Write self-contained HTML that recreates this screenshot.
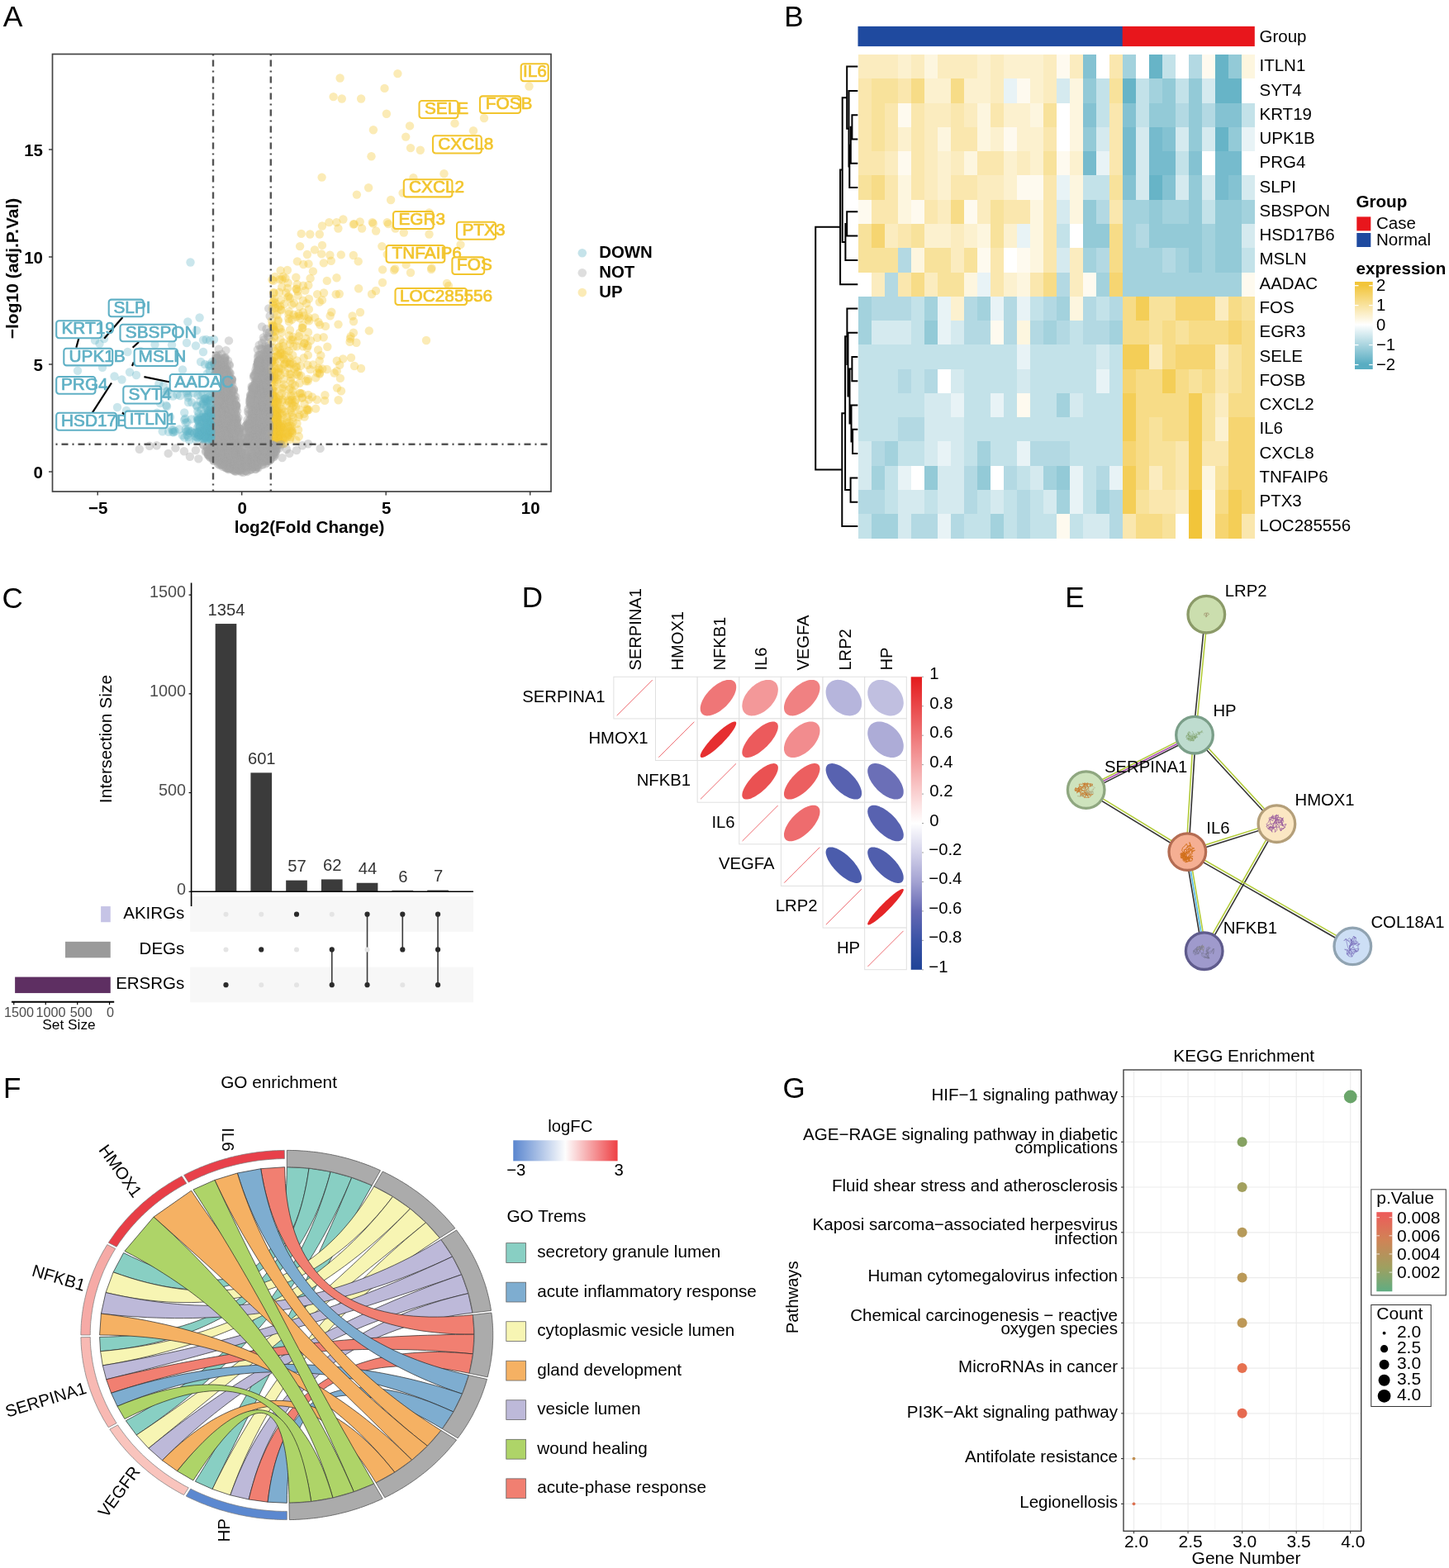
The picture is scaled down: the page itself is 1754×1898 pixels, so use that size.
<!DOCTYPE html>
<html lang="en">
<head>
<meta charset="utf-8">
<title>Figure</title>
<style>
html,body{margin:0;padding:0;background:#fff;}
body{width:1754px;height:1898px;overflow:hidden;}
svg{display:block;font-family:"Liberation Sans",sans-serif;}
</style>
</head>
<body>
<svg width="1754" height="1898" viewBox="0 0 1754 1898">
<rect width="1754" height="1898" fill="#fff"/>
<g id="panel_a">
<text x="3.7" y="31.7" font-size="35.5">A</text>
<g fill="#f3c736" fill-opacity="0.36"><circle cx="640.5" cy="104.5" r="5.2"/><circle cx="586.0" cy="143.0" r="5.2"/><circle cx="573.0" cy="158.2" r="5.2"/><circle cx="557.5" cy="296.1" r="5.2"/><circle cx="550.5" cy="149.4" r="5.2"/><circle cx="543.0" cy="346.0" r="5.2"/><circle cx="541.0" cy="343.0" r="5.2"/><circle cx="537.5" cy="210.3" r="5.2"/><circle cx="522.5" cy="324.4" r="5.2"/><circle cx="522.0" cy="326.0" r="5.2"/><circle cx="519.5" cy="257.5" r="5.2"/><circle cx="519.5" cy="283.5" r="5.2"/><circle cx="516.0" cy="412.0" r="5.2"/><circle cx="508.8" cy="181.7" r="5.2"/><circle cx="500.4" cy="215.2" r="5.2"/><circle cx="497.0" cy="330.0" r="5.2"/><circle cx="497.0" cy="179.1" r="5.2"/><circle cx="496.0" cy="152.4" r="5.2"/><circle cx="491.6" cy="320.4" r="5.2"/><circle cx="491.2" cy="165.6" r="5.2"/><circle cx="488.8" cy="281.5" r="5.2"/><circle cx="487.6" cy="233.6" r="5.2"/><circle cx="481.4" cy="89.1" r="5.2"/><circle cx="478.6" cy="276.5" r="5.2"/><circle cx="478.2" cy="325.4" r="5.2"/><circle cx="477.0" cy="327.0" r="5.2"/><circle cx="473.1" cy="242.0" r="5.2"/><circle cx="470.1" cy="271.1" r="5.2"/><circle cx="468.7" cy="269.1" r="5.2"/><circle cx="468.7" cy="308.0" r="5.2"/><circle cx="467.9" cy="137.8" r="5.2"/><circle cx="465.5" cy="106.9" r="5.2"/><circle cx="463.1" cy="326.4" r="5.2"/><circle cx="463.0" cy="342.0" r="5.2"/><circle cx="462.3" cy="298.1" r="5.2"/><circle cx="455.1" cy="279.5" r="5.2"/><circle cx="455.0" cy="352.0" r="5.2"/><circle cx="451.9" cy="157.2" r="5.2"/><circle cx="451.7" cy="270.5" r="5.2"/><circle cx="450.7" cy="269.1" r="5.2"/><circle cx="450.0" cy="356.0" r="5.2"/><circle cx="449.5" cy="189.3" r="5.2"/><circle cx="446.8" cy="400.4" r="5.2"/><circle cx="446.1" cy="227.2" r="5.2"/><circle cx="438.1" cy="276.5" r="5.2"/><circle cx="437.1" cy="119.5" r="5.2"/><circle cx="437.0" cy="446.0" r="5.2"/><circle cx="436.0" cy="378.0" r="5.2"/><circle cx="435.7" cy="268.5" r="5.2"/><circle cx="434.1" cy="349.2" r="5.2"/><circle cx="433.7" cy="316.4" r="5.2"/><circle cx="431.9" cy="235.6" r="5.2"/><circle cx="431.4" cy="414.7" r="5.2"/><circle cx="429.0" cy="443.0" r="5.2"/><circle cx="428.8" cy="271.1" r="5.2"/><circle cx="428.0" cy="389.0" r="5.2"/><circle cx="427.9" cy="402.8" r="5.2"/><circle cx="427.8" cy="271.5" r="5.2"/><circle cx="427.8" cy="309.0" r="5.2"/><circle cx="426.6" cy="382.5" r="5.2"/><circle cx="425.0" cy="433.0" r="5.2"/><circle cx="424.6" cy="407.2" r="5.2"/><circle cx="423.9" cy="409.9" r="5.2"/><circle cx="423.5" cy="413.9" r="5.2"/><circle cx="415.4" cy="265.5" r="5.2"/><circle cx="415.2" cy="434.4" r="5.2"/><circle cx="413.8" cy="119.5" r="5.2"/><circle cx="413.0" cy="473.2" r="5.2"/><circle cx="412.8" cy="308.4" r="5.2"/><circle cx="411.9" cy="457.9" r="5.2"/><circle cx="411.6" cy="94.5" r="5.2"/><circle cx="411.2" cy="441.7" r="5.2"/><circle cx="410.8" cy="355.8" r="5.2"/><circle cx="409.6" cy="484.3" r="5.2"/><circle cx="409.5" cy="392.6" r="5.2"/><circle cx="409.4" cy="276.5" r="5.2"/><circle cx="408.0" cy="469.6" r="5.2"/><circle cx="407.8" cy="436.7" r="5.2"/><circle cx="407.7" cy="449.2" r="5.2"/><circle cx="407.5" cy="336.3" r="5.2"/><circle cx="407.4" cy="269.1" r="5.2"/><circle cx="406.7" cy="356.2" r="5.2"/><circle cx="404.7" cy="451.5" r="5.2"/><circle cx="403.6" cy="117.1" r="5.2"/><circle cx="401.3" cy="377.7" r="5.2"/><circle cx="400.8" cy="315.8" r="5.2"/><circle cx="399.7" cy="382.2" r="5.2"/><circle cx="399.4" cy="308.8" r="5.2"/><circle cx="398.4" cy="269.1" r="5.2"/><circle cx="396.3" cy="419.7" r="5.2"/><circle cx="395.8" cy="339.9" r="5.2"/><circle cx="395.7" cy="447.0" r="5.2"/><circle cx="394.0" cy="394.9" r="5.2"/><circle cx="393.4" cy="478.2" r="5.2"/><circle cx="393.1" cy="484.9" r="5.2"/><circle cx="392.0" cy="354.5" r="5.2"/><circle cx="391.8" cy="318.4" r="5.2"/><circle cx="391.7" cy="408.3" r="5.2"/><circle cx="390.3" cy="446.5" r="5.2"/><circle cx="390.0" cy="273.5" r="5.2"/><circle cx="390.0" cy="296.9" r="5.2"/><circle cx="390.0" cy="363.2" r="5.2"/><circle cx="389.6" cy="214.6" r="5.2"/><circle cx="389.2" cy="307.4" r="5.2"/><circle cx="388.3" cy="430.2" r="5.2"/><circle cx="387.3" cy="393.1" r="5.2"/><circle cx="387.0" cy="452.6" r="5.2"/><circle cx="386.8" cy="283.5" r="5.2"/><circle cx="386.8" cy="451.6" r="5.2"/><circle cx="386.7" cy="365.6" r="5.2"/><circle cx="386.7" cy="436.6" r="5.2"/><circle cx="386.6" cy="447.4" r="5.2"/><circle cx="385.5" cy="445.6" r="5.2"/><circle cx="385.5" cy="390.0" r="5.2"/><circle cx="385.1" cy="423.5" r="5.2"/><circle cx="384.1" cy="356.1" r="5.2"/><circle cx="384.0" cy="408.7" r="5.2"/><circle cx="384.0" cy="451.3" r="5.2"/><circle cx="383.7" cy="483.7" r="5.2"/><circle cx="382.2" cy="494.6" r="5.2"/><circle cx="382.2" cy="457.4" r="5.2"/><circle cx="381.2" cy="384.4" r="5.2"/><circle cx="380.9" cy="302.4" r="5.2"/><circle cx="378.9" cy="441.4" r="5.2"/><circle cx="378.9" cy="328.4" r="5.2"/><circle cx="377.9" cy="480.5" r="5.2"/><circle cx="376.0" cy="412.3" r="5.2"/><circle cx="375.6" cy="336.9" r="5.2"/><circle cx="375.5" cy="447.1" r="5.2"/><circle cx="375.3" cy="283.5" r="5.2"/><circle cx="374.0" cy="388.4" r="5.2"/><circle cx="373.9" cy="361.7" r="5.2"/><circle cx="373.9" cy="483.6" r="5.2"/><circle cx="373.9" cy="374.4" r="5.2"/><circle cx="373.7" cy="496.0" r="5.2"/><circle cx="373.6" cy="384.3" r="5.2"/><circle cx="373.5" cy="319.4" r="5.2"/><circle cx="373.3" cy="345.2" r="5.2"/><circle cx="373.1" cy="477.9" r="5.2"/><circle cx="373.0" cy="402.2" r="5.2"/><circle cx="372.8" cy="429.9" r="5.2"/><circle cx="372.8" cy="461.3" r="5.2"/><circle cx="372.7" cy="459.0" r="5.2"/><circle cx="372.7" cy="418.5" r="5.2"/><circle cx="372.5" cy="386.5" r="5.2"/><circle cx="372.3" cy="441.7" r="5.2"/><circle cx="372.3" cy="496.5" r="5.2"/><circle cx="371.9" cy="420.9" r="5.2"/><circle cx="371.9" cy="308.0" r="5.2"/><circle cx="371.7" cy="494.6" r="5.2"/><circle cx="371.6" cy="496.3" r="5.2"/><circle cx="371.0" cy="367.3" r="5.2"/><circle cx="370.3" cy="461.3" r="5.2"/><circle cx="370.1" cy="409.6" r="5.2"/><circle cx="369.4" cy="351.6" r="5.2"/><circle cx="368.6" cy="504.6" r="5.2"/><circle cx="368.5" cy="488.7" r="5.2"/><circle cx="368.4" cy="415.3" r="5.2"/><circle cx="368.3" cy="382.3" r="5.2"/><circle cx="368.3" cy="415.8" r="5.2"/><circle cx="367.9" cy="500.9" r="5.2"/><circle cx="367.7" cy="433.3" r="5.2"/><circle cx="367.3" cy="320.0" r="5.2"/><circle cx="367.0" cy="345.7" r="5.2"/><circle cx="366.9" cy="363.8" r="5.2"/><circle cx="366.9" cy="378.0" r="5.2"/><circle cx="366.6" cy="419.4" r="5.2"/><circle cx="366.6" cy="393.5" r="5.2"/><circle cx="366.3" cy="397.0" r="5.2"/><circle cx="366.0" cy="481.1" r="5.2"/><circle cx="365.7" cy="396.8" r="5.2"/><circle cx="365.5" cy="476.4" r="5.2"/><circle cx="365.2" cy="481.8" r="5.2"/><circle cx="364.7" cy="282.9" r="5.2"/><circle cx="364.4" cy="454.8" r="5.2"/><circle cx="363.9" cy="442.8" r="5.2"/><circle cx="363.6" cy="476.2" r="5.2"/><circle cx="363.2" cy="385.2" r="5.2"/><circle cx="363.1" cy="298.1" r="5.2"/><circle cx="362.9" cy="475.7" r="5.2"/><circle cx="362.8" cy="402.6" r="5.2"/><circle cx="362.7" cy="502.0" r="5.2"/><circle cx="362.6" cy="370.8" r="5.2"/><circle cx="362.6" cy="463.8" r="5.2"/><circle cx="362.2" cy="495.7" r="5.2"/><circle cx="362.1" cy="382.1" r="5.2"/><circle cx="361.9" cy="454.6" r="5.2"/><circle cx="361.8" cy="528.2" r="5.2"/><circle cx="361.6" cy="407.0" r="5.2"/><circle cx="361.5" cy="379.7" r="5.2"/><circle cx="361.3" cy="504.7" r="5.2"/><circle cx="361.1" cy="520.2" r="5.2"/><circle cx="360.8" cy="412.3" r="5.2"/><circle cx="360.7" cy="357.6" r="5.2"/><circle cx="360.6" cy="450.3" r="5.2"/><circle cx="360.1" cy="352.6" r="5.2"/><circle cx="359.9" cy="316.4" r="5.2"/><circle cx="359.7" cy="344.2" r="5.2"/><circle cx="359.5" cy="436.5" r="5.2"/><circle cx="359.5" cy="512.7" r="5.2"/><circle cx="359.3" cy="419.3" r="5.2"/><circle cx="359.2" cy="453.3" r="5.2"/><circle cx="358.9" cy="349.4" r="5.2"/><circle cx="358.9" cy="443.9" r="5.2"/><circle cx="358.7" cy="383.5" r="5.2"/><circle cx="358.6" cy="350.1" r="5.2"/><circle cx="358.5" cy="444.7" r="5.2"/><circle cx="358.4" cy="532.9" r="5.2"/><circle cx="358.4" cy="483.7" r="5.2"/><circle cx="358.3" cy="335.8" r="5.2"/><circle cx="358.2" cy="492.5" r="5.2"/><circle cx="357.1" cy="466.5" r="5.2"/><circle cx="356.9" cy="487.1" r="5.2"/><circle cx="356.2" cy="446.7" r="5.2"/><circle cx="355.9" cy="366.8" r="5.2"/><circle cx="355.5" cy="491.1" r="5.2"/><circle cx="355.5" cy="478.5" r="5.2"/><circle cx="355.4" cy="380.9" r="5.2"/><circle cx="355.3" cy="419.5" r="5.2"/><circle cx="354.9" cy="505.2" r="5.2"/><circle cx="354.5" cy="407.7" r="5.2"/><circle cx="354.5" cy="511.3" r="5.2"/><circle cx="354.3" cy="473.4" r="5.2"/><circle cx="354.3" cy="440.1" r="5.2"/><circle cx="354.3" cy="430.0" r="5.2"/><circle cx="354.2" cy="411.4" r="5.2"/><circle cx="353.9" cy="483.6" r="5.2"/><circle cx="353.9" cy="521.6" r="5.2"/><circle cx="353.8" cy="493.4" r="5.2"/><circle cx="353.8" cy="501.9" r="5.2"/><circle cx="353.8" cy="464.5" r="5.2"/><circle cx="353.5" cy="524.2" r="5.2"/><circle cx="353.4" cy="386.7" r="5.2"/><circle cx="353.4" cy="523.5" r="5.2"/><circle cx="353.2" cy="368.6" r="5.2"/><circle cx="353.2" cy="488.2" r="5.2"/><circle cx="352.8" cy="520.7" r="5.2"/><circle cx="352.8" cy="515.7" r="5.2"/><circle cx="352.5" cy="479.5" r="5.2"/><circle cx="352.4" cy="457.1" r="5.2"/><circle cx="352.4" cy="499.4" r="5.2"/><circle cx="352.0" cy="411.5" r="5.2"/><circle cx="352.0" cy="453.0" r="5.2"/><circle cx="351.8" cy="484.1" r="5.2"/><circle cx="351.7" cy="461.3" r="5.2"/><circle cx="351.7" cy="529.0" r="5.2"/><circle cx="351.6" cy="470.2" r="5.2"/><circle cx="351.5" cy="496.1" r="5.2"/><circle cx="351.4" cy="518.4" r="5.2"/><circle cx="351.2" cy="522.3" r="5.2"/><circle cx="351.2" cy="416.0" r="5.2"/><circle cx="351.2" cy="361.2" r="5.2"/><circle cx="351.0" cy="440.6" r="5.2"/><circle cx="351.0" cy="399.4" r="5.2"/><circle cx="351.0" cy="531.7" r="5.2"/><circle cx="350.9" cy="438.0" r="5.2"/><circle cx="350.8" cy="515.3" r="5.2"/><circle cx="350.4" cy="452.7" r="5.2"/><circle cx="350.2" cy="433.1" r="5.2"/><circle cx="350.1" cy="406.3" r="5.2"/><circle cx="350.1" cy="510.5" r="5.2"/><circle cx="350.0" cy="486.6" r="5.2"/><circle cx="349.9" cy="389.4" r="5.2"/><circle cx="349.9" cy="439.9" r="5.2"/><circle cx="349.9" cy="471.4" r="5.2"/><circle cx="349.8" cy="377.3" r="5.2"/><circle cx="349.7" cy="358.6" r="5.2"/><circle cx="349.5" cy="425.0" r="5.2"/><circle cx="349.4" cy="380.2" r="5.2"/><circle cx="349.3" cy="445.6" r="5.2"/><circle cx="349.3" cy="385.8" r="5.2"/><circle cx="348.9" cy="484.8" r="5.2"/><circle cx="348.9" cy="526.2" r="5.2"/><circle cx="348.7" cy="342.4" r="5.2"/><circle cx="348.7" cy="359.4" r="5.2"/><circle cx="348.6" cy="516.2" r="5.2"/><circle cx="348.4" cy="529.1" r="5.2"/><circle cx="348.3" cy="527.4" r="5.2"/><circle cx="348.2" cy="349.0" r="5.2"/><circle cx="347.9" cy="327.0" r="5.2"/><circle cx="347.7" cy="524.8" r="5.2"/><circle cx="347.6" cy="504.9" r="5.2"/><circle cx="347.3" cy="508.1" r="5.2"/><circle cx="347.2" cy="511.6" r="5.2"/><circle cx="346.8" cy="424.1" r="5.2"/><circle cx="346.7" cy="490.7" r="5.2"/><circle cx="346.7" cy="438.4" r="5.2"/><circle cx="346.2" cy="354.4" r="5.2"/><circle cx="346.0" cy="523.8" r="5.2"/><circle cx="345.8" cy="479.2" r="5.2"/><circle cx="345.5" cy="336.7" r="5.2"/><circle cx="345.2" cy="529.8" r="5.2"/><circle cx="345.2" cy="450.8" r="5.2"/><circle cx="345.1" cy="498.4" r="5.2"/><circle cx="344.8" cy="440.5" r="5.2"/><circle cx="344.3" cy="429.5" r="5.2"/><circle cx="344.1" cy="434.8" r="5.2"/><circle cx="344.1" cy="440.9" r="5.2"/><circle cx="344.1" cy="520.8" r="5.2"/><circle cx="344.0" cy="536.7" r="5.2"/><circle cx="343.9" cy="368.0" r="5.2"/><circle cx="343.9" cy="517.0" r="5.2"/><circle cx="343.7" cy="465.4" r="5.2"/><circle cx="343.3" cy="459.2" r="5.2"/><circle cx="343.0" cy="414.7" r="5.2"/><circle cx="343.0" cy="520.9" r="5.2"/><circle cx="343.0" cy="537.1" r="5.2"/><circle cx="342.8" cy="418.9" r="5.2"/><circle cx="342.6" cy="334.7" r="5.2"/><circle cx="342.5" cy="532.3" r="5.2"/><circle cx="342.4" cy="469.3" r="5.2"/><circle cx="342.3" cy="513.9" r="5.2"/><circle cx="342.3" cy="502.3" r="5.2"/><circle cx="342.3" cy="524.1" r="5.2"/><circle cx="342.2" cy="530.6" r="5.2"/><circle cx="342.0" cy="432.5" r="5.2"/><circle cx="342.0" cy="483.7" r="5.2"/><circle cx="341.9" cy="518.3" r="5.2"/><circle cx="341.9" cy="529.9" r="5.2"/><circle cx="341.8" cy="499.8" r="5.2"/><circle cx="341.5" cy="486.1" r="5.2"/><circle cx="341.5" cy="428.2" r="5.2"/><circle cx="341.4" cy="517.1" r="5.2"/><circle cx="341.4" cy="338.3" r="5.2"/><circle cx="341.3" cy="513.0" r="5.2"/><circle cx="341.2" cy="495.1" r="5.2"/><circle cx="341.1" cy="347.6" r="5.2"/><circle cx="341.1" cy="525.9" r="5.2"/><circle cx="341.0" cy="402.3" r="5.2"/><circle cx="340.9" cy="470.3" r="5.2"/><circle cx="340.9" cy="476.1" r="5.2"/><circle cx="340.6" cy="375.4" r="5.2"/><circle cx="340.3" cy="446.2" r="5.2"/><circle cx="340.3" cy="530.1" r="5.2"/><circle cx="340.3" cy="363.1" r="5.2"/><circle cx="340.2" cy="516.0" r="5.2"/><circle cx="340.2" cy="435.5" r="5.2"/><circle cx="340.1" cy="515.6" r="5.2"/><circle cx="339.8" cy="536.3" r="5.2"/><circle cx="339.8" cy="374.6" r="5.2"/><circle cx="339.8" cy="427.1" r="5.2"/><circle cx="339.7" cy="453.8" r="5.2"/><circle cx="339.6" cy="398.2" r="5.2"/><circle cx="339.6" cy="327.4" r="5.2"/><circle cx="339.4" cy="424.0" r="5.2"/><circle cx="339.4" cy="411.4" r="5.2"/><circle cx="339.4" cy="509.3" r="5.2"/><circle cx="339.3" cy="535.9" r="5.2"/><circle cx="339.2" cy="500.6" r="5.2"/><circle cx="339.2" cy="519.8" r="5.2"/><circle cx="339.2" cy="370.5" r="5.2"/><circle cx="339.2" cy="428.5" r="5.2"/><circle cx="338.6" cy="338.2" r="5.2"/><circle cx="338.4" cy="445.1" r="5.2"/><circle cx="338.3" cy="526.6" r="5.2"/><circle cx="338.3" cy="531.9" r="5.2"/><circle cx="338.3" cy="522.7" r="5.2"/><circle cx="338.2" cy="493.1" r="5.2"/><circle cx="338.2" cy="396.9" r="5.2"/><circle cx="338.2" cy="532.5" r="5.2"/><circle cx="338.1" cy="353.8" r="5.2"/><circle cx="337.9" cy="419.6" r="5.2"/><circle cx="337.9" cy="479.2" r="5.2"/><circle cx="337.7" cy="536.7" r="5.2"/><circle cx="337.6" cy="450.4" r="5.2"/><circle cx="337.5" cy="526.4" r="5.2"/><circle cx="337.5" cy="522.8" r="5.2"/><circle cx="337.3" cy="527.8" r="5.2"/><circle cx="337.1" cy="483.7" r="5.2"/><circle cx="337.1" cy="506.1" r="5.2"/><circle cx="337.0" cy="446.0" r="5.2"/><circle cx="337.0" cy="518.9" r="5.2"/><circle cx="337.0" cy="515.5" r="5.2"/><circle cx="336.9" cy="371.7" r="5.2"/><circle cx="336.9" cy="524.6" r="5.2"/><circle cx="336.9" cy="430.3" r="5.2"/><circle cx="336.8" cy="529.4" r="5.2"/><circle cx="336.8" cy="387.4" r="5.2"/><circle cx="336.8" cy="523.2" r="5.2"/><circle cx="336.7" cy="494.5" r="5.2"/><circle cx="336.6" cy="388.5" r="5.2"/><circle cx="336.6" cy="512.3" r="5.2"/><circle cx="336.5" cy="486.0" r="5.2"/><circle cx="336.5" cy="459.5" r="5.2"/><circle cx="336.4" cy="512.5" r="5.2"/><circle cx="336.3" cy="421.0" r="5.2"/><circle cx="336.1" cy="429.5" r="5.2"/><circle cx="336.1" cy="506.0" r="5.2"/><circle cx="336.1" cy="487.7" r="5.2"/><circle cx="336.1" cy="451.4" r="5.2"/><circle cx="336.1" cy="530.6" r="5.2"/><circle cx="336.0" cy="508.9" r="5.2"/><circle cx="335.9" cy="530.0" r="5.2"/><circle cx="335.8" cy="530.6" r="5.2"/><circle cx="335.6" cy="504.0" r="5.2"/><circle cx="335.6" cy="531.9" r="5.2"/><circle cx="335.6" cy="523.2" r="5.2"/><circle cx="335.6" cy="504.1" r="5.2"/><circle cx="335.5" cy="511.0" r="5.2"/><circle cx="335.5" cy="512.6" r="5.2"/><circle cx="335.4" cy="531.0" r="5.2"/><circle cx="335.4" cy="535.5" r="5.2"/><circle cx="335.4" cy="501.4" r="5.2"/><circle cx="335.4" cy="381.2" r="5.2"/><circle cx="335.3" cy="496.5" r="5.2"/><circle cx="335.2" cy="528.0" r="5.2"/><circle cx="335.2" cy="498.9" r="5.2"/><circle cx="335.1" cy="494.1" r="5.2"/><circle cx="335.1" cy="534.4" r="5.2"/><circle cx="335.1" cy="535.5" r="5.2"/><circle cx="335.1" cy="532.4" r="5.2"/><circle cx="335.0" cy="528.2" r="5.2"/><circle cx="335.0" cy="500.9" r="5.2"/><circle cx="334.9" cy="520.8" r="5.2"/><circle cx="334.9" cy="522.3" r="5.2"/><circle cx="334.9" cy="520.4" r="5.2"/><circle cx="334.9" cy="462.0" r="5.2"/><circle cx="334.9" cy="517.6" r="5.2"/><circle cx="334.9" cy="521.5" r="5.2"/><circle cx="334.8" cy="513.2" r="5.2"/><circle cx="334.7" cy="535.6" r="5.2"/><circle cx="334.6" cy="523.4" r="5.2"/><circle cx="334.5" cy="526.6" r="5.2"/><circle cx="334.5" cy="513.1" r="5.2"/><circle cx="334.5" cy="486.2" r="5.2"/><circle cx="334.5" cy="505.1" r="5.2"/><circle cx="334.5" cy="510.7" r="5.2"/><circle cx="334.4" cy="518.5" r="5.2"/><circle cx="334.3" cy="516.6" r="5.2"/><circle cx="334.2" cy="518.5" r="5.2"/><circle cx="334.2" cy="506.6" r="5.2"/><circle cx="334.1" cy="507.5" r="5.2"/><circle cx="334.0" cy="480.9" r="5.2"/><circle cx="334.0" cy="528.9" r="5.2"/><circle cx="334.0" cy="503.1" r="5.2"/><circle cx="333.8" cy="495.6" r="5.2"/><circle cx="333.7" cy="504.3" r="5.2"/><circle cx="333.6" cy="456.9" r="5.2"/><circle cx="333.6" cy="533.1" r="5.2"/><circle cx="333.6" cy="511.6" r="5.2"/><circle cx="333.6" cy="484.6" r="5.2"/><circle cx="333.6" cy="514.4" r="5.2"/><circle cx="333.5" cy="519.5" r="5.2"/><circle cx="333.5" cy="367.2" r="5.2"/><circle cx="333.5" cy="524.0" r="5.2"/><circle cx="333.5" cy="515.6" r="5.2"/><circle cx="333.4" cy="497.6" r="5.2"/><circle cx="333.4" cy="523.9" r="5.2"/><circle cx="333.4" cy="447.1" r="5.2"/><circle cx="333.3" cy="401.4" r="5.2"/><circle cx="333.1" cy="486.3" r="5.2"/><circle cx="333.1" cy="495.8" r="5.2"/><circle cx="333.0" cy="372.9" r="5.2"/><circle cx="333.0" cy="510.6" r="5.2"/><circle cx="333.0" cy="524.6" r="5.2"/><circle cx="332.9" cy="530.5" r="5.2"/><circle cx="332.9" cy="529.8" r="5.2"/><circle cx="332.8" cy="425.1" r="5.2"/><circle cx="332.8" cy="335.0" r="5.2"/><circle cx="332.7" cy="459.8" r="5.2"/><circle cx="332.7" cy="438.2" r="5.2"/><circle cx="332.7" cy="512.0" r="5.2"/><circle cx="332.7" cy="519.7" r="5.2"/><circle cx="332.6" cy="501.9" r="5.2"/><circle cx="332.6" cy="495.8" r="5.2"/><circle cx="332.6" cy="520.0" r="5.2"/><circle cx="332.5" cy="536.2" r="5.2"/><circle cx="332.5" cy="515.6" r="5.2"/><circle cx="332.4" cy="467.1" r="5.2"/><circle cx="332.4" cy="535.5" r="5.2"/><circle cx="332.3" cy="528.2" r="5.2"/><circle cx="332.3" cy="479.2" r="5.2"/><circle cx="332.3" cy="501.8" r="5.2"/><circle cx="332.3" cy="399.6" r="5.2"/><circle cx="332.2" cy="503.1" r="5.2"/><circle cx="332.2" cy="525.7" r="5.2"/><circle cx="332.2" cy="524.9" r="5.2"/><circle cx="332.2" cy="408.5" r="5.2"/><circle cx="332.2" cy="361.6" r="5.2"/><circle cx="332.2" cy="474.0" r="5.2"/><circle cx="332.1" cy="494.7" r="5.2"/><circle cx="332.1" cy="501.7" r="5.2"/><circle cx="332.0" cy="514.1" r="5.2"/><circle cx="331.9" cy="531.1" r="5.2"/><circle cx="331.9" cy="534.0" r="5.2"/><circle cx="331.9" cy="535.8" r="5.2"/><circle cx="331.9" cy="454.9" r="5.2"/><circle cx="331.9" cy="518.4" r="5.2"/><circle cx="331.8" cy="432.0" r="5.2"/><circle cx="331.8" cy="407.1" r="5.2"/><circle cx="331.8" cy="364.7" r="5.2"/><circle cx="331.8" cy="486.0" r="5.2"/><circle cx="331.8" cy="450.6" r="5.2"/><circle cx="331.8" cy="432.3" r="5.2"/><circle cx="331.7" cy="442.3" r="5.2"/><circle cx="331.7" cy="521.9" r="5.2"/><circle cx="331.6" cy="488.2" r="5.2"/><circle cx="331.6" cy="502.3" r="5.2"/><circle cx="331.5" cy="379.5" r="5.2"/><circle cx="331.5" cy="523.0" r="5.2"/><circle cx="331.5" cy="458.1" r="5.2"/><circle cx="331.5" cy="507.1" r="5.2"/><circle cx="331.5" cy="501.9" r="5.2"/><circle cx="331.5" cy="524.1" r="5.2"/><circle cx="331.4" cy="534.4" r="5.2"/><circle cx="331.4" cy="506.4" r="5.2"/><circle cx="331.4" cy="355.0" r="5.2"/><circle cx="331.4" cy="394.4" r="5.2"/><circle cx="331.3" cy="515.1" r="5.2"/><circle cx="331.3" cy="526.0" r="5.2"/><circle cx="331.3" cy="525.1" r="5.2"/><circle cx="331.3" cy="534.9" r="5.2"/><circle cx="331.3" cy="529.9" r="5.2"/><circle cx="331.3" cy="503.7" r="5.2"/><circle cx="331.3" cy="520.3" r="5.2"/><circle cx="331.3" cy="354.0" r="5.2"/><circle cx="331.2" cy="528.7" r="5.2"/><circle cx="331.2" cy="512.1" r="5.2"/><circle cx="331.1" cy="479.2" r="5.2"/><circle cx="331.1" cy="481.6" r="5.2"/><circle cx="331.1" cy="505.0" r="5.2"/><circle cx="331.1" cy="515.5" r="5.2"/><circle cx="331.0" cy="479.9" r="5.2"/><circle cx="331.0" cy="526.8" r="5.2"/><circle cx="331.0" cy="437.9" r="5.2"/><circle cx="331.0" cy="369.2" r="5.2"/><circle cx="331.0" cy="532.1" r="5.2"/><circle cx="330.9" cy="397.9" r="5.2"/><circle cx="330.9" cy="339.8" r="5.2"/><circle cx="330.9" cy="395.2" r="5.2"/><circle cx="330.9" cy="526.5" r="5.2"/><circle cx="330.8" cy="510.3" r="5.2"/><circle cx="330.7" cy="486.2" r="5.2"/><circle cx="330.7" cy="473.1" r="5.2"/><circle cx="330.7" cy="469.4" r="5.2"/><circle cx="330.7" cy="533.3" r="5.2"/><circle cx="330.7" cy="504.0" r="5.2"/><circle cx="330.7" cy="535.9" r="5.2"/><circle cx="330.7" cy="517.4" r="5.2"/><circle cx="330.6" cy="527.0" r="5.2"/><circle cx="330.6" cy="522.1" r="5.2"/><circle cx="330.6" cy="531.6" r="5.2"/><circle cx="330.6" cy="522.5" r="5.2"/><circle cx="330.6" cy="500.9" r="5.2"/><circle cx="330.6" cy="526.1" r="5.2"/><circle cx="330.6" cy="514.6" r="5.2"/><circle cx="330.5" cy="528.1" r="5.2"/><circle cx="330.4" cy="509.0" r="5.2"/><circle cx="330.4" cy="365.5" r="5.2"/><circle cx="330.4" cy="534.5" r="5.2"/><circle cx="330.4" cy="526.9" r="5.2"/><circle cx="330.4" cy="401.7" r="5.2"/><circle cx="330.3" cy="524.4" r="5.2"/><circle cx="330.3" cy="514.2" r="5.2"/><circle cx="330.3" cy="517.6" r="5.2"/><circle cx="330.3" cy="483.2" r="5.2"/><circle cx="330.3" cy="511.3" r="5.2"/><circle cx="330.3" cy="459.4" r="5.2"/><circle cx="330.2" cy="514.2" r="5.2"/><circle cx="330.2" cy="532.3" r="5.2"/><circle cx="330.2" cy="527.9" r="5.2"/><circle cx="330.2" cy="531.5" r="5.2"/><circle cx="330.2" cy="535.6" r="5.2"/><circle cx="330.1" cy="514.7" r="5.2"/><circle cx="330.1" cy="527.9" r="5.2"/><circle cx="330.1" cy="525.5" r="5.2"/><circle cx="330.1" cy="420.7" r="5.2"/><circle cx="330.1" cy="490.5" r="5.2"/><circle cx="330.1" cy="488.3" r="5.2"/><circle cx="330.1" cy="503.5" r="5.2"/><circle cx="330.1" cy="522.4" r="5.2"/><circle cx="330.0" cy="513.2" r="5.2"/><circle cx="330.0" cy="478.1" r="5.2"/><circle cx="329.9" cy="529.2" r="5.2"/><circle cx="329.9" cy="535.5" r="5.2"/><circle cx="329.9" cy="518.9" r="5.2"/><circle cx="329.8" cy="512.3" r="5.2"/><circle cx="329.8" cy="480.7" r="5.2"/><circle cx="329.8" cy="521.7" r="5.2"/><circle cx="329.8" cy="536.5" r="5.2"/><circle cx="329.8" cy="521.9" r="5.2"/><circle cx="329.8" cy="521.5" r="5.2"/><circle cx="329.8" cy="535.0" r="5.2"/><circle cx="329.8" cy="507.3" r="5.2"/><circle cx="329.7" cy="506.4" r="5.2"/><circle cx="329.7" cy="515.3" r="5.2"/><circle cx="329.7" cy="522.7" r="5.2"/><circle cx="329.7" cy="531.7" r="5.2"/><circle cx="329.7" cy="480.6" r="5.2"/><circle cx="329.7" cy="395.2" r="5.2"/><circle cx="329.7" cy="436.4" r="5.2"/><circle cx="329.6" cy="471.3" r="5.2"/><circle cx="329.6" cy="373.7" r="5.2"/><circle cx="329.6" cy="521.2" r="5.2"/><circle cx="329.6" cy="475.4" r="5.2"/><circle cx="329.6" cy="522.9" r="5.2"/><circle cx="329.6" cy="521.9" r="5.2"/><circle cx="329.5" cy="520.6" r="5.2"/><circle cx="329.4" cy="507.9" r="5.2"/><circle cx="329.4" cy="495.5" r="5.2"/><circle cx="329.4" cy="448.3" r="5.2"/><circle cx="329.4" cy="534.8" r="5.2"/><circle cx="329.4" cy="393.1" r="5.2"/><circle cx="329.4" cy="438.2" r="5.2"/><circle cx="329.4" cy="521.9" r="5.2"/><circle cx="329.4" cy="500.0" r="5.2"/><circle cx="329.4" cy="338.6" r="5.2"/><circle cx="329.4" cy="524.7" r="5.2"/><circle cx="329.3" cy="455.8" r="5.2"/><circle cx="329.3" cy="516.4" r="5.2"/><circle cx="329.3" cy="515.6" r="5.2"/><circle cx="329.3" cy="505.1" r="5.2"/><circle cx="329.3" cy="516.1" r="5.2"/><circle cx="329.3" cy="527.1" r="5.2"/><circle cx="329.3" cy="529.5" r="5.2"/><circle cx="329.3" cy="528.0" r="5.2"/><circle cx="329.3" cy="519.4" r="5.2"/><circle cx="329.2" cy="516.6" r="5.2"/><circle cx="329.2" cy="534.4" r="5.2"/><circle cx="329.2" cy="487.0" r="5.2"/><circle cx="329.2" cy="510.0" r="5.2"/><circle cx="329.2" cy="477.5" r="5.2"/><circle cx="329.2" cy="413.2" r="5.2"/><circle cx="329.2" cy="502.6" r="5.2"/><circle cx="329.2" cy="435.9" r="5.2"/><circle cx="329.1" cy="525.9" r="5.2"/><circle cx="329.1" cy="499.2" r="5.2"/><circle cx="329.1" cy="536.5" r="5.2"/><circle cx="329.1" cy="388.3" r="5.2"/><circle cx="329.1" cy="489.7" r="5.2"/><circle cx="329.0" cy="494.3" r="5.2"/><circle cx="328.9" cy="450.2" r="5.2"/><circle cx="328.8" cy="479.7" r="5.2"/><circle cx="328.8" cy="438.3" r="5.2"/><circle cx="328.8" cy="506.5" r="5.2"/><circle cx="328.8" cy="437.0" r="5.2"/><circle cx="328.8" cy="463.8" r="5.2"/><circle cx="328.7" cy="436.8" r="5.2"/><circle cx="328.7" cy="456.5" r="5.2"/><circle cx="328.7" cy="447.5" r="5.2"/><circle cx="328.7" cy="455.4" r="5.2"/><circle cx="328.7" cy="488.8" r="5.2"/><circle cx="328.6" cy="525.5" r="5.2"/></g>
<g fill="#a4a4a4" fill-opacity="0.4"><circle cx="387.6" cy="542.9" r="5.2"/><circle cx="373.0" cy="537.2" r="5.2"/><circle cx="366.0" cy="539.3" r="5.2"/><circle cx="359.0" cy="545.0" r="5.2"/><circle cx="350.3" cy="548.9" r="5.2"/><circle cx="346.8" cy="543.7" r="5.2"/><circle cx="341.6" cy="554.1" r="5.2"/><circle cx="340.4" cy="538.3" r="5.2"/><circle cx="337.9" cy="542.6" r="5.2"/><circle cx="336.7" cy="539.1" r="5.2"/><circle cx="335.7" cy="542.6" r="5.2"/><circle cx="334.1" cy="546.6" r="5.2"/><circle cx="334.1" cy="545.1" r="5.2"/><circle cx="333.9" cy="541.2" r="5.2"/><circle cx="333.6" cy="547.3" r="5.2"/><circle cx="333.1" cy="543.8" r="5.2"/><circle cx="333.1" cy="550.2" r="5.2"/><circle cx="333.0" cy="540.0" r="5.2"/><circle cx="332.7" cy="540.5" r="5.2"/><circle cx="332.0" cy="552.9" r="5.2"/><circle cx="331.6" cy="547.4" r="5.2"/><circle cx="331.5" cy="548.3" r="5.2"/><circle cx="331.4" cy="552.6" r="5.2"/><circle cx="331.4" cy="541.5" r="5.2"/><circle cx="331.1" cy="546.7" r="5.2"/><circle cx="331.0" cy="550.4" r="5.2"/><circle cx="330.6" cy="538.3" r="5.2"/><circle cx="330.4" cy="550.2" r="5.2"/><circle cx="330.4" cy="539.7" r="5.2"/><circle cx="330.3" cy="539.7" r="5.2"/><circle cx="330.3" cy="548.6" r="5.2"/><circle cx="330.0" cy="539.0" r="5.2"/><circle cx="329.8" cy="542.9" r="5.2"/><circle cx="329.2" cy="552.4" r="5.2"/><circle cx="329.2" cy="538.8" r="5.2"/><circle cx="328.9" cy="538.1" r="5.2"/><circle cx="328.3" cy="546.0" r="5.2"/><circle cx="328.1" cy="549.5" r="5.2"/><circle cx="328.1" cy="555.9" r="5.2"/><circle cx="327.9" cy="550.7" r="5.2"/><circle cx="327.6" cy="543.5" r="5.2"/><circle cx="327.3" cy="556.4" r="5.2"/><circle cx="327.1" cy="540.0" r="5.2"/><circle cx="327.1" cy="546.5" r="5.2"/><circle cx="326.9" cy="553.7" r="5.2"/><circle cx="326.6" cy="382.5" r="5.2"/><circle cx="326.4" cy="557.3" r="5.2"/><circle cx="326.4" cy="546.3" r="5.2"/><circle cx="326.1" cy="544.0" r="5.2"/><circle cx="326.1" cy="557.5" r="5.2"/><circle cx="326.1" cy="402.2" r="5.2"/><circle cx="326.1" cy="548.3" r="5.2"/><circle cx="326.0" cy="551.2" r="5.2"/><circle cx="326.0" cy="555.5" r="5.2"/><circle cx="326.0" cy="554.9" r="5.2"/><circle cx="326.0" cy="538.6" r="5.2"/><circle cx="326.0" cy="538.0" r="5.2"/><circle cx="326.0" cy="550.3" r="5.2"/><circle cx="325.8" cy="479.4" r="5.2"/><circle cx="325.7" cy="418.5" r="5.2"/><circle cx="325.7" cy="519.1" r="5.2"/><circle cx="325.7" cy="425.7" r="5.2"/><circle cx="325.7" cy="513.1" r="5.2"/><circle cx="325.7" cy="481.7" r="5.2"/><circle cx="325.6" cy="514.7" r="5.2"/><circle cx="325.6" cy="501.2" r="5.2"/><circle cx="325.6" cy="518.0" r="5.2"/><circle cx="325.6" cy="457.0" r="5.2"/><circle cx="325.5" cy="525.1" r="5.2"/><circle cx="325.5" cy="408.3" r="5.2"/><circle cx="325.5" cy="537.8" r="5.2"/><circle cx="325.5" cy="453.8" r="5.2"/><circle cx="325.4" cy="472.0" r="5.2"/><circle cx="325.4" cy="498.7" r="5.2"/><circle cx="325.4" cy="442.9" r="5.2"/><circle cx="325.4" cy="473.0" r="5.2"/><circle cx="325.4" cy="492.2" r="5.2"/><circle cx="325.4" cy="503.8" r="5.2"/><circle cx="325.3" cy="474.4" r="5.2"/><circle cx="325.3" cy="537.0" r="5.2"/><circle cx="325.2" cy="522.2" r="5.2"/><circle cx="325.2" cy="458.6" r="5.2"/><circle cx="325.2" cy="457.6" r="5.2"/><circle cx="325.2" cy="428.8" r="5.2"/><circle cx="325.2" cy="436.0" r="5.2"/><circle cx="325.2" cy="432.5" r="5.2"/><circle cx="325.2" cy="544.1" r="5.2"/><circle cx="325.2" cy="373.4" r="5.2"/><circle cx="325.1" cy="542.1" r="5.2"/><circle cx="325.0" cy="530.3" r="5.2"/><circle cx="324.9" cy="422.2" r="5.2"/><circle cx="324.9" cy="438.1" r="5.2"/><circle cx="324.8" cy="548.3" r="5.2"/><circle cx="324.8" cy="496.3" r="5.2"/><circle cx="324.8" cy="479.9" r="5.2"/><circle cx="324.7" cy="421.9" r="5.2"/><circle cx="324.6" cy="494.7" r="5.2"/><circle cx="324.6" cy="503.3" r="5.2"/><circle cx="324.5" cy="468.7" r="5.2"/><circle cx="324.5" cy="433.3" r="5.2"/><circle cx="324.5" cy="510.4" r="5.2"/><circle cx="324.4" cy="436.4" r="5.2"/><circle cx="324.4" cy="442.3" r="5.2"/><circle cx="324.3" cy="486.2" r="5.2"/><circle cx="324.3" cy="445.9" r="5.2"/><circle cx="324.2" cy="496.1" r="5.2"/><circle cx="324.2" cy="469.2" r="5.2"/><circle cx="324.1" cy="549.5" r="5.2"/><circle cx="324.1" cy="461.5" r="5.2"/><circle cx="324.1" cy="407.2" r="5.2"/><circle cx="324.1" cy="460.5" r="5.2"/><circle cx="324.1" cy="495.5" r="5.2"/><circle cx="324.0" cy="486.0" r="5.2"/><circle cx="324.0" cy="532.8" r="5.2"/><circle cx="324.0" cy="509.7" r="5.2"/><circle cx="323.9" cy="469.9" r="5.2"/><circle cx="323.9" cy="557.7" r="5.2"/><circle cx="323.8" cy="421.4" r="5.2"/><circle cx="323.8" cy="450.0" r="5.2"/><circle cx="323.8" cy="471.8" r="5.2"/><circle cx="323.7" cy="501.3" r="5.2"/><circle cx="323.7" cy="552.0" r="5.2"/><circle cx="323.7" cy="537.4" r="5.2"/><circle cx="323.7" cy="433.3" r="5.2"/><circle cx="323.7" cy="557.7" r="5.2"/><circle cx="323.7" cy="517.8" r="5.2"/><circle cx="323.7" cy="508.5" r="5.2"/><circle cx="323.7" cy="540.8" r="5.2"/><circle cx="323.6" cy="558.0" r="5.2"/><circle cx="323.6" cy="541.0" r="5.2"/><circle cx="323.5" cy="537.8" r="5.2"/><circle cx="323.5" cy="495.5" r="5.2"/><circle cx="323.5" cy="459.3" r="5.2"/><circle cx="323.5" cy="492.8" r="5.2"/><circle cx="323.4" cy="529.9" r="5.2"/><circle cx="323.4" cy="532.0" r="5.2"/><circle cx="323.4" cy="514.8" r="5.2"/><circle cx="323.4" cy="460.5" r="5.2"/><circle cx="323.4" cy="451.6" r="5.2"/><circle cx="323.4" cy="437.3" r="5.2"/><circle cx="323.4" cy="555.8" r="5.2"/><circle cx="323.4" cy="541.6" r="5.2"/><circle cx="323.3" cy="430.7" r="5.2"/><circle cx="323.3" cy="521.3" r="5.2"/><circle cx="323.2" cy="560.0" r="5.2"/><circle cx="323.2" cy="548.4" r="5.2"/><circle cx="323.2" cy="483.5" r="5.2"/><circle cx="323.2" cy="494.1" r="5.2"/><circle cx="323.2" cy="502.9" r="5.2"/><circle cx="323.2" cy="456.0" r="5.2"/><circle cx="323.2" cy="531.5" r="5.2"/><circle cx="323.1" cy="539.7" r="5.2"/><circle cx="323.1" cy="539.2" r="5.2"/><circle cx="323.1" cy="555.0" r="5.2"/><circle cx="323.0" cy="403.1" r="5.2"/><circle cx="323.0" cy="428.2" r="5.2"/><circle cx="323.0" cy="501.7" r="5.2"/><circle cx="323.0" cy="466.8" r="5.2"/><circle cx="323.0" cy="477.1" r="5.2"/><circle cx="322.9" cy="433.1" r="5.2"/><circle cx="322.9" cy="423.8" r="5.2"/><circle cx="322.9" cy="514.6" r="5.2"/><circle cx="322.9" cy="491.7" r="5.2"/><circle cx="322.8" cy="523.2" r="5.2"/><circle cx="322.8" cy="494.2" r="5.2"/><circle cx="322.8" cy="438.7" r="5.2"/><circle cx="322.8" cy="511.2" r="5.2"/><circle cx="322.8" cy="522.8" r="5.2"/><circle cx="322.7" cy="551.0" r="5.2"/><circle cx="322.7" cy="509.3" r="5.2"/><circle cx="322.7" cy="494.1" r="5.2"/><circle cx="322.6" cy="489.0" r="5.2"/><circle cx="322.6" cy="492.6" r="5.2"/><circle cx="322.6" cy="506.8" r="5.2"/><circle cx="322.5" cy="533.7" r="5.2"/><circle cx="322.5" cy="548.8" r="5.2"/><circle cx="322.4" cy="494.6" r="5.2"/><circle cx="322.4" cy="398.1" r="5.2"/><circle cx="322.4" cy="429.1" r="5.2"/><circle cx="322.3" cy="425.4" r="5.2"/><circle cx="322.2" cy="538.7" r="5.2"/><circle cx="322.2" cy="455.7" r="5.2"/><circle cx="322.2" cy="494.3" r="5.2"/><circle cx="322.2" cy="497.9" r="5.2"/><circle cx="322.2" cy="497.5" r="5.2"/><circle cx="322.2" cy="468.8" r="5.2"/><circle cx="322.1" cy="540.8" r="5.2"/><circle cx="322.1" cy="495.2" r="5.2"/><circle cx="322.1" cy="440.1" r="5.2"/><circle cx="322.1" cy="502.5" r="5.2"/><circle cx="322.0" cy="420.4" r="5.2"/><circle cx="322.0" cy="462.2" r="5.2"/><circle cx="321.9" cy="551.1" r="5.2"/><circle cx="321.9" cy="455.4" r="5.2"/><circle cx="321.9" cy="489.1" r="5.2"/><circle cx="321.8" cy="465.7" r="5.2"/><circle cx="321.8" cy="465.0" r="5.2"/><circle cx="321.7" cy="507.9" r="5.2"/><circle cx="321.7" cy="518.4" r="5.2"/><circle cx="321.7" cy="429.9" r="5.2"/><circle cx="321.7" cy="472.5" r="5.2"/><circle cx="321.7" cy="533.6" r="5.2"/><circle cx="321.6" cy="465.2" r="5.2"/><circle cx="321.6" cy="454.8" r="5.2"/><circle cx="321.6" cy="469.5" r="5.2"/><circle cx="321.5" cy="502.0" r="5.2"/><circle cx="321.5" cy="555.1" r="5.2"/><circle cx="321.5" cy="435.9" r="5.2"/><circle cx="321.5" cy="474.8" r="5.2"/><circle cx="321.4" cy="484.0" r="5.2"/><circle cx="321.4" cy="531.9" r="5.2"/><circle cx="321.3" cy="561.5" r="5.2"/><circle cx="321.2" cy="471.7" r="5.2"/><circle cx="321.2" cy="418.4" r="5.2"/><circle cx="321.2" cy="543.1" r="5.2"/><circle cx="321.2" cy="540.2" r="5.2"/><circle cx="321.1" cy="483.9" r="5.2"/><circle cx="321.1" cy="439.7" r="5.2"/><circle cx="321.1" cy="437.8" r="5.2"/><circle cx="321.1" cy="423.0" r="5.2"/><circle cx="321.1" cy="551.8" r="5.2"/><circle cx="321.1" cy="537.2" r="5.2"/><circle cx="321.0" cy="545.4" r="5.2"/><circle cx="321.0" cy="460.0" r="5.2"/><circle cx="320.9" cy="554.7" r="5.2"/><circle cx="320.9" cy="483.3" r="5.2"/><circle cx="320.9" cy="536.2" r="5.2"/><circle cx="320.9" cy="556.5" r="5.2"/><circle cx="320.8" cy="499.5" r="5.2"/><circle cx="320.8" cy="539.3" r="5.2"/><circle cx="320.8" cy="426.1" r="5.2"/><circle cx="320.7" cy="538.5" r="5.2"/><circle cx="320.6" cy="546.4" r="5.2"/><circle cx="320.6" cy="480.3" r="5.2"/><circle cx="320.6" cy="520.2" r="5.2"/><circle cx="320.6" cy="450.5" r="5.2"/><circle cx="320.6" cy="521.0" r="5.2"/><circle cx="320.5" cy="458.5" r="5.2"/><circle cx="320.5" cy="470.6" r="5.2"/><circle cx="320.5" cy="539.1" r="5.2"/><circle cx="320.5" cy="445.7" r="5.2"/><circle cx="320.5" cy="541.5" r="5.2"/><circle cx="320.5" cy="530.6" r="5.2"/><circle cx="320.5" cy="459.5" r="5.2"/><circle cx="320.4" cy="435.3" r="5.2"/><circle cx="320.3" cy="456.9" r="5.2"/><circle cx="320.2" cy="555.5" r="5.2"/><circle cx="320.2" cy="551.8" r="5.2"/><circle cx="320.2" cy="454.3" r="5.2"/><circle cx="320.2" cy="469.0" r="5.2"/><circle cx="320.1" cy="463.6" r="5.2"/><circle cx="320.1" cy="517.4" r="5.2"/><circle cx="320.1" cy="456.7" r="5.2"/><circle cx="320.1" cy="502.3" r="5.2"/><circle cx="320.0" cy="548.1" r="5.2"/><circle cx="319.9" cy="557.8" r="5.2"/><circle cx="319.9" cy="449.1" r="5.2"/><circle cx="319.9" cy="551.6" r="5.2"/><circle cx="319.9" cy="507.4" r="5.2"/><circle cx="319.8" cy="497.6" r="5.2"/><circle cx="319.8" cy="436.1" r="5.2"/><circle cx="319.8" cy="464.3" r="5.2"/><circle cx="319.8" cy="454.0" r="5.2"/><circle cx="319.7" cy="411.2" r="5.2"/><circle cx="319.6" cy="493.8" r="5.2"/><circle cx="319.6" cy="464.2" r="5.2"/><circle cx="319.6" cy="448.9" r="5.2"/><circle cx="319.6" cy="511.8" r="5.2"/><circle cx="319.5" cy="445.3" r="5.2"/><circle cx="319.5" cy="440.5" r="5.2"/><circle cx="319.5" cy="497.7" r="5.2"/><circle cx="319.5" cy="540.1" r="5.2"/><circle cx="319.5" cy="447.7" r="5.2"/><circle cx="319.5" cy="480.5" r="5.2"/><circle cx="319.5" cy="554.9" r="5.2"/><circle cx="319.4" cy="553.9" r="5.2"/><circle cx="319.4" cy="543.3" r="5.2"/><circle cx="319.3" cy="505.3" r="5.2"/><circle cx="319.3" cy="558.9" r="5.2"/><circle cx="319.3" cy="526.3" r="5.2"/><circle cx="319.3" cy="493.2" r="5.2"/><circle cx="319.2" cy="528.5" r="5.2"/><circle cx="319.2" cy="445.7" r="5.2"/><circle cx="319.1" cy="443.9" r="5.2"/><circle cx="319.1" cy="430.6" r="5.2"/><circle cx="319.1" cy="518.6" r="5.2"/><circle cx="319.1" cy="430.9" r="5.2"/><circle cx="319.0" cy="547.6" r="5.2"/><circle cx="319.0" cy="433.0" r="5.2"/><circle cx="319.0" cy="445.2" r="5.2"/><circle cx="318.9" cy="497.6" r="5.2"/><circle cx="318.9" cy="551.1" r="5.2"/><circle cx="318.9" cy="545.3" r="5.2"/><circle cx="318.9" cy="467.0" r="5.2"/><circle cx="318.9" cy="408.5" r="5.2"/><circle cx="318.8" cy="435.7" r="5.2"/><circle cx="318.8" cy="510.0" r="5.2"/><circle cx="318.8" cy="467.3" r="5.2"/><circle cx="318.8" cy="439.2" r="5.2"/><circle cx="318.7" cy="473.4" r="5.2"/><circle cx="318.7" cy="549.1" r="5.2"/><circle cx="318.6" cy="546.4" r="5.2"/><circle cx="318.6" cy="480.4" r="5.2"/><circle cx="318.6" cy="558.3" r="5.2"/><circle cx="318.6" cy="502.8" r="5.2"/><circle cx="318.6" cy="476.1" r="5.2"/><circle cx="318.5" cy="447.2" r="5.2"/><circle cx="318.5" cy="449.0" r="5.2"/><circle cx="318.5" cy="488.0" r="5.2"/><circle cx="318.5" cy="549.9" r="5.2"/><circle cx="318.5" cy="474.4" r="5.2"/><circle cx="318.5" cy="468.0" r="5.2"/><circle cx="318.4" cy="512.7" r="5.2"/><circle cx="318.4" cy="454.2" r="5.2"/><circle cx="318.4" cy="461.5" r="5.2"/><circle cx="318.2" cy="534.5" r="5.2"/><circle cx="318.2" cy="549.5" r="5.2"/><circle cx="318.2" cy="481.1" r="5.2"/><circle cx="318.1" cy="456.9" r="5.2"/><circle cx="318.1" cy="515.3" r="5.2"/><circle cx="318.1" cy="443.3" r="5.2"/><circle cx="318.1" cy="538.9" r="5.2"/><circle cx="318.1" cy="499.5" r="5.2"/><circle cx="318.1" cy="555.4" r="5.2"/><circle cx="317.9" cy="467.4" r="5.2"/><circle cx="317.9" cy="520.3" r="5.2"/><circle cx="317.9" cy="450.4" r="5.2"/><circle cx="317.8" cy="553.4" r="5.2"/><circle cx="317.8" cy="552.9" r="5.2"/><circle cx="317.8" cy="543.6" r="5.2"/><circle cx="317.8" cy="562.7" r="5.2"/><circle cx="317.7" cy="546.4" r="5.2"/><circle cx="317.7" cy="499.4" r="5.2"/><circle cx="317.6" cy="471.5" r="5.2"/><circle cx="317.6" cy="487.4" r="5.2"/><circle cx="317.6" cy="495.8" r="5.2"/><circle cx="317.6" cy="457.4" r="5.2"/><circle cx="317.6" cy="479.5" r="5.2"/><circle cx="317.5" cy="475.5" r="5.2"/><circle cx="317.5" cy="459.2" r="5.2"/><circle cx="317.5" cy="481.9" r="5.2"/><circle cx="317.5" cy="496.5" r="5.2"/><circle cx="317.4" cy="476.0" r="5.2"/><circle cx="317.4" cy="450.4" r="5.2"/><circle cx="317.4" cy="483.5" r="5.2"/><circle cx="317.3" cy="493.1" r="5.2"/><circle cx="317.3" cy="559.1" r="5.2"/><circle cx="317.3" cy="502.8" r="5.2"/><circle cx="317.3" cy="415.2" r="5.2"/><circle cx="317.3" cy="530.0" r="5.2"/><circle cx="317.3" cy="499.9" r="5.2"/><circle cx="317.3" cy="428.9" r="5.2"/><circle cx="317.3" cy="466.7" r="5.2"/><circle cx="317.3" cy="505.9" r="5.2"/><circle cx="317.2" cy="485.9" r="5.2"/><circle cx="317.2" cy="538.2" r="5.2"/><circle cx="317.2" cy="551.6" r="5.2"/><circle cx="317.2" cy="459.4" r="5.2"/><circle cx="317.1" cy="515.1" r="5.2"/><circle cx="317.1" cy="395.5" r="5.2"/><circle cx="317.0" cy="482.1" r="5.2"/><circle cx="317.0" cy="422.5" r="5.2"/><circle cx="316.9" cy="538.5" r="5.2"/><circle cx="316.9" cy="494.5" r="5.2"/><circle cx="316.8" cy="562.4" r="5.2"/><circle cx="316.8" cy="478.1" r="5.2"/><circle cx="316.8" cy="528.1" r="5.2"/><circle cx="316.8" cy="458.6" r="5.2"/><circle cx="316.8" cy="435.5" r="5.2"/><circle cx="316.8" cy="537.9" r="5.2"/><circle cx="316.7" cy="491.2" r="5.2"/><circle cx="316.7" cy="557.5" r="5.2"/><circle cx="316.7" cy="532.0" r="5.2"/><circle cx="316.7" cy="534.4" r="5.2"/><circle cx="316.7" cy="514.4" r="5.2"/><circle cx="316.7" cy="551.1" r="5.2"/><circle cx="316.6" cy="495.5" r="5.2"/><circle cx="316.5" cy="540.2" r="5.2"/><circle cx="316.5" cy="484.7" r="5.2"/><circle cx="316.5" cy="526.4" r="5.2"/><circle cx="316.4" cy="514.1" r="5.2"/><circle cx="316.3" cy="457.4" r="5.2"/><circle cx="316.3" cy="448.4" r="5.2"/><circle cx="316.2" cy="522.4" r="5.2"/><circle cx="316.1" cy="491.8" r="5.2"/><circle cx="316.1" cy="551.4" r="5.2"/><circle cx="316.0" cy="474.8" r="5.2"/><circle cx="316.0" cy="521.4" r="5.2"/><circle cx="316.0" cy="529.9" r="5.2"/><circle cx="315.9" cy="504.2" r="5.2"/><circle cx="315.8" cy="555.9" r="5.2"/><circle cx="315.8" cy="434.0" r="5.2"/><circle cx="315.8" cy="444.5" r="5.2"/><circle cx="315.7" cy="467.6" r="5.2"/><circle cx="315.7" cy="441.8" r="5.2"/><circle cx="315.6" cy="460.2" r="5.2"/><circle cx="315.6" cy="510.1" r="5.2"/><circle cx="315.5" cy="474.7" r="5.2"/><circle cx="315.5" cy="454.9" r="5.2"/><circle cx="315.5" cy="421.8" r="5.2"/><circle cx="315.5" cy="440.4" r="5.2"/><circle cx="315.4" cy="448.9" r="5.2"/><circle cx="315.3" cy="429.7" r="5.2"/><circle cx="315.3" cy="496.6" r="5.2"/><circle cx="315.2" cy="476.2" r="5.2"/><circle cx="315.2" cy="489.4" r="5.2"/><circle cx="315.2" cy="553.0" r="5.2"/><circle cx="315.2" cy="520.8" r="5.2"/><circle cx="315.1" cy="535.4" r="5.2"/><circle cx="315.1" cy="480.6" r="5.2"/><circle cx="315.1" cy="459.4" r="5.2"/><circle cx="315.0" cy="535.0" r="5.2"/><circle cx="315.0" cy="445.6" r="5.2"/><circle cx="315.0" cy="518.5" r="5.2"/><circle cx="315.0" cy="525.7" r="5.2"/><circle cx="314.9" cy="471.1" r="5.2"/><circle cx="314.9" cy="464.6" r="5.2"/><circle cx="314.8" cy="516.2" r="5.2"/><circle cx="314.8" cy="444.5" r="5.2"/><circle cx="314.7" cy="546.5" r="5.2"/><circle cx="314.7" cy="443.6" r="5.2"/><circle cx="314.7" cy="514.2" r="5.2"/><circle cx="314.7" cy="534.3" r="5.2"/><circle cx="314.7" cy="477.5" r="5.2"/><circle cx="314.7" cy="553.8" r="5.2"/><circle cx="314.6" cy="546.3" r="5.2"/><circle cx="314.6" cy="448.5" r="5.2"/><circle cx="314.6" cy="473.3" r="5.2"/><circle cx="314.6" cy="444.5" r="5.2"/><circle cx="314.5" cy="490.5" r="5.2"/><circle cx="314.5" cy="527.7" r="5.2"/><circle cx="314.4" cy="519.7" r="5.2"/><circle cx="314.4" cy="483.0" r="5.2"/><circle cx="314.3" cy="538.7" r="5.2"/><circle cx="314.3" cy="447.3" r="5.2"/><circle cx="314.3" cy="516.7" r="5.2"/><circle cx="314.3" cy="508.1" r="5.2"/><circle cx="314.3" cy="437.7" r="5.2"/><circle cx="314.3" cy="522.6" r="5.2"/><circle cx="314.2" cy="466.7" r="5.2"/><circle cx="314.1" cy="475.7" r="5.2"/><circle cx="314.1" cy="542.9" r="5.2"/><circle cx="314.1" cy="527.5" r="5.2"/><circle cx="314.0" cy="551.7" r="5.2"/><circle cx="314.0" cy="499.6" r="5.2"/><circle cx="314.0" cy="429.6" r="5.2"/><circle cx="314.0" cy="436.5" r="5.2"/><circle cx="314.0" cy="442.9" r="5.2"/><circle cx="314.0" cy="490.6" r="5.2"/><circle cx="313.9" cy="448.1" r="5.2"/><circle cx="313.9" cy="508.1" r="5.2"/><circle cx="313.9" cy="492.0" r="5.2"/><circle cx="313.9" cy="545.1" r="5.2"/><circle cx="313.9" cy="440.0" r="5.2"/><circle cx="313.9" cy="531.2" r="5.2"/><circle cx="313.8" cy="504.0" r="5.2"/><circle cx="313.8" cy="530.1" r="5.2"/><circle cx="313.8" cy="443.8" r="5.2"/><circle cx="313.8" cy="555.8" r="5.2"/><circle cx="313.7" cy="417.7" r="5.2"/><circle cx="313.7" cy="435.1" r="5.2"/><circle cx="313.7" cy="436.1" r="5.2"/><circle cx="313.6" cy="485.8" r="5.2"/><circle cx="313.6" cy="438.9" r="5.2"/><circle cx="313.6" cy="541.4" r="5.2"/><circle cx="313.5" cy="505.4" r="5.2"/><circle cx="313.5" cy="518.7" r="5.2"/><circle cx="313.4" cy="472.9" r="5.2"/><circle cx="313.4" cy="439.9" r="5.2"/><circle cx="313.4" cy="451.6" r="5.2"/><circle cx="313.2" cy="472.3" r="5.2"/><circle cx="313.2" cy="487.6" r="5.2"/><circle cx="313.1" cy="552.9" r="5.2"/><circle cx="313.1" cy="469.3" r="5.2"/><circle cx="313.1" cy="464.4" r="5.2"/><circle cx="313.0" cy="562.0" r="5.2"/><circle cx="313.0" cy="450.7" r="5.2"/><circle cx="313.0" cy="443.5" r="5.2"/><circle cx="313.0" cy="517.0" r="5.2"/><circle cx="312.9" cy="442.2" r="5.2"/><circle cx="312.9" cy="447.7" r="5.2"/><circle cx="312.8" cy="505.3" r="5.2"/><circle cx="312.8" cy="466.6" r="5.2"/><circle cx="312.7" cy="479.2" r="5.2"/><circle cx="312.7" cy="515.4" r="5.2"/><circle cx="312.7" cy="437.5" r="5.2"/><circle cx="312.6" cy="566.2" r="5.2"/><circle cx="312.6" cy="429.9" r="5.2"/><circle cx="312.5" cy="544.8" r="5.2"/><circle cx="312.5" cy="510.3" r="5.2"/><circle cx="312.4" cy="454.5" r="5.2"/><circle cx="312.4" cy="540.4" r="5.2"/><circle cx="312.4" cy="514.8" r="5.2"/><circle cx="312.4" cy="446.0" r="5.2"/><circle cx="312.3" cy="526.1" r="5.2"/><circle cx="312.3" cy="527.1" r="5.2"/><circle cx="312.3" cy="456.8" r="5.2"/><circle cx="312.2" cy="497.1" r="5.2"/><circle cx="312.2" cy="462.2" r="5.2"/><circle cx="312.2" cy="523.2" r="5.2"/><circle cx="312.1" cy="437.6" r="5.2"/><circle cx="312.1" cy="533.6" r="5.2"/><circle cx="312.1" cy="432.7" r="5.2"/><circle cx="312.1" cy="437.2" r="5.2"/><circle cx="312.1" cy="463.7" r="5.2"/><circle cx="312.1" cy="519.9" r="5.2"/><circle cx="312.0" cy="496.6" r="5.2"/><circle cx="312.0" cy="538.8" r="5.2"/><circle cx="312.0" cy="482.4" r="5.2"/><circle cx="312.0" cy="463.1" r="5.2"/><circle cx="311.8" cy="440.3" r="5.2"/><circle cx="311.8" cy="440.3" r="5.2"/><circle cx="311.8" cy="442.6" r="5.2"/><circle cx="311.8" cy="478.4" r="5.2"/><circle cx="311.8" cy="532.3" r="5.2"/><circle cx="311.8" cy="423.1" r="5.2"/><circle cx="311.8" cy="525.0" r="5.2"/><circle cx="311.8" cy="523.7" r="5.2"/><circle cx="311.8" cy="532.3" r="5.2"/><circle cx="311.8" cy="547.3" r="5.2"/><circle cx="311.7" cy="557.3" r="5.2"/><circle cx="311.7" cy="483.7" r="5.2"/><circle cx="311.6" cy="535.3" r="5.2"/><circle cx="311.6" cy="460.7" r="5.2"/><circle cx="311.6" cy="553.7" r="5.2"/><circle cx="311.6" cy="482.9" r="5.2"/><circle cx="311.6" cy="441.6" r="5.2"/><circle cx="311.5" cy="565.5" r="5.2"/><circle cx="311.5" cy="460.3" r="5.2"/><circle cx="311.5" cy="447.4" r="5.2"/><circle cx="311.5" cy="449.1" r="5.2"/><circle cx="311.4" cy="535.3" r="5.2"/><circle cx="311.4" cy="508.8" r="5.2"/><circle cx="311.3" cy="499.9" r="5.2"/><circle cx="311.2" cy="520.1" r="5.2"/><circle cx="311.1" cy="491.6" r="5.2"/><circle cx="311.1" cy="497.9" r="5.2"/><circle cx="311.1" cy="518.7" r="5.2"/><circle cx="311.0" cy="526.9" r="5.2"/><circle cx="311.0" cy="562.8" r="5.2"/><circle cx="311.0" cy="523.3" r="5.2"/><circle cx="310.9" cy="550.3" r="5.2"/><circle cx="310.9" cy="509.9" r="5.2"/><circle cx="310.9" cy="459.9" r="5.2"/><circle cx="310.8" cy="481.0" r="5.2"/><circle cx="310.8" cy="476.6" r="5.2"/><circle cx="310.8" cy="492.2" r="5.2"/><circle cx="310.7" cy="488.3" r="5.2"/><circle cx="310.7" cy="511.4" r="5.2"/><circle cx="310.7" cy="565.3" r="5.2"/><circle cx="310.6" cy="538.7" r="5.2"/><circle cx="310.6" cy="460.2" r="5.2"/><circle cx="310.6" cy="450.3" r="5.2"/><circle cx="310.6" cy="513.5" r="5.2"/><circle cx="310.6" cy="553.3" r="5.2"/><circle cx="310.6" cy="543.9" r="5.2"/><circle cx="310.5" cy="551.5" r="5.2"/><circle cx="310.4" cy="443.4" r="5.2"/><circle cx="310.4" cy="557.7" r="5.2"/><circle cx="310.4" cy="475.1" r="5.2"/><circle cx="310.4" cy="551.8" r="5.2"/><circle cx="310.4" cy="533.4" r="5.2"/><circle cx="310.4" cy="524.6" r="5.2"/><circle cx="310.3" cy="479.9" r="5.2"/><circle cx="310.3" cy="505.0" r="5.2"/><circle cx="310.3" cy="500.1" r="5.2"/><circle cx="310.2" cy="502.4" r="5.2"/><circle cx="310.2" cy="476.7" r="5.2"/><circle cx="310.1" cy="548.6" r="5.2"/><circle cx="310.1" cy="564.9" r="5.2"/><circle cx="310.0" cy="545.3" r="5.2"/><circle cx="310.0" cy="525.5" r="5.2"/><circle cx="309.9" cy="497.3" r="5.2"/><circle cx="309.9" cy="526.3" r="5.2"/><circle cx="309.9" cy="548.3" r="5.2"/><circle cx="309.8" cy="555.3" r="5.2"/><circle cx="309.8" cy="539.6" r="5.2"/><circle cx="309.8" cy="548.0" r="5.2"/><circle cx="309.7" cy="555.5" r="5.2"/><circle cx="309.7" cy="498.1" r="5.2"/><circle cx="309.7" cy="567.8" r="5.2"/><circle cx="309.7" cy="553.8" r="5.2"/><circle cx="309.6" cy="533.5" r="5.2"/><circle cx="309.6" cy="493.3" r="5.2"/><circle cx="309.5" cy="465.5" r="5.2"/><circle cx="309.5" cy="532.8" r="5.2"/><circle cx="309.5" cy="470.5" r="5.2"/><circle cx="309.5" cy="533.0" r="5.2"/><circle cx="309.5" cy="528.6" r="5.2"/><circle cx="309.4" cy="447.7" r="5.2"/><circle cx="309.3" cy="450.9" r="5.2"/><circle cx="309.3" cy="468.7" r="5.2"/><circle cx="309.3" cy="558.6" r="5.2"/><circle cx="309.3" cy="496.8" r="5.2"/><circle cx="309.3" cy="547.7" r="5.2"/><circle cx="309.3" cy="462.8" r="5.2"/><circle cx="309.2" cy="460.1" r="5.2"/><circle cx="309.2" cy="505.8" r="5.2"/><circle cx="309.1" cy="471.2" r="5.2"/><circle cx="309.1" cy="546.0" r="5.2"/><circle cx="309.0" cy="520.5" r="5.2"/><circle cx="308.9" cy="568.0" r="5.2"/><circle cx="308.9" cy="518.2" r="5.2"/><circle cx="308.9" cy="465.7" r="5.2"/><circle cx="308.8" cy="512.4" r="5.2"/><circle cx="308.8" cy="524.1" r="5.2"/><circle cx="308.8" cy="543.7" r="5.2"/><circle cx="308.8" cy="520.6" r="5.2"/><circle cx="308.7" cy="473.9" r="5.2"/><circle cx="308.7" cy="531.4" r="5.2"/><circle cx="308.6" cy="487.6" r="5.2"/><circle cx="308.6" cy="508.8" r="5.2"/><circle cx="308.6" cy="536.2" r="5.2"/><circle cx="308.6" cy="492.0" r="5.2"/><circle cx="308.6" cy="492.6" r="5.2"/><circle cx="308.5" cy="455.2" r="5.2"/><circle cx="308.5" cy="545.0" r="5.2"/><circle cx="308.5" cy="493.3" r="5.2"/><circle cx="308.4" cy="532.2" r="5.2"/><circle cx="308.4" cy="556.5" r="5.2"/><circle cx="308.3" cy="490.8" r="5.2"/><circle cx="308.2" cy="465.4" r="5.2"/><circle cx="308.2" cy="522.9" r="5.2"/><circle cx="308.2" cy="532.8" r="5.2"/><circle cx="308.2" cy="561.5" r="5.2"/><circle cx="308.2" cy="485.4" r="5.2"/><circle cx="308.1" cy="511.6" r="5.2"/><circle cx="308.1" cy="542.5" r="5.2"/><circle cx="308.0" cy="529.0" r="5.2"/><circle cx="308.0" cy="560.1" r="5.2"/><circle cx="307.9" cy="545.8" r="5.2"/><circle cx="307.9" cy="539.6" r="5.2"/><circle cx="307.9" cy="454.2" r="5.2"/><circle cx="307.9" cy="518.2" r="5.2"/><circle cx="307.9" cy="555.8" r="5.2"/><circle cx="307.7" cy="485.4" r="5.2"/><circle cx="307.6" cy="545.1" r="5.2"/><circle cx="307.6" cy="563.4" r="5.2"/><circle cx="307.6" cy="470.9" r="5.2"/><circle cx="307.5" cy="525.9" r="5.2"/><circle cx="307.5" cy="550.1" r="5.2"/><circle cx="307.5" cy="512.7" r="5.2"/><circle cx="307.4" cy="565.0" r="5.2"/><circle cx="307.4" cy="470.3" r="5.2"/><circle cx="307.4" cy="489.9" r="5.2"/><circle cx="307.3" cy="561.9" r="5.2"/><circle cx="307.1" cy="504.5" r="5.2"/><circle cx="307.1" cy="517.0" r="5.2"/><circle cx="307.1" cy="535.8" r="5.2"/><circle cx="307.1" cy="454.5" r="5.2"/><circle cx="307.1" cy="527.5" r="5.2"/><circle cx="307.1" cy="522.2" r="5.2"/><circle cx="307.0" cy="468.3" r="5.2"/><circle cx="307.0" cy="456.7" r="5.2"/><circle cx="306.8" cy="473.1" r="5.2"/><circle cx="306.8" cy="565.4" r="5.2"/><circle cx="306.8" cy="510.1" r="5.2"/><circle cx="306.8" cy="513.4" r="5.2"/><circle cx="306.7" cy="550.2" r="5.2"/><circle cx="306.7" cy="557.1" r="5.2"/><circle cx="306.7" cy="529.1" r="5.2"/><circle cx="306.7" cy="510.3" r="5.2"/><circle cx="306.6" cy="470.4" r="5.2"/><circle cx="306.6" cy="499.6" r="5.2"/><circle cx="306.6" cy="470.3" r="5.2"/><circle cx="306.5" cy="505.0" r="5.2"/><circle cx="306.4" cy="466.7" r="5.2"/><circle cx="306.4" cy="472.1" r="5.2"/><circle cx="306.4" cy="532.2" r="5.2"/><circle cx="306.4" cy="557.3" r="5.2"/><circle cx="306.3" cy="523.6" r="5.2"/><circle cx="306.3" cy="503.2" r="5.2"/><circle cx="306.3" cy="537.6" r="5.2"/><circle cx="306.2" cy="475.8" r="5.2"/><circle cx="306.2" cy="540.9" r="5.2"/><circle cx="306.1" cy="555.7" r="5.2"/><circle cx="306.1" cy="501.5" r="5.2"/><circle cx="306.1" cy="470.3" r="5.2"/><circle cx="305.9" cy="493.7" r="5.2"/><circle cx="305.9" cy="560.5" r="5.2"/><circle cx="305.9" cy="554.2" r="5.2"/><circle cx="305.8" cy="504.6" r="5.2"/><circle cx="305.7" cy="530.8" r="5.2"/><circle cx="305.7" cy="552.2" r="5.2"/><circle cx="305.7" cy="565.2" r="5.2"/><circle cx="305.7" cy="507.5" r="5.2"/><circle cx="305.6" cy="501.3" r="5.2"/><circle cx="305.6" cy="524.1" r="5.2"/><circle cx="305.6" cy="520.9" r="5.2"/><circle cx="305.5" cy="500.9" r="5.2"/><circle cx="305.5" cy="511.4" r="5.2"/><circle cx="305.5" cy="472.4" r="5.2"/><circle cx="305.5" cy="477.9" r="5.2"/><circle cx="305.4" cy="531.7" r="5.2"/><circle cx="305.4" cy="497.8" r="5.2"/><circle cx="305.4" cy="539.0" r="5.2"/><circle cx="305.4" cy="506.3" r="5.2"/><circle cx="305.4" cy="528.3" r="5.2"/><circle cx="305.3" cy="491.0" r="5.2"/><circle cx="305.2" cy="535.8" r="5.2"/><circle cx="305.2" cy="505.1" r="5.2"/><circle cx="305.2" cy="469.4" r="5.2"/><circle cx="305.1" cy="528.9" r="5.2"/><circle cx="305.0" cy="548.6" r="5.2"/><circle cx="305.0" cy="510.7" r="5.2"/><circle cx="305.0" cy="477.4" r="5.2"/><circle cx="304.9" cy="517.1" r="5.2"/><circle cx="304.9" cy="552.7" r="5.2"/><circle cx="304.8" cy="565.3" r="5.2"/><circle cx="304.8" cy="478.1" r="5.2"/><circle cx="304.7" cy="504.7" r="5.2"/><circle cx="304.6" cy="514.3" r="5.2"/><circle cx="304.6" cy="467.7" r="5.2"/><circle cx="304.6" cy="471.2" r="5.2"/><circle cx="304.6" cy="510.2" r="5.2"/><circle cx="304.6" cy="518.8" r="5.2"/><circle cx="304.5" cy="528.9" r="5.2"/><circle cx="304.5" cy="498.8" r="5.2"/><circle cx="304.5" cy="549.5" r="5.2"/><circle cx="304.5" cy="560.3" r="5.2"/><circle cx="304.4" cy="549.1" r="5.2"/><circle cx="304.4" cy="512.1" r="5.2"/><circle cx="304.4" cy="489.4" r="5.2"/><circle cx="304.4" cy="526.2" r="5.2"/><circle cx="304.3" cy="531.9" r="5.2"/><circle cx="304.3" cy="525.5" r="5.2"/><circle cx="304.3" cy="505.9" r="5.2"/><circle cx="304.0" cy="529.0" r="5.2"/><circle cx="303.9" cy="568.2" r="5.2"/><circle cx="303.9" cy="568.2" r="5.2"/><circle cx="303.9" cy="549.3" r="5.2"/><circle cx="303.8" cy="481.2" r="5.2"/><circle cx="303.7" cy="477.9" r="5.2"/><circle cx="303.7" cy="520.1" r="5.2"/><circle cx="303.6" cy="562.3" r="5.2"/><circle cx="303.6" cy="522.8" r="5.2"/><circle cx="303.5" cy="483.2" r="5.2"/><circle cx="303.5" cy="546.1" r="5.2"/><circle cx="303.5" cy="554.7" r="5.2"/><circle cx="303.5" cy="530.9" r="5.2"/><circle cx="303.4" cy="491.1" r="5.2"/><circle cx="303.3" cy="513.5" r="5.2"/><circle cx="303.3" cy="561.4" r="5.2"/><circle cx="303.3" cy="515.0" r="5.2"/><circle cx="303.2" cy="531.4" r="5.2"/><circle cx="303.2" cy="501.7" r="5.2"/><circle cx="303.2" cy="479.9" r="5.2"/><circle cx="303.1" cy="482.8" r="5.2"/><circle cx="303.1" cy="478.0" r="5.2"/><circle cx="303.0" cy="532.6" r="5.2"/><circle cx="302.8" cy="491.1" r="5.2"/><circle cx="302.8" cy="564.3" r="5.2"/><circle cx="302.7" cy="560.4" r="5.2"/><circle cx="302.7" cy="539.3" r="5.2"/><circle cx="302.6" cy="487.4" r="5.2"/><circle cx="302.6" cy="508.2" r="5.2"/><circle cx="302.5" cy="540.9" r="5.2"/><circle cx="302.5" cy="552.9" r="5.2"/><circle cx="302.4" cy="488.5" r="5.2"/><circle cx="302.4" cy="485.7" r="5.2"/><circle cx="302.3" cy="508.8" r="5.2"/><circle cx="302.3" cy="483.6" r="5.2"/><circle cx="302.3" cy="526.9" r="5.2"/><circle cx="302.2" cy="559.6" r="5.2"/><circle cx="302.2" cy="525.0" r="5.2"/><circle cx="302.1" cy="530.1" r="5.2"/><circle cx="302.0" cy="536.8" r="5.2"/><circle cx="301.9" cy="513.4" r="5.2"/><circle cx="301.8" cy="555.0" r="5.2"/><circle cx="301.8" cy="528.1" r="5.2"/><circle cx="301.7" cy="540.6" r="5.2"/><circle cx="301.7" cy="516.8" r="5.2"/><circle cx="301.6" cy="562.0" r="5.2"/><circle cx="301.6" cy="534.0" r="5.2"/><circle cx="301.5" cy="569.4" r="5.2"/><circle cx="301.5" cy="514.6" r="5.2"/><circle cx="301.4" cy="512.9" r="5.2"/><circle cx="301.4" cy="526.7" r="5.2"/><circle cx="301.3" cy="531.1" r="5.2"/><circle cx="301.3" cy="530.4" r="5.2"/><circle cx="301.3" cy="518.5" r="5.2"/><circle cx="301.2" cy="500.9" r="5.2"/><circle cx="301.2" cy="556.4" r="5.2"/><circle cx="301.2" cy="516.0" r="5.2"/><circle cx="301.1" cy="536.6" r="5.2"/><circle cx="301.1" cy="514.2" r="5.2"/><circle cx="301.0" cy="518.7" r="5.2"/><circle cx="300.8" cy="513.6" r="5.2"/><circle cx="300.7" cy="532.5" r="5.2"/><circle cx="300.7" cy="532.7" r="5.2"/><circle cx="300.7" cy="537.7" r="5.2"/><circle cx="300.6" cy="495.0" r="5.2"/><circle cx="300.5" cy="513.5" r="5.2"/><circle cx="300.5" cy="530.7" r="5.2"/><circle cx="300.2" cy="498.3" r="5.2"/><circle cx="300.2" cy="530.2" r="5.2"/><circle cx="299.9" cy="525.2" r="5.2"/><circle cx="299.8" cy="531.4" r="5.2"/><circle cx="299.8" cy="564.4" r="5.2"/><circle cx="299.8" cy="512.3" r="5.2"/><circle cx="299.6" cy="556.2" r="5.2"/><circle cx="299.6" cy="508.3" r="5.2"/><circle cx="299.5" cy="516.4" r="5.2"/><circle cx="299.5" cy="531.2" r="5.2"/><circle cx="299.4" cy="519.9" r="5.2"/><circle cx="299.4" cy="559.3" r="5.2"/><circle cx="299.3" cy="561.9" r="5.2"/><circle cx="299.2" cy="531.5" r="5.2"/><circle cx="299.1" cy="517.7" r="5.2"/><circle cx="299.0" cy="571.1" r="5.2"/><circle cx="298.6" cy="564.9" r="5.2"/><circle cx="298.6" cy="536.3" r="5.2"/><circle cx="298.6" cy="559.2" r="5.2"/><circle cx="298.5" cy="514.1" r="5.2"/><circle cx="298.2" cy="540.1" r="5.2"/><circle cx="298.2" cy="554.9" r="5.2"/><circle cx="298.1" cy="558.0" r="5.2"/><circle cx="298.1" cy="549.6" r="5.2"/><circle cx="297.8" cy="515.3" r="5.2"/><circle cx="297.8" cy="516.0" r="5.2"/><circle cx="297.7" cy="570.1" r="5.2"/><circle cx="297.5" cy="554.1" r="5.2"/><circle cx="297.4" cy="562.7" r="5.2"/><circle cx="297.4" cy="523.5" r="5.2"/><circle cx="297.4" cy="543.3" r="5.2"/><circle cx="297.3" cy="536.8" r="5.2"/><circle cx="297.3" cy="547.2" r="5.2"/><circle cx="297.3" cy="524.4" r="5.2"/><circle cx="297.2" cy="569.8" r="5.2"/><circle cx="297.2" cy="565.6" r="5.2"/><circle cx="297.0" cy="563.2" r="5.2"/><circle cx="296.9" cy="554.7" r="5.2"/><circle cx="296.4" cy="563.8" r="5.2"/><circle cx="296.4" cy="530.3" r="5.2"/><circle cx="296.3" cy="560.6" r="5.2"/><circle cx="296.3" cy="536.3" r="5.2"/><circle cx="296.2" cy="549.1" r="5.2"/><circle cx="296.2" cy="530.1" r="5.2"/><circle cx="296.1" cy="565.6" r="5.2"/><circle cx="295.9" cy="552.2" r="5.2"/><circle cx="295.9" cy="554.2" r="5.2"/><circle cx="295.9" cy="561.9" r="5.2"/><circle cx="295.9" cy="561.9" r="5.2"/><circle cx="295.7" cy="557.1" r="5.2"/><circle cx="295.7" cy="564.0" r="5.2"/><circle cx="295.6" cy="546.6" r="5.2"/><circle cx="295.6" cy="536.8" r="5.2"/><circle cx="295.4" cy="557.9" r="5.2"/><circle cx="294.9" cy="548.5" r="5.2"/><circle cx="294.8" cy="555.3" r="5.2"/><circle cx="294.7" cy="560.9" r="5.2"/><circle cx="294.5" cy="571.7" r="5.2"/><circle cx="293.0" cy="548.9" r="5.2"/><circle cx="292.7" cy="547.1" r="5.2"/><circle cx="292.2" cy="562.6" r="5.2"/><circle cx="292.2" cy="542.2" r="5.2"/><circle cx="292.0" cy="571.3" r="5.2"/><circle cx="292.0" cy="569.2" r="5.2"/><circle cx="292.0" cy="565.6" r="5.2"/><circle cx="291.9" cy="550.5" r="5.2"/><circle cx="291.8" cy="567.9" r="5.2"/><circle cx="291.6" cy="558.3" r="5.2"/><circle cx="291.6" cy="563.2" r="5.2"/><circle cx="291.3" cy="531.2" r="5.2"/><circle cx="291.1" cy="537.1" r="5.2"/><circle cx="291.1" cy="547.0" r="5.2"/><circle cx="291.1" cy="535.0" r="5.2"/><circle cx="291.0" cy="550.7" r="5.2"/><circle cx="290.6" cy="557.3" r="5.2"/><circle cx="290.6" cy="525.6" r="5.2"/><circle cx="290.5" cy="549.1" r="5.2"/><circle cx="290.3" cy="565.0" r="5.2"/><circle cx="290.3" cy="569.6" r="5.2"/><circle cx="290.3" cy="549.5" r="5.2"/><circle cx="290.2" cy="545.4" r="5.2"/><circle cx="290.1" cy="566.5" r="5.2"/><circle cx="290.1" cy="521.0" r="5.2"/><circle cx="290.0" cy="558.0" r="5.2"/><circle cx="289.9" cy="552.6" r="5.2"/><circle cx="289.9" cy="519.2" r="5.2"/><circle cx="289.8" cy="536.3" r="5.2"/><circle cx="289.8" cy="518.6" r="5.2"/><circle cx="289.7" cy="555.8" r="5.2"/><circle cx="289.7" cy="518.2" r="5.2"/><circle cx="289.6" cy="522.7" r="5.2"/><circle cx="289.6" cy="518.6" r="5.2"/><circle cx="289.6" cy="524.8" r="5.2"/><circle cx="289.6" cy="528.2" r="5.2"/><circle cx="289.6" cy="522.0" r="5.2"/><circle cx="289.6" cy="558.0" r="5.2"/><circle cx="289.6" cy="563.3" r="5.2"/><circle cx="289.5" cy="536.4" r="5.2"/><circle cx="289.4" cy="524.4" r="5.2"/><circle cx="289.4" cy="533.0" r="5.2"/><circle cx="289.3" cy="531.0" r="5.2"/><circle cx="289.2" cy="558.4" r="5.2"/><circle cx="289.2" cy="556.6" r="5.2"/><circle cx="289.2" cy="535.1" r="5.2"/><circle cx="289.2" cy="569.6" r="5.2"/><circle cx="288.9" cy="558.2" r="5.2"/><circle cx="288.9" cy="560.4" r="5.2"/><circle cx="288.8" cy="568.9" r="5.2"/><circle cx="288.7" cy="553.2" r="5.2"/><circle cx="288.7" cy="561.2" r="5.2"/><circle cx="288.7" cy="549.8" r="5.2"/><circle cx="288.6" cy="540.8" r="5.2"/><circle cx="288.6" cy="568.1" r="5.2"/><circle cx="288.5" cy="558.3" r="5.2"/><circle cx="288.4" cy="505.6" r="5.2"/><circle cx="288.4" cy="541.0" r="5.2"/><circle cx="288.3" cy="535.5" r="5.2"/><circle cx="288.2" cy="564.1" r="5.2"/><circle cx="288.1" cy="557.4" r="5.2"/><circle cx="288.0" cy="554.5" r="5.2"/><circle cx="288.0" cy="543.7" r="5.2"/><circle cx="287.8" cy="542.6" r="5.2"/><circle cx="287.8" cy="527.4" r="5.2"/><circle cx="287.7" cy="561.9" r="5.2"/><circle cx="287.5" cy="521.8" r="5.2"/><circle cx="287.5" cy="518.7" r="5.2"/><circle cx="287.5" cy="547.3" r="5.2"/><circle cx="287.4" cy="559.6" r="5.2"/><circle cx="287.4" cy="563.8" r="5.2"/><circle cx="287.3" cy="513.9" r="5.2"/><circle cx="287.3" cy="511.3" r="5.2"/><circle cx="287.1" cy="515.5" r="5.2"/><circle cx="287.1" cy="497.5" r="5.2"/><circle cx="286.9" cy="506.9" r="5.2"/><circle cx="286.9" cy="568.5" r="5.2"/><circle cx="286.9" cy="508.0" r="5.2"/><circle cx="286.9" cy="547.4" r="5.2"/><circle cx="286.8" cy="540.2" r="5.2"/><circle cx="286.8" cy="552.7" r="5.2"/><circle cx="286.7" cy="549.4" r="5.2"/><circle cx="286.6" cy="560.3" r="5.2"/><circle cx="286.6" cy="563.7" r="5.2"/><circle cx="286.5" cy="518.0" r="5.2"/><circle cx="286.4" cy="550.3" r="5.2"/><circle cx="286.4" cy="517.3" r="5.2"/><circle cx="286.3" cy="492.8" r="5.2"/><circle cx="286.3" cy="539.9" r="5.2"/><circle cx="286.2" cy="490.7" r="5.2"/><circle cx="286.2" cy="509.9" r="5.2"/><circle cx="286.1" cy="501.9" r="5.2"/><circle cx="286.1" cy="490.6" r="5.2"/><circle cx="286.0" cy="540.4" r="5.2"/><circle cx="286.0" cy="521.9" r="5.2"/><circle cx="286.0" cy="555.5" r="5.2"/><circle cx="285.9" cy="553.0" r="5.2"/><circle cx="285.9" cy="570.6" r="5.2"/><circle cx="285.8" cy="553.9" r="5.2"/><circle cx="285.7" cy="545.5" r="5.2"/><circle cx="285.7" cy="511.3" r="5.2"/><circle cx="285.7" cy="557.0" r="5.2"/><circle cx="285.6" cy="538.4" r="5.2"/><circle cx="285.6" cy="490.5" r="5.2"/><circle cx="285.6" cy="501.5" r="5.2"/><circle cx="285.6" cy="492.3" r="5.2"/><circle cx="285.5" cy="538.5" r="5.2"/><circle cx="285.5" cy="544.9" r="5.2"/><circle cx="285.5" cy="484.7" r="5.2"/><circle cx="285.4" cy="520.6" r="5.2"/><circle cx="285.3" cy="505.9" r="5.2"/><circle cx="285.3" cy="495.0" r="5.2"/><circle cx="285.3" cy="516.3" r="5.2"/><circle cx="285.2" cy="511.4" r="5.2"/><circle cx="285.2" cy="496.0" r="5.2"/><circle cx="285.1" cy="563.2" r="5.2"/><circle cx="285.1" cy="508.6" r="5.2"/><circle cx="285.0" cy="521.3" r="5.2"/><circle cx="285.0" cy="552.5" r="5.2"/><circle cx="285.0" cy="480.0" r="5.2"/><circle cx="284.8" cy="549.2" r="5.2"/><circle cx="284.8" cy="565.6" r="5.2"/><circle cx="284.7" cy="489.3" r="5.2"/><circle cx="284.7" cy="570.3" r="5.2"/><circle cx="284.7" cy="513.2" r="5.2"/><circle cx="284.5" cy="534.0" r="5.2"/><circle cx="284.5" cy="518.8" r="5.2"/><circle cx="284.5" cy="532.0" r="5.2"/><circle cx="284.4" cy="506.1" r="5.2"/><circle cx="284.3" cy="546.4" r="5.2"/><circle cx="284.3" cy="499.0" r="5.2"/><circle cx="284.2" cy="510.2" r="5.2"/><circle cx="284.0" cy="549.6" r="5.2"/><circle cx="283.9" cy="521.5" r="5.2"/><circle cx="283.9" cy="524.3" r="5.2"/><circle cx="283.9" cy="540.8" r="5.2"/><circle cx="283.9" cy="545.6" r="5.2"/><circle cx="283.8" cy="489.8" r="5.2"/><circle cx="283.8" cy="513.0" r="5.2"/><circle cx="283.8" cy="548.4" r="5.2"/><circle cx="283.7" cy="567.8" r="5.2"/><circle cx="283.6" cy="527.6" r="5.2"/><circle cx="283.6" cy="483.3" r="5.2"/><circle cx="283.6" cy="570.1" r="5.2"/><circle cx="283.6" cy="536.6" r="5.2"/><circle cx="283.5" cy="553.0" r="5.2"/><circle cx="283.5" cy="504.7" r="5.2"/><circle cx="283.3" cy="478.5" r="5.2"/><circle cx="283.2" cy="536.6" r="5.2"/><circle cx="283.2" cy="536.9" r="5.2"/><circle cx="283.1" cy="567.2" r="5.2"/><circle cx="283.1" cy="562.9" r="5.2"/><circle cx="283.1" cy="546.1" r="5.2"/><circle cx="283.1" cy="555.1" r="5.2"/><circle cx="283.0" cy="545.2" r="5.2"/><circle cx="283.0" cy="499.9" r="5.2"/><circle cx="283.0" cy="471.6" r="5.2"/><circle cx="282.9" cy="512.5" r="5.2"/><circle cx="282.9" cy="513.0" r="5.2"/><circle cx="282.9" cy="557.0" r="5.2"/><circle cx="282.9" cy="511.4" r="5.2"/><circle cx="282.9" cy="530.2" r="5.2"/><circle cx="282.9" cy="473.2" r="5.2"/><circle cx="282.9" cy="524.8" r="5.2"/><circle cx="282.8" cy="507.1" r="5.2"/><circle cx="282.8" cy="485.8" r="5.2"/><circle cx="282.8" cy="470.6" r="5.2"/><circle cx="282.7" cy="538.1" r="5.2"/><circle cx="282.7" cy="550.5" r="5.2"/><circle cx="282.7" cy="501.3" r="5.2"/><circle cx="282.7" cy="520.6" r="5.2"/><circle cx="282.6" cy="541.1" r="5.2"/><circle cx="282.6" cy="514.7" r="5.2"/><circle cx="282.6" cy="549.8" r="5.2"/><circle cx="282.6" cy="568.9" r="5.2"/><circle cx="282.5" cy="547.8" r="5.2"/><circle cx="282.4" cy="549.5" r="5.2"/><circle cx="282.3" cy="525.1" r="5.2"/><circle cx="282.2" cy="548.1" r="5.2"/><circle cx="282.2" cy="510.2" r="5.2"/><circle cx="282.2" cy="547.3" r="5.2"/><circle cx="282.2" cy="550.4" r="5.2"/><circle cx="282.2" cy="549.8" r="5.2"/><circle cx="282.1" cy="532.7" r="5.2"/><circle cx="282.1" cy="512.0" r="5.2"/><circle cx="282.0" cy="541.1" r="5.2"/><circle cx="282.0" cy="552.5" r="5.2"/><circle cx="281.7" cy="494.3" r="5.2"/><circle cx="281.7" cy="545.5" r="5.2"/><circle cx="281.7" cy="568.6" r="5.2"/><circle cx="281.5" cy="545.2" r="5.2"/><circle cx="281.5" cy="495.7" r="5.2"/><circle cx="281.5" cy="474.0" r="5.2"/><circle cx="281.5" cy="482.7" r="5.2"/><circle cx="281.4" cy="542.7" r="5.2"/><circle cx="281.4" cy="557.1" r="5.2"/><circle cx="281.3" cy="521.7" r="5.2"/><circle cx="281.2" cy="465.4" r="5.2"/><circle cx="281.2" cy="509.7" r="5.2"/><circle cx="281.1" cy="556.9" r="5.2"/><circle cx="281.0" cy="531.5" r="5.2"/><circle cx="281.0" cy="548.1" r="5.2"/><circle cx="281.0" cy="528.9" r="5.2"/><circle cx="281.0" cy="459.6" r="5.2"/><circle cx="280.9" cy="473.2" r="5.2"/><circle cx="280.8" cy="544.7" r="5.2"/><circle cx="280.8" cy="460.3" r="5.2"/><circle cx="280.8" cy="503.1" r="5.2"/><circle cx="280.8" cy="506.3" r="5.2"/><circle cx="280.8" cy="514.0" r="5.2"/><circle cx="280.7" cy="505.3" r="5.2"/><circle cx="280.7" cy="566.0" r="5.2"/><circle cx="280.7" cy="483.9" r="5.2"/><circle cx="280.7" cy="458.6" r="5.2"/><circle cx="280.6" cy="524.9" r="5.2"/><circle cx="280.5" cy="458.7" r="5.2"/><circle cx="280.4" cy="547.9" r="5.2"/><circle cx="280.4" cy="488.2" r="5.2"/><circle cx="280.4" cy="480.0" r="5.2"/><circle cx="280.3" cy="462.8" r="5.2"/><circle cx="280.3" cy="531.8" r="5.2"/><circle cx="280.2" cy="524.0" r="5.2"/><circle cx="280.2" cy="563.4" r="5.2"/><circle cx="280.2" cy="471.7" r="5.2"/><circle cx="280.2" cy="510.6" r="5.2"/><circle cx="280.1" cy="550.4" r="5.2"/><circle cx="280.1" cy="533.8" r="5.2"/><circle cx="280.1" cy="515.9" r="5.2"/><circle cx="280.0" cy="504.6" r="5.2"/><circle cx="279.9" cy="505.9" r="5.2"/><circle cx="279.8" cy="564.8" r="5.2"/><circle cx="279.7" cy="535.3" r="5.2"/><circle cx="279.7" cy="551.7" r="5.2"/><circle cx="279.7" cy="477.3" r="5.2"/><circle cx="279.6" cy="546.4" r="5.2"/><circle cx="279.6" cy="496.6" r="5.2"/><circle cx="279.6" cy="520.2" r="5.2"/><circle cx="279.5" cy="523.4" r="5.2"/><circle cx="279.5" cy="484.4" r="5.2"/><circle cx="279.5" cy="517.1" r="5.2"/><circle cx="279.5" cy="564.2" r="5.2"/><circle cx="279.4" cy="561.0" r="5.2"/><circle cx="279.4" cy="480.7" r="5.2"/><circle cx="279.4" cy="517.9" r="5.2"/><circle cx="279.4" cy="479.1" r="5.2"/><circle cx="279.3" cy="511.7" r="5.2"/><circle cx="279.2" cy="542.7" r="5.2"/><circle cx="279.1" cy="507.8" r="5.2"/><circle cx="279.0" cy="482.9" r="5.2"/><circle cx="279.0" cy="553.1" r="5.2"/><circle cx="279.0" cy="508.0" r="5.2"/><circle cx="279.0" cy="499.7" r="5.2"/><circle cx="278.9" cy="562.3" r="5.2"/><circle cx="278.9" cy="558.0" r="5.2"/><circle cx="278.9" cy="486.4" r="5.2"/><circle cx="278.8" cy="483.7" r="5.2"/><circle cx="278.8" cy="464.0" r="5.2"/><circle cx="278.8" cy="491.6" r="5.2"/><circle cx="278.7" cy="515.3" r="5.2"/><circle cx="278.7" cy="498.8" r="5.2"/><circle cx="278.7" cy="533.6" r="5.2"/><circle cx="278.6" cy="451.4" r="5.2"/><circle cx="278.6" cy="523.9" r="5.2"/><circle cx="278.5" cy="531.4" r="5.2"/><circle cx="278.4" cy="511.3" r="5.2"/><circle cx="278.4" cy="538.1" r="5.2"/><circle cx="278.3" cy="534.6" r="5.2"/><circle cx="278.3" cy="523.6" r="5.2"/><circle cx="278.3" cy="490.1" r="5.2"/><circle cx="278.3" cy="459.6" r="5.2"/><circle cx="278.3" cy="541.3" r="5.2"/><circle cx="278.2" cy="533.8" r="5.2"/><circle cx="278.2" cy="533.4" r="5.2"/><circle cx="278.2" cy="540.9" r="5.2"/><circle cx="278.2" cy="452.2" r="5.2"/><circle cx="278.1" cy="552.6" r="5.2"/><circle cx="277.9" cy="442.6" r="5.2"/><circle cx="277.9" cy="567.1" r="5.2"/><circle cx="277.8" cy="505.9" r="5.2"/><circle cx="277.8" cy="564.2" r="5.2"/><circle cx="277.8" cy="561.2" r="5.2"/><circle cx="277.8" cy="530.6" r="5.2"/><circle cx="277.8" cy="521.0" r="5.2"/><circle cx="277.7" cy="509.1" r="5.2"/><circle cx="277.7" cy="532.6" r="5.2"/><circle cx="277.7" cy="493.4" r="5.2"/><circle cx="277.6" cy="538.4" r="5.2"/><circle cx="277.6" cy="560.8" r="5.2"/><circle cx="277.6" cy="441.1" r="5.2"/><circle cx="277.6" cy="492.4" r="5.2"/><circle cx="277.5" cy="532.8" r="5.2"/><circle cx="277.5" cy="461.8" r="5.2"/><circle cx="277.5" cy="551.5" r="5.2"/><circle cx="277.4" cy="538.9" r="5.2"/><circle cx="277.3" cy="498.7" r="5.2"/><circle cx="277.3" cy="551.5" r="5.2"/><circle cx="277.3" cy="454.0" r="5.2"/><circle cx="277.2" cy="556.2" r="5.2"/><circle cx="277.2" cy="542.6" r="5.2"/><circle cx="277.2" cy="566.2" r="5.2"/><circle cx="277.2" cy="485.0" r="5.2"/><circle cx="277.2" cy="483.9" r="5.2"/><circle cx="277.2" cy="533.6" r="5.2"/><circle cx="277.1" cy="471.1" r="5.2"/><circle cx="277.1" cy="566.9" r="5.2"/><circle cx="277.0" cy="412.4" r="5.2"/><circle cx="277.0" cy="505.5" r="5.2"/><circle cx="277.0" cy="492.4" r="5.2"/><circle cx="276.9" cy="482.6" r="5.2"/><circle cx="276.9" cy="449.6" r="5.2"/><circle cx="276.9" cy="486.1" r="5.2"/><circle cx="276.8" cy="534.8" r="5.2"/><circle cx="276.8" cy="459.6" r="5.2"/><circle cx="276.8" cy="468.9" r="5.2"/><circle cx="276.8" cy="484.1" r="5.2"/><circle cx="276.7" cy="506.1" r="5.2"/><circle cx="276.7" cy="463.2" r="5.2"/><circle cx="276.7" cy="505.4" r="5.2"/><circle cx="276.7" cy="482.5" r="5.2"/><circle cx="276.7" cy="524.4" r="5.2"/><circle cx="276.6" cy="568.2" r="5.2"/><circle cx="276.6" cy="467.2" r="5.2"/><circle cx="276.6" cy="567.4" r="5.2"/><circle cx="276.6" cy="540.1" r="5.2"/><circle cx="276.6" cy="454.6" r="5.2"/><circle cx="276.5" cy="546.2" r="5.2"/><circle cx="276.4" cy="503.6" r="5.2"/><circle cx="276.4" cy="476.0" r="5.2"/><circle cx="276.4" cy="471.6" r="5.2"/><circle cx="276.3" cy="468.9" r="5.2"/><circle cx="276.3" cy="467.0" r="5.2"/><circle cx="276.3" cy="530.7" r="5.2"/><circle cx="276.2" cy="525.8" r="5.2"/><circle cx="276.2" cy="472.0" r="5.2"/><circle cx="276.2" cy="495.1" r="5.2"/><circle cx="276.2" cy="555.7" r="5.2"/><circle cx="276.2" cy="533.2" r="5.2"/><circle cx="276.2" cy="504.4" r="5.2"/><circle cx="276.2" cy="516.5" r="5.2"/><circle cx="276.1" cy="505.4" r="5.2"/><circle cx="276.1" cy="530.1" r="5.2"/><circle cx="276.1" cy="505.6" r="5.2"/><circle cx="276.0" cy="436.4" r="5.2"/><circle cx="276.0" cy="528.4" r="5.2"/><circle cx="276.0" cy="531.8" r="5.2"/><circle cx="276.0" cy="510.5" r="5.2"/><circle cx="276.0" cy="520.6" r="5.2"/><circle cx="275.9" cy="458.1" r="5.2"/><circle cx="275.9" cy="476.4" r="5.2"/><circle cx="275.8" cy="547.7" r="5.2"/><circle cx="275.8" cy="541.8" r="5.2"/><circle cx="275.8" cy="554.3" r="5.2"/><circle cx="275.7" cy="481.7" r="5.2"/><circle cx="275.7" cy="535.0" r="5.2"/><circle cx="275.6" cy="456.8" r="5.2"/><circle cx="275.5" cy="560.3" r="5.2"/><circle cx="275.5" cy="479.8" r="5.2"/><circle cx="275.5" cy="552.9" r="5.2"/><circle cx="275.5" cy="519.2" r="5.2"/><circle cx="275.4" cy="469.9" r="5.2"/><circle cx="275.4" cy="545.0" r="5.2"/><circle cx="275.4" cy="544.8" r="5.2"/><circle cx="275.3" cy="533.9" r="5.2"/><circle cx="275.3" cy="562.6" r="5.2"/><circle cx="275.3" cy="513.7" r="5.2"/><circle cx="275.3" cy="531.7" r="5.2"/><circle cx="275.3" cy="513.4" r="5.2"/><circle cx="275.2" cy="494.5" r="5.2"/><circle cx="275.2" cy="514.4" r="5.2"/><circle cx="275.1" cy="452.1" r="5.2"/><circle cx="275.1" cy="473.1" r="5.2"/><circle cx="275.1" cy="549.9" r="5.2"/><circle cx="275.1" cy="493.5" r="5.2"/><circle cx="275.1" cy="476.6" r="5.2"/><circle cx="275.1" cy="478.4" r="5.2"/><circle cx="275.0" cy="450.1" r="5.2"/><circle cx="275.0" cy="499.5" r="5.2"/><circle cx="275.0" cy="497.0" r="5.2"/><circle cx="275.0" cy="480.9" r="5.2"/><circle cx="275.0" cy="480.5" r="5.2"/><circle cx="275.0" cy="456.5" r="5.2"/><circle cx="274.9" cy="535.2" r="5.2"/><circle cx="274.9" cy="504.3" r="5.2"/><circle cx="274.9" cy="557.1" r="5.2"/><circle cx="274.9" cy="443.7" r="5.2"/><circle cx="274.8" cy="537.1" r="5.2"/><circle cx="274.8" cy="530.2" r="5.2"/><circle cx="274.8" cy="566.9" r="5.2"/><circle cx="274.7" cy="510.3" r="5.2"/><circle cx="274.7" cy="458.6" r="5.2"/><circle cx="274.7" cy="453.2" r="5.2"/><circle cx="274.6" cy="500.8" r="5.2"/><circle cx="274.6" cy="469.4" r="5.2"/><circle cx="274.6" cy="560.7" r="5.2"/><circle cx="274.6" cy="478.0" r="5.2"/><circle cx="274.6" cy="552.0" r="5.2"/><circle cx="274.4" cy="455.5" r="5.2"/><circle cx="274.4" cy="541.4" r="5.2"/><circle cx="274.4" cy="557.1" r="5.2"/><circle cx="274.4" cy="543.2" r="5.2"/><circle cx="274.4" cy="477.5" r="5.2"/><circle cx="274.3" cy="538.1" r="5.2"/><circle cx="274.3" cy="455.1" r="5.2"/><circle cx="274.3" cy="508.4" r="5.2"/><circle cx="274.3" cy="521.9" r="5.2"/><circle cx="274.2" cy="491.4" r="5.2"/><circle cx="274.2" cy="523.3" r="5.2"/><circle cx="274.2" cy="526.2" r="5.2"/><circle cx="274.2" cy="559.7" r="5.2"/><circle cx="274.2" cy="536.2" r="5.2"/><circle cx="274.1" cy="519.9" r="5.2"/><circle cx="274.1" cy="466.4" r="5.2"/><circle cx="274.1" cy="511.5" r="5.2"/><circle cx="274.1" cy="446.1" r="5.2"/><circle cx="274.0" cy="558.5" r="5.2"/><circle cx="274.0" cy="482.2" r="5.2"/><circle cx="274.0" cy="447.4" r="5.2"/><circle cx="273.9" cy="566.2" r="5.2"/><circle cx="273.7" cy="480.0" r="5.2"/><circle cx="273.7" cy="516.3" r="5.2"/><circle cx="273.7" cy="524.8" r="5.2"/><circle cx="273.6" cy="467.2" r="5.2"/><circle cx="273.6" cy="526.7" r="5.2"/><circle cx="273.6" cy="548.0" r="5.2"/><circle cx="273.6" cy="474.2" r="5.2"/><circle cx="273.5" cy="496.9" r="5.2"/><circle cx="273.5" cy="424.1" r="5.2"/><circle cx="273.5" cy="464.5" r="5.2"/><circle cx="273.4" cy="532.3" r="5.2"/><circle cx="273.3" cy="515.0" r="5.2"/><circle cx="273.3" cy="515.9" r="5.2"/><circle cx="273.3" cy="507.6" r="5.2"/><circle cx="273.3" cy="556.0" r="5.2"/><circle cx="273.2" cy="531.8" r="5.2"/><circle cx="273.2" cy="510.9" r="5.2"/><circle cx="273.2" cy="562.3" r="5.2"/><circle cx="273.2" cy="530.5" r="5.2"/><circle cx="273.2" cy="475.8" r="5.2"/><circle cx="273.2" cy="533.6" r="5.2"/><circle cx="273.2" cy="467.8" r="5.2"/><circle cx="273.1" cy="523.0" r="5.2"/><circle cx="273.1" cy="474.0" r="5.2"/><circle cx="273.1" cy="531.8" r="5.2"/><circle cx="273.0" cy="447.1" r="5.2"/><circle cx="273.0" cy="452.8" r="5.2"/><circle cx="272.9" cy="514.7" r="5.2"/><circle cx="272.9" cy="460.4" r="5.2"/><circle cx="272.9" cy="492.6" r="5.2"/><circle cx="272.8" cy="432.8" r="5.2"/><circle cx="272.8" cy="533.0" r="5.2"/><circle cx="272.7" cy="546.5" r="5.2"/><circle cx="272.7" cy="499.3" r="5.2"/><circle cx="272.7" cy="553.6" r="5.2"/><circle cx="272.7" cy="524.3" r="5.2"/><circle cx="272.7" cy="446.8" r="5.2"/><circle cx="272.7" cy="500.0" r="5.2"/><circle cx="272.7" cy="479.0" r="5.2"/><circle cx="272.7" cy="553.0" r="5.2"/><circle cx="272.6" cy="463.2" r="5.2"/><circle cx="272.6" cy="457.6" r="5.2"/><circle cx="272.6" cy="559.4" r="5.2"/><circle cx="272.6" cy="539.7" r="5.2"/><circle cx="272.6" cy="493.7" r="5.2"/><circle cx="272.5" cy="566.1" r="5.2"/><circle cx="272.4" cy="434.4" r="5.2"/><circle cx="272.4" cy="501.7" r="5.2"/><circle cx="272.4" cy="522.3" r="5.2"/><circle cx="272.2" cy="524.5" r="5.2"/><circle cx="272.2" cy="454.4" r="5.2"/><circle cx="272.2" cy="460.8" r="5.2"/><circle cx="272.2" cy="458.4" r="5.2"/><circle cx="272.1" cy="508.6" r="5.2"/><circle cx="272.1" cy="513.2" r="5.2"/><circle cx="272.1" cy="486.6" r="5.2"/><circle cx="272.1" cy="437.0" r="5.2"/><circle cx="272.1" cy="497.3" r="5.2"/><circle cx="272.1" cy="541.6" r="5.2"/><circle cx="272.1" cy="465.4" r="5.2"/><circle cx="272.0" cy="487.6" r="5.2"/><circle cx="272.0" cy="506.2" r="5.2"/><circle cx="272.0" cy="563.9" r="5.2"/><circle cx="272.0" cy="536.8" r="5.2"/><circle cx="272.0" cy="523.3" r="5.2"/><circle cx="271.9" cy="445.2" r="5.2"/><circle cx="271.9" cy="436.7" r="5.2"/><circle cx="271.9" cy="432.9" r="5.2"/><circle cx="271.8" cy="484.9" r="5.2"/><circle cx="271.8" cy="522.8" r="5.2"/><circle cx="271.8" cy="494.2" r="5.2"/><circle cx="271.8" cy="524.1" r="5.2"/><circle cx="271.7" cy="441.9" r="5.2"/><circle cx="271.7" cy="537.6" r="5.2"/><circle cx="271.7" cy="446.0" r="5.2"/><circle cx="271.6" cy="473.0" r="5.2"/><circle cx="271.6" cy="443.5" r="5.2"/><circle cx="271.6" cy="546.5" r="5.2"/><circle cx="271.6" cy="553.7" r="5.2"/><circle cx="271.5" cy="558.7" r="5.2"/><circle cx="271.5" cy="480.6" r="5.2"/><circle cx="271.5" cy="461.9" r="5.2"/><circle cx="271.5" cy="549.3" r="5.2"/><circle cx="271.5" cy="497.6" r="5.2"/><circle cx="271.4" cy="448.1" r="5.2"/><circle cx="271.4" cy="459.2" r="5.2"/><circle cx="271.3" cy="456.1" r="5.2"/><circle cx="271.3" cy="530.3" r="5.2"/><circle cx="271.3" cy="455.2" r="5.2"/><circle cx="271.2" cy="433.9" r="5.2"/><circle cx="271.2" cy="477.3" r="5.2"/><circle cx="271.2" cy="496.3" r="5.2"/><circle cx="271.2" cy="516.1" r="5.2"/><circle cx="271.1" cy="523.3" r="5.2"/><circle cx="271.1" cy="535.6" r="5.2"/><circle cx="271.0" cy="515.6" r="5.2"/><circle cx="270.9" cy="521.9" r="5.2"/><circle cx="270.9" cy="489.9" r="5.2"/><circle cx="270.8" cy="515.2" r="5.2"/><circle cx="270.8" cy="503.0" r="5.2"/><circle cx="270.8" cy="544.5" r="5.2"/><circle cx="270.7" cy="561.4" r="5.2"/><circle cx="270.7" cy="464.7" r="5.2"/><circle cx="270.7" cy="534.4" r="5.2"/><circle cx="270.7" cy="560.5" r="5.2"/><circle cx="270.7" cy="454.9" r="5.2"/><circle cx="270.7" cy="480.0" r="5.2"/><circle cx="270.5" cy="438.7" r="5.2"/><circle cx="270.5" cy="448.2" r="5.2"/><circle cx="270.5" cy="529.8" r="5.2"/><circle cx="270.5" cy="525.4" r="5.2"/><circle cx="270.4" cy="487.8" r="5.2"/><circle cx="270.4" cy="502.3" r="5.2"/><circle cx="270.4" cy="513.6" r="5.2"/><circle cx="270.3" cy="491.5" r="5.2"/><circle cx="270.3" cy="557.5" r="5.2"/><circle cx="270.3" cy="518.5" r="5.2"/><circle cx="270.3" cy="481.6" r="5.2"/><circle cx="270.3" cy="539.2" r="5.2"/><circle cx="270.2" cy="488.5" r="5.2"/><circle cx="270.2" cy="513.8" r="5.2"/><circle cx="270.2" cy="520.3" r="5.2"/><circle cx="270.2" cy="448.6" r="5.2"/><circle cx="270.1" cy="516.4" r="5.2"/><circle cx="270.1" cy="561.3" r="5.2"/><circle cx="270.0" cy="468.4" r="5.2"/><circle cx="270.0" cy="501.9" r="5.2"/><circle cx="270.0" cy="536.3" r="5.2"/><circle cx="269.9" cy="452.7" r="5.2"/><circle cx="269.9" cy="549.4" r="5.2"/><circle cx="269.8" cy="562.9" r="5.2"/><circle cx="269.8" cy="547.3" r="5.2"/><circle cx="269.8" cy="518.9" r="5.2"/><circle cx="269.6" cy="446.5" r="5.2"/><circle cx="269.6" cy="555.9" r="5.2"/><circle cx="269.6" cy="517.8" r="5.2"/><circle cx="269.6" cy="466.5" r="5.2"/><circle cx="269.6" cy="544.2" r="5.2"/><circle cx="269.4" cy="475.2" r="5.2"/><circle cx="269.4" cy="556.8" r="5.2"/><circle cx="269.4" cy="557.0" r="5.2"/><circle cx="269.4" cy="564.8" r="5.2"/><circle cx="269.4" cy="519.2" r="5.2"/><circle cx="269.4" cy="532.2" r="5.2"/><circle cx="269.3" cy="532.0" r="5.2"/><circle cx="269.3" cy="482.0" r="5.2"/><circle cx="269.3" cy="486.6" r="5.2"/><circle cx="269.2" cy="442.2" r="5.2"/><circle cx="269.2" cy="519.4" r="5.2"/><circle cx="269.2" cy="445.8" r="5.2"/><circle cx="269.2" cy="481.6" r="5.2"/><circle cx="269.1" cy="453.4" r="5.2"/><circle cx="269.1" cy="545.3" r="5.2"/><circle cx="269.1" cy="553.3" r="5.2"/><circle cx="269.1" cy="472.8" r="5.2"/><circle cx="269.1" cy="493.0" r="5.2"/><circle cx="269.0" cy="465.5" r="5.2"/><circle cx="269.0" cy="537.0" r="5.2"/><circle cx="269.0" cy="540.5" r="5.2"/><circle cx="269.0" cy="554.1" r="5.2"/><circle cx="268.9" cy="517.9" r="5.2"/><circle cx="268.9" cy="540.7" r="5.2"/><circle cx="268.8" cy="529.3" r="5.2"/><circle cx="268.8" cy="541.6" r="5.2"/><circle cx="268.8" cy="489.7" r="5.2"/><circle cx="268.7" cy="528.7" r="5.2"/><circle cx="268.7" cy="541.6" r="5.2"/><circle cx="268.7" cy="543.5" r="5.2"/><circle cx="268.6" cy="552.7" r="5.2"/><circle cx="268.6" cy="489.9" r="5.2"/><circle cx="268.6" cy="508.1" r="5.2"/><circle cx="268.5" cy="555.1" r="5.2"/><circle cx="268.5" cy="441.9" r="5.2"/><circle cx="268.4" cy="562.3" r="5.2"/><circle cx="268.4" cy="500.6" r="5.2"/><circle cx="268.4" cy="487.3" r="5.2"/><circle cx="268.4" cy="518.7" r="5.2"/><circle cx="268.4" cy="515.2" r="5.2"/><circle cx="268.3" cy="481.2" r="5.2"/><circle cx="268.3" cy="461.4" r="5.2"/><circle cx="268.2" cy="461.0" r="5.2"/><circle cx="268.1" cy="541.4" r="5.2"/><circle cx="268.1" cy="450.0" r="5.2"/><circle cx="268.1" cy="428.6" r="5.2"/><circle cx="268.0" cy="502.3" r="5.2"/><circle cx="268.0" cy="497.8" r="5.2"/><circle cx="268.0" cy="534.2" r="5.2"/><circle cx="268.0" cy="548.1" r="5.2"/><circle cx="267.9" cy="540.4" r="5.2"/><circle cx="267.9" cy="499.3" r="5.2"/><circle cx="267.8" cy="496.3" r="5.2"/><circle cx="267.8" cy="551.2" r="5.2"/><circle cx="267.8" cy="536.8" r="5.2"/><circle cx="267.7" cy="547.7" r="5.2"/><circle cx="267.7" cy="491.3" r="5.2"/><circle cx="267.7" cy="513.3" r="5.2"/><circle cx="267.6" cy="459.7" r="5.2"/><circle cx="267.4" cy="444.7" r="5.2"/><circle cx="267.4" cy="506.2" r="5.2"/><circle cx="267.4" cy="496.6" r="5.2"/><circle cx="267.4" cy="477.8" r="5.2"/><circle cx="267.3" cy="498.4" r="5.2"/><circle cx="267.3" cy="562.5" r="5.2"/><circle cx="267.3" cy="531.1" r="5.2"/><circle cx="267.3" cy="533.6" r="5.2"/><circle cx="267.2" cy="499.7" r="5.2"/><circle cx="267.2" cy="488.1" r="5.2"/><circle cx="267.1" cy="441.9" r="5.2"/><circle cx="267.0" cy="434.0" r="5.2"/><circle cx="267.0" cy="520.9" r="5.2"/><circle cx="267.0" cy="516.3" r="5.2"/><circle cx="266.9" cy="532.9" r="5.2"/><circle cx="266.9" cy="523.7" r="5.2"/><circle cx="266.9" cy="444.4" r="5.2"/><circle cx="266.9" cy="536.6" r="5.2"/><circle cx="266.9" cy="446.2" r="5.2"/><circle cx="266.9" cy="536.2" r="5.2"/><circle cx="266.8" cy="472.0" r="5.2"/><circle cx="266.8" cy="546.5" r="5.2"/><circle cx="266.8" cy="536.5" r="5.2"/><circle cx="266.8" cy="547.6" r="5.2"/><circle cx="266.8" cy="483.4" r="5.2"/><circle cx="266.7" cy="531.0" r="5.2"/><circle cx="266.6" cy="539.5" r="5.2"/><circle cx="266.6" cy="551.6" r="5.2"/><circle cx="266.6" cy="547.7" r="5.2"/><circle cx="266.6" cy="556.1" r="5.2"/><circle cx="266.6" cy="560.8" r="5.2"/><circle cx="266.6" cy="472.6" r="5.2"/><circle cx="266.6" cy="483.9" r="5.2"/><circle cx="266.6" cy="479.7" r="5.2"/><circle cx="266.6" cy="448.4" r="5.2"/><circle cx="266.6" cy="478.3" r="5.2"/><circle cx="266.5" cy="535.4" r="5.2"/><circle cx="266.5" cy="500.3" r="5.2"/><circle cx="266.5" cy="440.7" r="5.2"/><circle cx="266.5" cy="530.1" r="5.2"/><circle cx="266.4" cy="479.1" r="5.2"/><circle cx="266.4" cy="532.5" r="5.2"/><circle cx="266.3" cy="497.3" r="5.2"/><circle cx="266.3" cy="518.1" r="5.2"/><circle cx="266.3" cy="441.6" r="5.2"/><circle cx="266.3" cy="470.7" r="5.2"/><circle cx="266.3" cy="440.9" r="5.2"/><circle cx="266.3" cy="549.4" r="5.2"/><circle cx="266.3" cy="509.8" r="5.2"/><circle cx="266.3" cy="543.4" r="5.2"/><circle cx="266.2" cy="481.7" r="5.2"/><circle cx="266.2" cy="485.1" r="5.2"/><circle cx="266.2" cy="520.5" r="5.2"/><circle cx="266.2" cy="524.2" r="5.2"/><circle cx="266.2" cy="556.4" r="5.2"/><circle cx="266.1" cy="513.1" r="5.2"/><circle cx="266.0" cy="470.4" r="5.2"/><circle cx="266.0" cy="437.1" r="5.2"/><circle cx="265.9" cy="462.2" r="5.2"/><circle cx="265.9" cy="485.3" r="5.2"/><circle cx="265.9" cy="448.8" r="5.2"/><circle cx="265.8" cy="488.6" r="5.2"/><circle cx="265.8" cy="479.9" r="5.2"/><circle cx="265.7" cy="495.8" r="5.2"/><circle cx="265.7" cy="489.7" r="5.2"/><circle cx="265.6" cy="472.0" r="5.2"/><circle cx="265.6" cy="546.1" r="5.2"/><circle cx="265.6" cy="534.3" r="5.2"/><circle cx="265.6" cy="518.2" r="5.2"/><circle cx="265.5" cy="518.5" r="5.2"/><circle cx="265.5" cy="509.1" r="5.2"/><circle cx="265.5" cy="562.8" r="5.2"/><circle cx="265.4" cy="453.7" r="5.2"/><circle cx="265.4" cy="533.4" r="5.2"/><circle cx="265.4" cy="486.1" r="5.2"/><circle cx="265.3" cy="476.4" r="5.2"/><circle cx="265.3" cy="469.5" r="5.2"/><circle cx="265.3" cy="462.9" r="5.2"/><circle cx="265.3" cy="544.0" r="5.2"/><circle cx="265.2" cy="436.2" r="5.2"/><circle cx="265.2" cy="485.0" r="5.2"/><circle cx="265.2" cy="521.0" r="5.2"/><circle cx="265.2" cy="468.2" r="5.2"/><circle cx="265.1" cy="481.1" r="5.2"/><circle cx="265.1" cy="473.2" r="5.2"/><circle cx="265.1" cy="556.7" r="5.2"/><circle cx="265.1" cy="530.2" r="5.2"/><circle cx="265.0" cy="456.8" r="5.2"/><circle cx="264.9" cy="448.3" r="5.2"/><circle cx="264.9" cy="463.9" r="5.2"/><circle cx="264.9" cy="543.8" r="5.2"/><circle cx="264.8" cy="523.0" r="5.2"/><circle cx="264.8" cy="540.8" r="5.2"/><circle cx="264.8" cy="422.8" r="5.2"/><circle cx="264.6" cy="473.9" r="5.2"/><circle cx="264.6" cy="520.2" r="5.2"/><circle cx="264.5" cy="554.0" r="5.2"/><circle cx="264.5" cy="530.1" r="5.2"/><circle cx="264.4" cy="461.8" r="5.2"/><circle cx="264.3" cy="478.3" r="5.2"/><circle cx="264.3" cy="496.9" r="5.2"/><circle cx="264.3" cy="521.1" r="5.2"/><circle cx="264.2" cy="429.7" r="5.2"/><circle cx="264.2" cy="453.2" r="5.2"/><circle cx="264.2" cy="455.6" r="5.2"/><circle cx="264.2" cy="546.1" r="5.2"/><circle cx="264.2" cy="489.6" r="5.2"/><circle cx="264.2" cy="485.8" r="5.2"/><circle cx="264.2" cy="557.6" r="5.2"/><circle cx="264.2" cy="446.8" r="5.2"/><circle cx="264.1" cy="484.1" r="5.2"/><circle cx="264.0" cy="515.2" r="5.2"/><circle cx="264.0" cy="495.8" r="5.2"/><circle cx="264.0" cy="455.6" r="5.2"/><circle cx="264.0" cy="539.1" r="5.2"/><circle cx="263.9" cy="507.0" r="5.2"/><circle cx="263.9" cy="523.0" r="5.2"/><circle cx="263.9" cy="479.2" r="5.2"/><circle cx="263.9" cy="456.9" r="5.2"/><circle cx="263.9" cy="552.5" r="5.2"/><circle cx="263.8" cy="478.0" r="5.2"/><circle cx="263.8" cy="561.3" r="5.2"/><circle cx="263.7" cy="533.3" r="5.2"/><circle cx="263.7" cy="528.3" r="5.2"/><circle cx="263.7" cy="511.0" r="5.2"/><circle cx="263.6" cy="529.6" r="5.2"/><circle cx="263.6" cy="518.9" r="5.2"/><circle cx="263.5" cy="465.7" r="5.2"/><circle cx="263.5" cy="514.2" r="5.2"/><circle cx="263.5" cy="539.5" r="5.2"/><circle cx="263.5" cy="515.7" r="5.2"/><circle cx="263.5" cy="501.9" r="5.2"/><circle cx="263.4" cy="492.2" r="5.2"/><circle cx="263.4" cy="457.9" r="5.2"/><circle cx="263.4" cy="506.8" r="5.2"/><circle cx="263.3" cy="442.0" r="5.2"/><circle cx="263.3" cy="535.0" r="5.2"/><circle cx="263.3" cy="459.9" r="5.2"/><circle cx="263.2" cy="476.3" r="5.2"/><circle cx="263.2" cy="444.7" r="5.2"/><circle cx="263.2" cy="558.6" r="5.2"/><circle cx="263.2" cy="433.2" r="5.2"/><circle cx="263.2" cy="551.4" r="5.2"/><circle cx="263.1" cy="492.8" r="5.2"/><circle cx="263.1" cy="490.7" r="5.2"/><circle cx="263.0" cy="487.6" r="5.2"/><circle cx="262.9" cy="547.6" r="5.2"/><circle cx="262.9" cy="484.4" r="5.2"/><circle cx="262.9" cy="467.7" r="5.2"/><circle cx="262.9" cy="540.1" r="5.2"/><circle cx="262.9" cy="519.6" r="5.2"/><circle cx="262.8" cy="457.0" r="5.2"/><circle cx="262.7" cy="443.2" r="5.2"/><circle cx="262.7" cy="448.5" r="5.2"/><circle cx="262.6" cy="510.3" r="5.2"/><circle cx="262.6" cy="473.6" r="5.2"/><circle cx="262.6" cy="548.9" r="5.2"/><circle cx="262.5" cy="552.5" r="5.2"/><circle cx="262.5" cy="502.4" r="5.2"/><circle cx="262.4" cy="440.8" r="5.2"/><circle cx="262.4" cy="433.1" r="5.2"/><circle cx="262.4" cy="512.0" r="5.2"/><circle cx="262.4" cy="507.3" r="5.2"/><circle cx="262.3" cy="482.9" r="5.2"/><circle cx="262.3" cy="474.9" r="5.2"/><circle cx="262.2" cy="472.0" r="5.2"/><circle cx="262.2" cy="465.2" r="5.2"/><circle cx="262.2" cy="546.4" r="5.2"/><circle cx="262.2" cy="502.9" r="5.2"/><circle cx="262.2" cy="442.1" r="5.2"/><circle cx="262.2" cy="449.6" r="5.2"/><circle cx="262.1" cy="519.2" r="5.2"/><circle cx="262.1" cy="531.7" r="5.2"/><circle cx="262.1" cy="557.1" r="5.2"/><circle cx="262.1" cy="440.4" r="5.2"/><circle cx="262.1" cy="492.6" r="5.2"/><circle cx="262.1" cy="540.3" r="5.2"/><circle cx="262.0" cy="503.8" r="5.2"/><circle cx="262.0" cy="450.3" r="5.2"/><circle cx="261.9" cy="520.8" r="5.2"/><circle cx="261.9" cy="467.6" r="5.2"/><circle cx="261.8" cy="430.7" r="5.2"/><circle cx="261.8" cy="518.8" r="5.2"/><circle cx="261.8" cy="509.2" r="5.2"/><circle cx="261.8" cy="459.2" r="5.2"/><circle cx="261.7" cy="512.2" r="5.2"/><circle cx="261.7" cy="535.0" r="5.2"/><circle cx="261.7" cy="477.9" r="5.2"/><circle cx="261.7" cy="460.5" r="5.2"/><circle cx="261.7" cy="467.6" r="5.2"/><circle cx="261.6" cy="507.0" r="5.2"/><circle cx="261.6" cy="458.2" r="5.2"/><circle cx="261.6" cy="441.8" r="5.2"/><circle cx="261.6" cy="465.0" r="5.2"/><circle cx="261.6" cy="449.8" r="5.2"/><circle cx="261.6" cy="430.8" r="5.2"/><circle cx="261.6" cy="507.4" r="5.2"/><circle cx="261.5" cy="503.1" r="5.2"/><circle cx="261.5" cy="433.8" r="5.2"/><circle cx="261.5" cy="449.8" r="5.2"/><circle cx="261.4" cy="476.2" r="5.2"/><circle cx="261.4" cy="492.7" r="5.2"/><circle cx="261.4" cy="528.0" r="5.2"/><circle cx="261.3" cy="489.0" r="5.2"/><circle cx="261.3" cy="446.9" r="5.2"/><circle cx="261.2" cy="498.0" r="5.2"/><circle cx="261.2" cy="554.3" r="5.2"/><circle cx="261.2" cy="535.1" r="5.2"/><circle cx="261.1" cy="493.0" r="5.2"/><circle cx="261.0" cy="493.7" r="5.2"/><circle cx="260.9" cy="531.5" r="5.2"/><circle cx="260.9" cy="549.9" r="5.2"/><circle cx="260.8" cy="484.9" r="5.2"/><circle cx="260.8" cy="553.9" r="5.2"/><circle cx="260.8" cy="502.8" r="5.2"/><circle cx="260.7" cy="459.0" r="5.2"/><circle cx="260.7" cy="540.3" r="5.2"/><circle cx="260.7" cy="465.8" r="5.2"/><circle cx="260.7" cy="526.4" r="5.2"/><circle cx="260.6" cy="445.3" r="5.2"/><circle cx="260.6" cy="478.6" r="5.2"/><circle cx="260.5" cy="515.1" r="5.2"/><circle cx="260.4" cy="506.2" r="5.2"/><circle cx="260.4" cy="459.3" r="5.2"/><circle cx="260.4" cy="451.0" r="5.2"/><circle cx="260.3" cy="516.5" r="5.2"/><circle cx="260.2" cy="524.5" r="5.2"/><circle cx="260.1" cy="497.2" r="5.2"/><circle cx="260.0" cy="440.0" r="5.2"/><circle cx="259.9" cy="481.0" r="5.2"/><circle cx="259.9" cy="518.4" r="5.2"/><circle cx="259.9" cy="530.4" r="5.2"/><circle cx="259.9" cy="544.6" r="5.2"/><circle cx="259.8" cy="494.8" r="5.2"/><circle cx="259.8" cy="494.7" r="5.2"/><circle cx="259.8" cy="473.1" r="5.2"/><circle cx="259.7" cy="527.9" r="5.2"/><circle cx="259.7" cy="440.0" r="5.2"/><circle cx="259.7" cy="458.6" r="5.2"/><circle cx="259.7" cy="438.3" r="5.2"/><circle cx="259.7" cy="441.3" r="5.2"/><circle cx="259.7" cy="454.1" r="5.2"/><circle cx="259.6" cy="540.1" r="5.2"/><circle cx="259.6" cy="511.9" r="5.2"/><circle cx="259.6" cy="441.0" r="5.2"/><circle cx="259.6" cy="454.8" r="5.2"/><circle cx="259.5" cy="546.1" r="5.2"/><circle cx="259.5" cy="555.3" r="5.2"/><circle cx="259.3" cy="550.6" r="5.2"/><circle cx="259.1" cy="548.6" r="5.2"/><circle cx="259.1" cy="553.8" r="5.2"/><circle cx="259.0" cy="557.8" r="5.2"/><circle cx="258.9" cy="546.4" r="5.2"/><circle cx="258.9" cy="538.2" r="5.2"/><circle cx="258.8" cy="539.2" r="5.2"/><circle cx="258.5" cy="540.4" r="5.2"/><circle cx="258.3" cy="557.6" r="5.2"/><circle cx="258.3" cy="539.7" r="5.2"/><circle cx="258.2" cy="538.2" r="5.2"/><circle cx="258.2" cy="541.6" r="5.2"/><circle cx="258.1" cy="541.8" r="5.2"/><circle cx="258.0" cy="543.1" r="5.2"/><circle cx="257.8" cy="544.2" r="5.2"/><circle cx="257.8" cy="555.4" r="5.2"/><circle cx="257.7" cy="552.9" r="5.2"/><circle cx="257.6" cy="544.9" r="5.2"/><circle cx="257.6" cy="545.3" r="5.2"/><circle cx="257.5" cy="540.9" r="5.2"/><circle cx="257.5" cy="546.9" r="5.2"/><circle cx="257.4" cy="554.1" r="5.2"/><circle cx="257.3" cy="539.1" r="5.2"/><circle cx="257.2" cy="548.4" r="5.2"/><circle cx="257.0" cy="549.4" r="5.2"/><circle cx="256.9" cy="540.5" r="5.2"/><circle cx="256.9" cy="540.6" r="5.2"/><circle cx="256.9" cy="553.9" r="5.2"/><circle cx="256.6" cy="546.7" r="5.2"/><circle cx="256.6" cy="544.9" r="5.2"/><circle cx="256.0" cy="539.1" r="5.2"/><circle cx="255.6" cy="545.9" r="5.2"/><circle cx="255.5" cy="545.4" r="5.2"/><circle cx="255.4" cy="541.5" r="5.2"/><circle cx="255.2" cy="548.0" r="5.2"/><circle cx="255.2" cy="546.1" r="5.2"/><circle cx="254.9" cy="545.1" r="5.2"/><circle cx="254.7" cy="553.8" r="5.2"/><circle cx="254.6" cy="550.4" r="5.2"/><circle cx="254.6" cy="544.1" r="5.2"/><circle cx="254.1" cy="551.8" r="5.2"/><circle cx="254.0" cy="545.5" r="5.2"/><circle cx="253.9" cy="553.2" r="5.2"/><circle cx="253.9" cy="539.8" r="5.2"/><circle cx="253.6" cy="542.3" r="5.2"/><circle cx="253.5" cy="548.8" r="5.2"/><circle cx="252.6" cy="550.3" r="5.2"/><circle cx="252.5" cy="545.3" r="5.2"/><circle cx="252.2" cy="550.9" r="5.2"/><circle cx="252.2" cy="549.5" r="5.2"/><circle cx="251.8" cy="548.7" r="5.2"/><circle cx="251.7" cy="546.3" r="5.2"/><circle cx="251.7" cy="550.6" r="5.2"/><circle cx="250.6" cy="541.6" r="5.2"/><circle cx="250.6" cy="541.9" r="5.2"/><circle cx="249.4" cy="546.1" r="5.2"/><circle cx="248.8" cy="546.7" r="5.2"/><circle cx="246.4" cy="538.5" r="5.2"/><circle cx="245.9" cy="538.4" r="5.2"/><circle cx="240.3" cy="555.4" r="5.2"/><circle cx="236.9" cy="545.0" r="5.2"/><circle cx="229.9" cy="552.8" r="5.2"/><circle cx="222.9" cy="546.3" r="5.2"/><circle cx="212.4" cy="542.4" r="5.2"/><circle cx="203.7" cy="548.9" r="5.2"/><circle cx="189.7" cy="539.3" r="5.2"/><circle cx="181.0" cy="539.8" r="5.2"/><circle cx="168.8" cy="543.7" r="5.2"/></g>
<g fill="#5fb2c6" fill-opacity="0.33"><circle cx="259.0" cy="411.0" r="5.2"/><circle cx="257.0" cy="438.0" r="5.2"/><circle cx="255.6" cy="524.0" r="5.2"/><circle cx="255.6" cy="520.8" r="5.2"/><circle cx="255.6" cy="505.4" r="5.2"/><circle cx="255.6" cy="529.4" r="5.2"/><circle cx="255.6" cy="464.7" r="5.2"/><circle cx="255.5" cy="527.8" r="5.2"/><circle cx="255.4" cy="502.8" r="5.2"/><circle cx="255.4" cy="513.9" r="5.2"/><circle cx="255.4" cy="493.5" r="5.2"/><circle cx="255.3" cy="513.9" r="5.2"/><circle cx="255.3" cy="476.0" r="5.2"/><circle cx="255.1" cy="467.4" r="5.2"/><circle cx="255.1" cy="500.5" r="5.2"/><circle cx="255.1" cy="463.4" r="5.2"/><circle cx="255.0" cy="443.0" r="5.2"/><circle cx="255.0" cy="482.2" r="5.2"/><circle cx="254.9" cy="531.4" r="5.2"/><circle cx="254.9" cy="527.0" r="5.2"/><circle cx="254.8" cy="530.9" r="5.2"/><circle cx="254.8" cy="522.6" r="5.2"/><circle cx="254.8" cy="457.3" r="5.2"/><circle cx="254.7" cy="495.7" r="5.2"/><circle cx="254.5" cy="489.8" r="5.2"/><circle cx="254.5" cy="513.9" r="5.2"/><circle cx="254.5" cy="494.2" r="5.2"/><circle cx="254.5" cy="504.4" r="5.2"/><circle cx="254.4" cy="515.3" r="5.2"/><circle cx="254.3" cy="485.1" r="5.2"/><circle cx="254.3" cy="500.9" r="5.2"/><circle cx="254.2" cy="526.1" r="5.2"/><circle cx="254.2" cy="466.9" r="5.2"/><circle cx="254.2" cy="511.9" r="5.2"/><circle cx="254.1" cy="484.8" r="5.2"/><circle cx="254.0" cy="412.0" r="5.2"/><circle cx="253.9" cy="515.8" r="5.2"/><circle cx="253.8" cy="518.3" r="5.2"/><circle cx="253.8" cy="514.9" r="5.2"/><circle cx="253.8" cy="448.8" r="5.2"/><circle cx="253.7" cy="524.4" r="5.2"/><circle cx="253.6" cy="515.1" r="5.2"/><circle cx="253.6" cy="504.1" r="5.2"/><circle cx="253.6" cy="529.2" r="5.2"/><circle cx="253.6" cy="519.3" r="5.2"/><circle cx="253.5" cy="456.9" r="5.2"/><circle cx="253.5" cy="520.2" r="5.2"/><circle cx="253.4" cy="480.2" r="5.2"/><circle cx="253.4" cy="526.6" r="5.2"/><circle cx="253.4" cy="442.9" r="5.2"/><circle cx="253.3" cy="529.5" r="5.2"/><circle cx="253.2" cy="522.5" r="5.2"/><circle cx="253.2" cy="511.0" r="5.2"/><circle cx="253.2" cy="521.2" r="5.2"/><circle cx="253.0" cy="509.0" r="5.2"/><circle cx="252.9" cy="520.6" r="5.2"/><circle cx="252.9" cy="522.0" r="5.2"/><circle cx="252.8" cy="511.4" r="5.2"/><circle cx="252.8" cy="527.4" r="5.2"/><circle cx="252.8" cy="464.1" r="5.2"/><circle cx="252.6" cy="441.5" r="5.2"/><circle cx="252.6" cy="520.6" r="5.2"/><circle cx="252.5" cy="498.0" r="5.2"/><circle cx="252.4" cy="502.3" r="5.2"/><circle cx="252.4" cy="507.6" r="5.2"/><circle cx="252.4" cy="500.0" r="5.2"/><circle cx="252.4" cy="499.9" r="5.2"/><circle cx="252.3" cy="527.0" r="5.2"/><circle cx="252.2" cy="504.4" r="5.2"/><circle cx="252.1" cy="509.3" r="5.2"/><circle cx="252.1" cy="505.9" r="5.2"/><circle cx="252.1" cy="484.0" r="5.2"/><circle cx="252.1" cy="529.8" r="5.2"/><circle cx="252.0" cy="497.2" r="5.2"/><circle cx="252.0" cy="531.3" r="5.2"/><circle cx="252.0" cy="532.9" r="5.2"/><circle cx="251.6" cy="513.3" r="5.2"/><circle cx="251.5" cy="487.9" r="5.2"/><circle cx="251.5" cy="473.5" r="5.2"/><circle cx="251.5" cy="515.5" r="5.2"/><circle cx="251.4" cy="528.5" r="5.2"/><circle cx="251.4" cy="514.9" r="5.2"/><circle cx="251.4" cy="521.0" r="5.2"/><circle cx="251.1" cy="514.3" r="5.2"/><circle cx="251.1" cy="504.9" r="5.2"/><circle cx="251.1" cy="527.1" r="5.2"/><circle cx="251.0" cy="503.4" r="5.2"/><circle cx="250.9" cy="463.0" r="5.2"/><circle cx="250.9" cy="515.6" r="5.2"/><circle cx="250.9" cy="452.2" r="5.2"/><circle cx="250.8" cy="526.0" r="5.2"/><circle cx="250.7" cy="518.4" r="5.2"/><circle cx="250.7" cy="456.8" r="5.2"/><circle cx="250.5" cy="522.6" r="5.2"/><circle cx="250.5" cy="511.5" r="5.2"/><circle cx="250.4" cy="484.5" r="5.2"/><circle cx="250.4" cy="492.0" r="5.2"/><circle cx="250.2" cy="531.5" r="5.2"/><circle cx="250.1" cy="509.5" r="5.2"/><circle cx="250.1" cy="511.3" r="5.2"/><circle cx="250.1" cy="517.9" r="5.2"/><circle cx="250.1" cy="502.0" r="5.2"/><circle cx="250.0" cy="486.1" r="5.2"/><circle cx="249.8" cy="529.2" r="5.2"/><circle cx="249.7" cy="519.1" r="5.2"/><circle cx="249.6" cy="525.7" r="5.2"/><circle cx="249.5" cy="411.0" r="5.2"/><circle cx="249.5" cy="527.6" r="5.2"/><circle cx="249.4" cy="529.5" r="5.2"/><circle cx="249.3" cy="493.6" r="5.2"/><circle cx="249.3" cy="512.2" r="5.2"/><circle cx="249.2" cy="517.2" r="5.2"/><circle cx="249.1" cy="520.2" r="5.2"/><circle cx="249.1" cy="526.0" r="5.2"/><circle cx="249.0" cy="528.9" r="5.2"/><circle cx="248.8" cy="482.2" r="5.2"/><circle cx="248.7" cy="523.7" r="5.2"/><circle cx="248.5" cy="505.1" r="5.2"/><circle cx="248.4" cy="507.1" r="5.2"/><circle cx="248.4" cy="504.9" r="5.2"/><circle cx="248.3" cy="482.6" r="5.2"/><circle cx="248.1" cy="515.1" r="5.2"/><circle cx="248.0" cy="525.7" r="5.2"/><circle cx="248.0" cy="441.0" r="5.2"/><circle cx="248.0" cy="505.5" r="5.2"/><circle cx="247.8" cy="515.3" r="5.2"/><circle cx="247.7" cy="524.1" r="5.2"/><circle cx="247.4" cy="482.7" r="5.2"/><circle cx="247.4" cy="528.0" r="5.2"/><circle cx="247.1" cy="528.2" r="5.2"/><circle cx="247.0" cy="521.1" r="5.2"/><circle cx="246.9" cy="490.5" r="5.2"/><circle cx="246.9" cy="529.8" r="5.2"/><circle cx="246.8" cy="530.7" r="5.2"/><circle cx="246.7" cy="505.4" r="5.2"/><circle cx="246.6" cy="510.7" r="5.2"/><circle cx="246.4" cy="527.6" r="5.2"/><circle cx="246.3" cy="500.8" r="5.2"/><circle cx="246.3" cy="486.1" r="5.2"/><circle cx="246.2" cy="488.4" r="5.2"/><circle cx="246.2" cy="504.6" r="5.2"/><circle cx="246.0" cy="411.5" r="5.2"/><circle cx="246.0" cy="426.0" r="5.2"/><circle cx="246.0" cy="531.7" r="5.2"/><circle cx="246.0" cy="518.2" r="5.2"/><circle cx="245.9" cy="529.2" r="5.2"/><circle cx="245.3" cy="476.3" r="5.2"/><circle cx="245.0" cy="527.2" r="5.2"/><circle cx="244.9" cy="489.2" r="5.2"/><circle cx="244.6" cy="511.6" r="5.2"/><circle cx="244.5" cy="507.9" r="5.2"/><circle cx="244.3" cy="523.0" r="5.2"/><circle cx="244.1" cy="523.4" r="5.2"/><circle cx="244.1" cy="518.5" r="5.2"/><circle cx="244.1" cy="530.5" r="5.2"/><circle cx="244.0" cy="522.0" r="5.2"/><circle cx="243.7" cy="526.9" r="5.2"/><circle cx="243.5" cy="505.2" r="5.2"/><circle cx="243.4" cy="496.4" r="5.2"/><circle cx="243.3" cy="478.5" r="5.2"/><circle cx="243.0" cy="438.0" r="5.2"/><circle cx="242.9" cy="525.9" r="5.2"/><circle cx="242.8" cy="524.5" r="5.2"/><circle cx="242.4" cy="485.8" r="5.2"/><circle cx="242.1" cy="516.8" r="5.2"/><circle cx="241.7" cy="518.0" r="5.2"/><circle cx="241.7" cy="516.3" r="5.2"/><circle cx="241.6" cy="384.5" r="5.2"/><circle cx="241.5" cy="522.1" r="5.2"/><circle cx="241.4" cy="508.0" r="5.2"/><circle cx="241.2" cy="522.1" r="5.2"/><circle cx="240.9" cy="526.5" r="5.2"/><circle cx="240.7" cy="527.2" r="5.2"/><circle cx="240.7" cy="500.6" r="5.2"/><circle cx="240.5" cy="511.3" r="5.2"/><circle cx="240.5" cy="527.3" r="5.2"/><circle cx="240.4" cy="509.2" r="5.2"/><circle cx="240.4" cy="515.8" r="5.2"/><circle cx="240.0" cy="506.9" r="5.2"/><circle cx="239.6" cy="508.5" r="5.2"/><circle cx="239.6" cy="523.2" r="5.2"/><circle cx="239.4" cy="478.4" r="5.2"/><circle cx="239.3" cy="497.7" r="5.2"/><circle cx="239.2" cy="508.4" r="5.2"/><circle cx="239.1" cy="529.0" r="5.2"/><circle cx="238.9" cy="517.8" r="5.2"/><circle cx="238.8" cy="505.2" r="5.2"/><circle cx="238.7" cy="524.7" r="5.2"/><circle cx="238.6" cy="529.9" r="5.2"/><circle cx="238.5" cy="492.0" r="5.2"/><circle cx="238.0" cy="400.0" r="5.2"/><circle cx="237.8" cy="522.9" r="5.2"/><circle cx="237.7" cy="490.6" r="5.2"/><circle cx="237.2" cy="532.2" r="5.2"/><circle cx="237.0" cy="418.5" r="5.2"/><circle cx="236.7" cy="528.4" r="5.2"/><circle cx="235.2" cy="524.0" r="5.2"/><circle cx="234.9" cy="524.2" r="5.2"/><circle cx="234.3" cy="475.6" r="5.2"/><circle cx="233.0" cy="459.0" r="5.2"/><circle cx="232.0" cy="487.1" r="5.2"/><circle cx="231.9" cy="522.4" r="5.2"/><circle cx="231.8" cy="507.4" r="5.2"/><circle cx="230.5" cy="317.5" r="5.2"/><circle cx="229.7" cy="521.6" r="5.2"/><circle cx="229.7" cy="524.1" r="5.2"/><circle cx="229.1" cy="532.7" r="5.2"/><circle cx="228.0" cy="529.0" r="5.2"/><circle cx="228.0" cy="487.0" r="5.2"/><circle cx="227.8" cy="519.9" r="5.2"/><circle cx="227.6" cy="478.6" r="5.2"/><circle cx="227.4" cy="481.1" r="5.2"/><circle cx="227.3" cy="389.5" r="5.2"/><circle cx="227.3" cy="521.7" r="5.2"/><circle cx="226.6" cy="511.1" r="5.2"/><circle cx="226.4" cy="473.2" r="5.2"/><circle cx="226.4" cy="475.6" r="5.2"/><circle cx="226.4" cy="526.7" r="5.2"/><circle cx="226.0" cy="415.0" r="5.2"/><circle cx="225.7" cy="522.3" r="5.2"/><circle cx="225.1" cy="468.7" r="5.2"/><circle cx="224.7" cy="519.7" r="5.2"/><circle cx="224.6" cy="511.8" r="5.2"/><circle cx="224.4" cy="465.3" r="5.2"/><circle cx="224.3" cy="506.6" r="5.2"/><circle cx="223.3" cy="529.6" r="5.2"/><circle cx="223.2" cy="499.5" r="5.2"/><circle cx="223.2" cy="508.1" r="5.2"/><circle cx="221.0" cy="447.5" r="5.2"/><circle cx="220.9" cy="527.1" r="5.2"/><circle cx="220.2" cy="470.0" r="5.2"/><circle cx="218.0" cy="479.0" r="5.2"/><circle cx="217.0" cy="519.5" r="5.2"/><circle cx="214.4" cy="477.7" r="5.2"/><circle cx="212.3" cy="468.8" r="5.2"/><circle cx="212.0" cy="462.0" r="5.2"/><circle cx="212.0" cy="522.0" r="5.2"/><circle cx="210.3" cy="523.3" r="5.2"/><circle cx="210.0" cy="520.5" r="5.2"/><circle cx="209.3" cy="479.6" r="5.2"/><circle cx="209.0" cy="523.0" r="5.2"/><circle cx="208.2" cy="520.1" r="5.2"/><circle cx="208.0" cy="417.5" r="5.2"/><circle cx="206.0" cy="505.0" r="5.2"/><circle cx="204.1" cy="522.8" r="5.2"/><circle cx="204.0" cy="432.0" r="5.2"/><circle cx="202.9" cy="473.1" r="5.2"/><circle cx="202.0" cy="492.0" r="5.2"/><circle cx="201.8" cy="473.6" r="5.2"/><circle cx="201.2" cy="490.7" r="5.2"/><circle cx="200.8" cy="477.4" r="5.2"/><circle cx="198.0" cy="467.0" r="5.2"/><circle cx="196.7" cy="522.3" r="5.2"/><circle cx="195.0" cy="507.0" r="5.2"/><circle cx="193.8" cy="488.1" r="5.2"/><circle cx="192.3" cy="464.7" r="5.2"/><circle cx="190.1" cy="499.6" r="5.2"/><circle cx="187.5" cy="417.0" r="5.2"/><circle cx="184.0" cy="437.0" r="5.2"/><circle cx="180.2" cy="506.6" r="5.2"/><circle cx="170.0" cy="425.0" r="5.2"/><circle cx="165.0" cy="454.0" r="5.2"/><circle cx="157.0" cy="450.5" r="5.2"/><circle cx="154.5" cy="426.0" r="5.2"/><circle cx="153.0" cy="497.0" r="5.2"/><circle cx="147.5" cy="459.5" r="5.2"/><circle cx="142.0" cy="493.0" r="5.2"/><circle cx="138.5" cy="455.5" r="5.2"/><circle cx="126.0" cy="410.0" r="5.2"/><circle cx="124.0" cy="444.8" r="5.2"/><circle cx="120.5" cy="416.0" r="5.2"/><circle cx="115.0" cy="412.0" r="5.2"/><circle cx="94.0" cy="448.8" r="5.2"/></g>
<line x1="258" y1="65.5" x2="258" y2="595" stroke="#555" stroke-width="2.4" stroke-dasharray="2 5 8 5"/>
<line x1="327.8" y1="65.5" x2="327.8" y2="595" stroke="#555" stroke-width="2.4" stroke-dasharray="2 5 8 5"/>
<line x1="63.5" y1="537.7" x2="667" y2="537.7" stroke="#555" stroke-width="2.4" stroke-dasharray="2 5 8 5" stroke-dashoffset="-4"/>
<line x1="148.5" y1="384" x2="126.2" y2="409.8" stroke="#000" stroke-width="2.2"/>
<line x1="95.3" y1="409.8" x2="92.3" y2="420.8" stroke="#000" stroke-width="2.2"/>
<line x1="168" y1="414" x2="160.6" y2="420.8" stroke="#000" stroke-width="2.2"/>
<line x1="161.8" y1="438.4" x2="160" y2="443" stroke="#000" stroke-width="2.2"/>
<line x1="205.7" y1="462.5" x2="174.4" y2="456.2" stroke="#000" stroke-width="2.2"/>
<line x1="111.6" y1="499.8" x2="135" y2="463.5" stroke="#000" stroke-width="2.2"/>
<line x1="150.5" y1="501.8" x2="148" y2="499.4" stroke="#000" stroke-width="2.2"/>
<rect x="630.7" y="77.2" width="33.0" height="21.0" rx="3.2" fill="#fff" stroke="#f2c52e" stroke-width="2.1"/>
<text x="633" y="93.3" font-size="20.8" fill="#f2c52e" stroke="#f2c52e" stroke-width="0.7">IL6</text>
<rect x="581.0" y="116.4" width="49.0" height="20.6" rx="3.2" fill="#fff" stroke="#f2c52e" stroke-width="2.1"/>
<text x="587.8" y="132.3" font-size="20.8" fill="#f2c52e" stroke="#f2c52e" stroke-width="0.7">FOSB</text>
<rect x="507.5" y="122.0" width="46.8" height="21.0" rx="3.2" fill="#fff" stroke="#f2c52e" stroke-width="2.1"/>
<text x="514" y="138.1" font-size="20.8" fill="#f2c52e" stroke="#f2c52e" stroke-width="0.7">SELE</text>
<rect x="524.0" y="164.3" width="58.8" height="21.2" rx="3.2" fill="#fff" stroke="#f2c52e" stroke-width="2.1"/>
<text x="530.3" y="180.5" font-size="20.8" fill="#f2c52e" stroke="#f2c52e" stroke-width="0.7">CXCL8</text>
<rect x="488.8" y="217.2" width="58.6" height="21.2" rx="3.2" fill="#fff" stroke="#f2c52e" stroke-width="2.1"/>
<text x="495" y="233.4" font-size="20.8" fill="#f2c52e" stroke="#f2c52e" stroke-width="0.7">CXCL2</text>
<rect x="476.0" y="256.0" width="48.6" height="21.0" rx="3.2" fill="#fff" stroke="#f2c52e" stroke-width="2.1"/>
<text x="482.4" y="272.1" font-size="20.8" fill="#f2c52e" stroke="#f2c52e" stroke-width="0.7">EGR3</text>
<rect x="553.0" y="268.7" width="47.0" height="21.0" rx="3.2" fill="#fff" stroke="#f2c52e" stroke-width="2.1"/>
<text x="559.5" y="284.8" font-size="20.8" fill="#f2c52e" stroke="#f2c52e" stroke-width="0.7">PTX3</text>
<rect x="467.6" y="297.0" width="70.7" height="20.8" rx="3.2" fill="#fff" stroke="#f2c52e" stroke-width="2.1"/>
<text x="474.5" y="313" font-size="20.8" fill="#f2c52e" stroke="#f2c52e" stroke-width="0.7">TNFAIP6</text>
<rect x="547.4" y="311.4" width="38.8" height="20.6" rx="3.2" fill="#fff" stroke="#f2c52e" stroke-width="2.1"/>
<text x="553" y="327.3" font-size="20.8" fill="#f2c52e" stroke="#f2c52e" stroke-width="0.7">FOS</text>
<rect x="478.5" y="349.0" width="86.5" height="20.0" rx="3.2" fill="#fff" stroke="#f2c52e" stroke-width="2.1"/>
<text x="484" y="364.6" font-size="20.8" fill="#f2c52e" stroke="#f2c52e" stroke-width="0.7">LOC285556</text>
<rect x="131.7" y="362.6" width="41.9" height="20.6" rx="3.2" fill="#fff" stroke="#5fb0c5" stroke-width="2.1"/>
<text x="137.5" y="378.5" font-size="20.8" fill="#5fb0c5" stroke="#5fb0c5" stroke-width="0.7">SLPI</text>
<rect x="68.2" y="388.2" width="54.8" height="21.1" rx="3.2" fill="#fff" stroke="#5fb0c5" stroke-width="2.1"/>
<text x="74.5" y="404.35" font-size="20.8" fill="#5fb0c5" stroke="#5fb0c5" stroke-width="0.7">KRT19</text>
<rect x="145.5" y="392.7" width="67.7" height="20.6" rx="3.2" fill="#fff" stroke="#5fb0c5" stroke-width="2.1"/>
<text x="151.8" y="408.6" font-size="20.8" fill="#5fb0c5" stroke="#5fb0c5" stroke-width="0.7">SBSPON</text>
<rect x="77.3" y="421.8" width="58.9" height="20.6" rx="3.2" fill="#fff" stroke="#5fb0c5" stroke-width="2.1"/>
<text x="83.5" y="437.7" font-size="20.8" fill="#5fb0c5" stroke="#5fb0c5" stroke-width="0.7">UPK1B</text>
<rect x="162.6" y="422.3" width="52.4" height="20.7" rx="3.2" fill="#fff" stroke="#5fb0c5" stroke-width="2.1"/>
<text x="167.6" y="438.25" font-size="20.8" fill="#5fb0c5" stroke="#5fb0c5" stroke-width="0.7">MSLN</text>
<rect x="68.2" y="456.0" width="47.2" height="20.8" rx="3.2" fill="#fff" stroke="#5fb0c5" stroke-width="2.1"/>
<text x="74" y="472" font-size="20.8" fill="#5fb0c5" stroke="#5fb0c5" stroke-width="0.7">PRG4</text>
<rect x="205.7" y="453.0" width="61.5" height="20.5" rx="3.2" fill="#fff" stroke="#5fb0c5" stroke-width="2.1"/>
<text x="211.2" y="468.85" font-size="20.8" fill="#5fb0c5" stroke="#5fb0c5" stroke-width="0.7">AADAC</text>
<rect x="149.3" y="467.5" width="45.9" height="21.0" rx="3.2" fill="#fff" stroke="#5fb0c5" stroke-width="2.1"/>
<text x="155.5" y="483.6" font-size="20.8" fill="#5fb0c5" stroke="#5fb0c5" stroke-width="0.7">SYT4</text>
<rect x="68.2" y="499.8" width="72.8" height="20.9" rx="3.2" fill="#fff" stroke="#5fb0c5" stroke-width="2.1"/>
<text x="74" y="515.85" font-size="20.8" fill="#5fb0c5" stroke="#5fb0c5" stroke-width="0.7">HSD17B6</text>
<rect x="151.3" y="497.6" width="51.4" height="20.6" rx="3.2" fill="#fff" stroke="#5fb0c5" stroke-width="2.1"/>
<text x="156.8" y="513.5" font-size="20.8" fill="#5fb0c5" stroke="#5fb0c5" stroke-width="0.7">ITLN1</text>
<rect x="63.5" y="65.5" width="603.5" height="529.5" fill="none" stroke="#444" stroke-width="1.7"/>
<line x1="59" y1="571" x2="63.5" y2="571" stroke="#333" stroke-width="1.4"/>
<text x="52" y="578.6" font-size="20.5" text-anchor="end" font-weight="bold">0</text>
<line x1="59" y1="441" x2="63.5" y2="441" stroke="#333" stroke-width="1.4"/>
<text x="52" y="448.6" font-size="20.5" text-anchor="end" font-weight="bold">5</text>
<line x1="59" y1="311" x2="63.5" y2="311" stroke="#333" stroke-width="1.4"/>
<text x="52" y="318.6" font-size="20.5" text-anchor="end" font-weight="bold">10</text>
<line x1="59" y1="181" x2="63.5" y2="181" stroke="#333" stroke-width="1.4"/>
<text x="52" y="188.6" font-size="20.5" text-anchor="end" font-weight="bold">15</text>
<line x1="118.2" y1="595" x2="118.2" y2="599.5" stroke="#333" stroke-width="1.4"/>
<text x="118.7" y="622" font-size="20.5" text-anchor="middle" font-weight="bold">−5</text>
<line x1="292.7" y1="595" x2="292.7" y2="599.5" stroke="#333" stroke-width="1.4"/>
<text x="293.2" y="622" font-size="20.5" text-anchor="middle" font-weight="bold">0</text>
<line x1="467.2" y1="595" x2="467.2" y2="599.5" stroke="#333" stroke-width="1.4"/>
<text x="467.7" y="622" font-size="20.5" text-anchor="middle" font-weight="bold">5</text>
<line x1="641.7" y1="595" x2="641.7" y2="599.5" stroke="#333" stroke-width="1.4"/>
<text x="642.2" y="622" font-size="20.5" text-anchor="middle" font-weight="bold">10</text>
<text x="374.5" y="644.8" font-size="20.7" text-anchor="middle" font-weight="bold">log2(Fold Change)</text>
<text x="21.5" y="325" font-size="21" text-anchor="middle" font-weight="bold" transform="rotate(-90 21.5 325)">−log10 (adj.P.Val)</text>
<circle cx="704.8" cy="306.3" r="5.3" fill="#5fb2c6" fill-opacity="0.36"/>
<text x="725.2" y="312.3" font-size="20.4" font-weight="bold">DOWN</text>
<circle cx="704.8" cy="330.2" r="5.3" fill="#a4a4a4" fill-opacity="0.36"/>
<text x="725.2" y="336.2" font-size="20.4" font-weight="bold">NOT</text>
<circle cx="704.8" cy="354.1" r="5.3" fill="#f3c736" fill-opacity="0.36"/>
<text x="725.2" y="360.1" font-size="20.4" font-weight="bold">UP</text>
</g>
<g id="panel_b">
<text x="949.2" y="31.6" font-size="35">B</text>
<rect x="1038.5" y="31.9" width="320.5" height="24.2" fill="#1f4a9f"/>
<rect x="1358.7" y="31.9" width="160.1" height="24.2" fill="#e8161c"/>
<text x="1524.5" y="51" font-size="20.5">Group</text>
<g shape-rendering="crispEdges">
<rect x="1038.50" y="66.00" width="16.41" height="29.68" fill="#fbecbf"/>
<rect x="1054.51" y="66.00" width="16.41" height="29.68" fill="#fbecbf"/>
<rect x="1070.52" y="66.00" width="16.41" height="29.68" fill="#fbecbf"/>
<rect x="1086.53" y="66.00" width="16.41" height="29.68" fill="#fcf1cf"/>
<rect x="1102.54" y="66.00" width="16.41" height="29.68" fill="#fbecbf"/>
<rect x="1118.55" y="66.00" width="16.41" height="29.68" fill="#fdf6df"/>
<rect x="1134.56" y="66.00" width="16.41" height="29.68" fill="#fbecbf"/>
<rect x="1150.57" y="66.00" width="16.41" height="29.68" fill="#fbecbf"/>
<rect x="1166.58" y="66.00" width="16.41" height="29.68" fill="#fbecbf"/>
<rect x="1182.59" y="66.00" width="16.41" height="29.68" fill="#fcf1cf"/>
<rect x="1198.60" y="66.00" width="16.41" height="29.68" fill="#fbecbf"/>
<rect x="1214.61" y="66.00" width="16.41" height="29.68" fill="#fcf1cf"/>
<rect x="1230.62" y="66.00" width="16.41" height="29.68" fill="#fcf1cf"/>
<rect x="1246.63" y="66.00" width="16.41" height="29.68" fill="#fcf1cf"/>
<rect x="1262.64" y="66.00" width="16.41" height="29.68" fill="#fbecbf"/>
<rect x="1278.65" y="66.00" width="16.41" height="29.68" fill="#fefaef"/>
<rect x="1294.66" y="66.00" width="16.41" height="29.68" fill="#fbecbf"/>
<rect x="1310.67" y="66.00" width="16.41" height="29.68" fill="#84c2d2"/>
<rect x="1326.68" y="66.00" width="16.41" height="29.68" fill="#ffffff"/>
<rect x="1342.69" y="66.00" width="16.41" height="29.68" fill="#fae7ae"/>
<rect x="1358.70" y="66.00" width="16.41" height="29.68" fill="#a3d2dd"/>
<rect x="1374.71" y="66.00" width="16.41" height="29.68" fill="#ffffff"/>
<rect x="1390.72" y="66.00" width="16.41" height="29.68" fill="#67b4c7"/>
<rect x="1406.73" y="66.00" width="16.41" height="29.68" fill="#c3e2e9"/>
<rect x="1422.74" y="66.00" width="16.41" height="29.68" fill="#ffffff"/>
<rect x="1438.75" y="66.00" width="16.41" height="29.68" fill="#b3d9e3"/>
<rect x="1454.76" y="66.00" width="16.41" height="29.68" fill="#fefaef"/>
<rect x="1470.77" y="66.00" width="16.41" height="29.68" fill="#67b4c7"/>
<rect x="1486.78" y="66.00" width="16.41" height="29.68" fill="#93cad7"/>
<rect x="1502.79" y="66.00" width="16.41" height="29.68" fill="#fdf6df"/>
<rect x="1038.50" y="95.28" width="16.41" height="29.68" fill="#fae7ae"/>
<rect x="1054.51" y="95.28" width="16.41" height="29.68" fill="#f8e29b"/>
<rect x="1070.52" y="95.28" width="16.41" height="29.68" fill="#f8e29b"/>
<rect x="1086.53" y="95.28" width="16.41" height="29.68" fill="#fae7ae"/>
<rect x="1102.54" y="95.28" width="16.41" height="29.68" fill="#f7dc87"/>
<rect x="1118.55" y="95.28" width="16.41" height="29.68" fill="#fcf1cf"/>
<rect x="1134.56" y="95.28" width="16.41" height="29.68" fill="#fcf1cf"/>
<rect x="1150.57" y="95.28" width="16.41" height="29.68" fill="#f7dc87"/>
<rect x="1166.58" y="95.28" width="16.41" height="29.68" fill="#fcf1cf"/>
<rect x="1182.59" y="95.28" width="16.41" height="29.68" fill="#fcf1cf"/>
<rect x="1198.60" y="95.28" width="16.41" height="29.68" fill="#fbecbf"/>
<rect x="1214.61" y="95.28" width="16.41" height="29.68" fill="#e8f3f6"/>
<rect x="1230.62" y="95.28" width="16.41" height="29.68" fill="#fefaef"/>
<rect x="1246.63" y="95.28" width="16.41" height="29.68" fill="#fcf1cf"/>
<rect x="1262.64" y="95.28" width="16.41" height="29.68" fill="#fbecbf"/>
<rect x="1278.65" y="95.28" width="16.41" height="29.68" fill="#d5eaef"/>
<rect x="1294.66" y="95.28" width="16.41" height="29.68" fill="#fdf6df"/>
<rect x="1310.67" y="95.28" width="16.41" height="29.68" fill="#93cad7"/>
<rect x="1326.68" y="95.28" width="16.41" height="29.68" fill="#c3e2e9"/>
<rect x="1342.69" y="95.28" width="16.41" height="29.68" fill="#f8e29b"/>
<rect x="1358.70" y="95.28" width="16.41" height="29.68" fill="#67b4c7"/>
<rect x="1374.71" y="95.28" width="16.41" height="29.68" fill="#c3e2e9"/>
<rect x="1390.72" y="95.28" width="16.41" height="29.68" fill="#a3d2dd"/>
<rect x="1406.73" y="95.28" width="16.41" height="29.68" fill="#93cad7"/>
<rect x="1422.74" y="95.28" width="16.41" height="29.68" fill="#c3e2e9"/>
<rect x="1438.75" y="95.28" width="16.41" height="29.68" fill="#93cad7"/>
<rect x="1454.76" y="95.28" width="16.41" height="29.68" fill="#d5eaef"/>
<rect x="1470.77" y="95.28" width="16.41" height="29.68" fill="#67b4c7"/>
<rect x="1486.78" y="95.28" width="16.41" height="29.68" fill="#67b4c7"/>
<rect x="1502.79" y="95.28" width="16.41" height="29.68" fill="#ffffff"/>
<rect x="1038.50" y="124.56" width="16.41" height="29.68" fill="#fae7ae"/>
<rect x="1054.51" y="124.56" width="16.41" height="29.68" fill="#f8e29b"/>
<rect x="1070.52" y="124.56" width="16.41" height="29.68" fill="#fae7ae"/>
<rect x="1086.53" y="124.56" width="16.41" height="29.68" fill="#fefaef"/>
<rect x="1102.54" y="124.56" width="16.41" height="29.68" fill="#fae7ae"/>
<rect x="1118.55" y="124.56" width="16.41" height="29.68" fill="#fbecbf"/>
<rect x="1134.56" y="124.56" width="16.41" height="29.68" fill="#fbecbf"/>
<rect x="1150.57" y="124.56" width="16.41" height="29.68" fill="#fae7ae"/>
<rect x="1166.58" y="124.56" width="16.41" height="29.68" fill="#fbecbf"/>
<rect x="1182.59" y="124.56" width="16.41" height="29.68" fill="#fdf6df"/>
<rect x="1198.60" y="124.56" width="16.41" height="29.68" fill="#fae7ae"/>
<rect x="1214.61" y="124.56" width="16.41" height="29.68" fill="#fcf1cf"/>
<rect x="1230.62" y="124.56" width="16.41" height="29.68" fill="#fcf1cf"/>
<rect x="1246.63" y="124.56" width="16.41" height="29.68" fill="#fdf6df"/>
<rect x="1262.64" y="124.56" width="16.41" height="29.68" fill="#f8e29b"/>
<rect x="1278.65" y="124.56" width="16.41" height="29.68" fill="#ffffff"/>
<rect x="1294.66" y="124.56" width="16.41" height="29.68" fill="#fdf6df"/>
<rect x="1310.67" y="124.56" width="16.41" height="29.68" fill="#84c2d2"/>
<rect x="1326.68" y="124.56" width="16.41" height="29.68" fill="#c3e2e9"/>
<rect x="1342.69" y="124.56" width="16.41" height="29.68" fill="#fae7ae"/>
<rect x="1358.70" y="124.56" width="16.41" height="29.68" fill="#84c2d2"/>
<rect x="1374.71" y="124.56" width="16.41" height="29.68" fill="#c3e2e9"/>
<rect x="1390.72" y="124.56" width="16.41" height="29.68" fill="#93cad7"/>
<rect x="1406.73" y="124.56" width="16.41" height="29.68" fill="#93cad7"/>
<rect x="1422.74" y="124.56" width="16.41" height="29.68" fill="#b3d9e3"/>
<rect x="1438.75" y="124.56" width="16.41" height="29.68" fill="#93cad7"/>
<rect x="1454.76" y="124.56" width="16.41" height="29.68" fill="#b3d9e3"/>
<rect x="1470.77" y="124.56" width="16.41" height="29.68" fill="#84c2d2"/>
<rect x="1486.78" y="124.56" width="16.41" height="29.68" fill="#84c2d2"/>
<rect x="1502.79" y="124.56" width="16.41" height="29.68" fill="#c3e2e9"/>
<rect x="1038.50" y="153.84" width="16.41" height="29.68" fill="#fae7ae"/>
<rect x="1054.51" y="153.84" width="16.41" height="29.68" fill="#f8e29b"/>
<rect x="1070.52" y="153.84" width="16.41" height="29.68" fill="#fae7ae"/>
<rect x="1086.53" y="153.84" width="16.41" height="29.68" fill="#fcf1cf"/>
<rect x="1102.54" y="153.84" width="16.41" height="29.68" fill="#fae7ae"/>
<rect x="1118.55" y="153.84" width="16.41" height="29.68" fill="#fbecbf"/>
<rect x="1134.56" y="153.84" width="16.41" height="29.68" fill="#fdf6df"/>
<rect x="1150.57" y="153.84" width="16.41" height="29.68" fill="#fae7ae"/>
<rect x="1166.58" y="153.84" width="16.41" height="29.68" fill="#fae7ae"/>
<rect x="1182.59" y="153.84" width="16.41" height="29.68" fill="#fdf6df"/>
<rect x="1198.60" y="153.84" width="16.41" height="29.68" fill="#fcf1cf"/>
<rect x="1214.61" y="153.84" width="16.41" height="29.68" fill="#fefaef"/>
<rect x="1230.62" y="153.84" width="16.41" height="29.68" fill="#fcf1cf"/>
<rect x="1246.63" y="153.84" width="16.41" height="29.68" fill="#fcf1cf"/>
<rect x="1262.64" y="153.84" width="16.41" height="29.68" fill="#fae7ae"/>
<rect x="1278.65" y="153.84" width="16.41" height="29.68" fill="#ffffff"/>
<rect x="1294.66" y="153.84" width="16.41" height="29.68" fill="#fdf6df"/>
<rect x="1310.67" y="153.84" width="16.41" height="29.68" fill="#93cad7"/>
<rect x="1326.68" y="153.84" width="16.41" height="29.68" fill="#d5eaef"/>
<rect x="1342.69" y="153.84" width="16.41" height="29.68" fill="#fae7ae"/>
<rect x="1358.70" y="153.84" width="16.41" height="29.68" fill="#76bbcd"/>
<rect x="1374.71" y="153.84" width="16.41" height="29.68" fill="#d5eaef"/>
<rect x="1390.72" y="153.84" width="16.41" height="29.68" fill="#76bbcd"/>
<rect x="1406.73" y="153.84" width="16.41" height="29.68" fill="#84c2d2"/>
<rect x="1422.74" y="153.84" width="16.41" height="29.68" fill="#d5eaef"/>
<rect x="1438.75" y="153.84" width="16.41" height="29.68" fill="#93cad7"/>
<rect x="1454.76" y="153.84" width="16.41" height="29.68" fill="#d5eaef"/>
<rect x="1470.77" y="153.84" width="16.41" height="29.68" fill="#67b4c7"/>
<rect x="1486.78" y="153.84" width="16.41" height="29.68" fill="#93cad7"/>
<rect x="1502.79" y="153.84" width="16.41" height="29.68" fill="#e8f3f6"/>
<rect x="1038.50" y="183.12" width="16.41" height="29.68" fill="#fae7ae"/>
<rect x="1054.51" y="183.12" width="16.41" height="29.68" fill="#fae7ae"/>
<rect x="1070.52" y="183.12" width="16.41" height="29.68" fill="#fbecbf"/>
<rect x="1086.53" y="183.12" width="16.41" height="29.68" fill="#fefaef"/>
<rect x="1102.54" y="183.12" width="16.41" height="29.68" fill="#fae7ae"/>
<rect x="1118.55" y="183.12" width="16.41" height="29.68" fill="#fbecbf"/>
<rect x="1134.56" y="183.12" width="16.41" height="29.68" fill="#fcf1cf"/>
<rect x="1150.57" y="183.12" width="16.41" height="29.68" fill="#fbecbf"/>
<rect x="1166.58" y="183.12" width="16.41" height="29.68" fill="#fdf6df"/>
<rect x="1182.59" y="183.12" width="16.41" height="29.68" fill="#fae7ae"/>
<rect x="1198.60" y="183.12" width="16.41" height="29.68" fill="#fae7ae"/>
<rect x="1214.61" y="183.12" width="16.41" height="29.68" fill="#fcf1cf"/>
<rect x="1230.62" y="183.12" width="16.41" height="29.68" fill="#fbecbf"/>
<rect x="1246.63" y="183.12" width="16.41" height="29.68" fill="#fcf1cf"/>
<rect x="1262.64" y="183.12" width="16.41" height="29.68" fill="#f8e29b"/>
<rect x="1278.65" y="183.12" width="16.41" height="29.68" fill="#fefaef"/>
<rect x="1294.66" y="183.12" width="16.41" height="29.68" fill="#fcf1cf"/>
<rect x="1310.67" y="183.12" width="16.41" height="29.68" fill="#76bbcd"/>
<rect x="1326.68" y="183.12" width="16.41" height="29.68" fill="#e8f3f6"/>
<rect x="1342.69" y="183.12" width="16.41" height="29.68" fill="#fae7ae"/>
<rect x="1358.70" y="183.12" width="16.41" height="29.68" fill="#76bbcd"/>
<rect x="1374.71" y="183.12" width="16.41" height="29.68" fill="#d5eaef"/>
<rect x="1390.72" y="183.12" width="16.41" height="29.68" fill="#76bbcd"/>
<rect x="1406.73" y="183.12" width="16.41" height="29.68" fill="#76bbcd"/>
<rect x="1422.74" y="183.12" width="16.41" height="29.68" fill="#c3e2e9"/>
<rect x="1438.75" y="183.12" width="16.41" height="29.68" fill="#84c2d2"/>
<rect x="1454.76" y="183.12" width="16.41" height="29.68" fill="#ffffff"/>
<rect x="1470.77" y="183.12" width="16.41" height="29.68" fill="#76bbcd"/>
<rect x="1486.78" y="183.12" width="16.41" height="29.68" fill="#76bbcd"/>
<rect x="1502.79" y="183.12" width="16.41" height="29.68" fill="#ffffff"/>
<rect x="1038.50" y="212.40" width="16.41" height="29.68" fill="#f8e29b"/>
<rect x="1054.51" y="212.40" width="16.41" height="29.68" fill="#f7dc87"/>
<rect x="1070.52" y="212.40" width="16.41" height="29.68" fill="#fae7ae"/>
<rect x="1086.53" y="212.40" width="16.41" height="29.68" fill="#fdf6df"/>
<rect x="1102.54" y="212.40" width="16.41" height="29.68" fill="#fae7ae"/>
<rect x="1118.55" y="212.40" width="16.41" height="29.68" fill="#fbecbf"/>
<rect x="1134.56" y="212.40" width="16.41" height="29.68" fill="#fcf1cf"/>
<rect x="1150.57" y="212.40" width="16.41" height="29.68" fill="#fae7ae"/>
<rect x="1166.58" y="212.40" width="16.41" height="29.68" fill="#fae7ae"/>
<rect x="1182.59" y="212.40" width="16.41" height="29.68" fill="#fbecbf"/>
<rect x="1198.60" y="212.40" width="16.41" height="29.68" fill="#fbecbf"/>
<rect x="1214.61" y="212.40" width="16.41" height="29.68" fill="#fcf1cf"/>
<rect x="1230.62" y="212.40" width="16.41" height="29.68" fill="#fefaef"/>
<rect x="1246.63" y="212.40" width="16.41" height="29.68" fill="#fefaef"/>
<rect x="1262.64" y="212.40" width="16.41" height="29.68" fill="#fae7ae"/>
<rect x="1278.65" y="212.40" width="16.41" height="29.68" fill="#e8f3f6"/>
<rect x="1294.66" y="212.40" width="16.41" height="29.68" fill="#fdf6df"/>
<rect x="1310.67" y="212.40" width="16.41" height="29.68" fill="#c3e2e9"/>
<rect x="1326.68" y="212.40" width="16.41" height="29.68" fill="#c3e2e9"/>
<rect x="1342.69" y="212.40" width="16.41" height="29.68" fill="#f8e29b"/>
<rect x="1358.70" y="212.40" width="16.41" height="29.68" fill="#84c2d2"/>
<rect x="1374.71" y="212.40" width="16.41" height="29.68" fill="#d5eaef"/>
<rect x="1390.72" y="212.40" width="16.41" height="29.68" fill="#67b4c7"/>
<rect x="1406.73" y="212.40" width="16.41" height="29.68" fill="#84c2d2"/>
<rect x="1422.74" y="212.40" width="16.41" height="29.68" fill="#d5eaef"/>
<rect x="1438.75" y="212.40" width="16.41" height="29.68" fill="#93cad7"/>
<rect x="1454.76" y="212.40" width="16.41" height="29.68" fill="#d5eaef"/>
<rect x="1470.77" y="212.40" width="16.41" height="29.68" fill="#76bbcd"/>
<rect x="1486.78" y="212.40" width="16.41" height="29.68" fill="#84c2d2"/>
<rect x="1502.79" y="212.40" width="16.41" height="29.68" fill="#d5eaef"/>
<rect x="1038.50" y="241.68" width="16.41" height="29.68" fill="#fefaef"/>
<rect x="1054.51" y="241.68" width="16.41" height="29.68" fill="#fae7ae"/>
<rect x="1070.52" y="241.68" width="16.41" height="29.68" fill="#fae7ae"/>
<rect x="1086.53" y="241.68" width="16.41" height="29.68" fill="#fdf6df"/>
<rect x="1102.54" y="241.68" width="16.41" height="29.68" fill="#fefaef"/>
<rect x="1118.55" y="241.68" width="16.41" height="29.68" fill="#fae7ae"/>
<rect x="1134.56" y="241.68" width="16.41" height="29.68" fill="#fbecbf"/>
<rect x="1150.57" y="241.68" width="16.41" height="29.68" fill="#f7dc87"/>
<rect x="1166.58" y="241.68" width="16.41" height="29.68" fill="#fefaef"/>
<rect x="1182.59" y="241.68" width="16.41" height="29.68" fill="#fbecbf"/>
<rect x="1198.60" y="241.68" width="16.41" height="29.68" fill="#f8e29b"/>
<rect x="1214.61" y="241.68" width="16.41" height="29.68" fill="#fae7ae"/>
<rect x="1230.62" y="241.68" width="16.41" height="29.68" fill="#fae7ae"/>
<rect x="1246.63" y="241.68" width="16.41" height="29.68" fill="#fdf6df"/>
<rect x="1262.64" y="241.68" width="16.41" height="29.68" fill="#fae7ae"/>
<rect x="1278.65" y="241.68" width="16.41" height="29.68" fill="#d5eaef"/>
<rect x="1294.66" y="241.68" width="16.41" height="29.68" fill="#fdf6df"/>
<rect x="1310.67" y="241.68" width="16.41" height="29.68" fill="#93cad7"/>
<rect x="1326.68" y="241.68" width="16.41" height="29.68" fill="#b3d9e3"/>
<rect x="1342.69" y="241.68" width="16.41" height="29.68" fill="#fae7ae"/>
<rect x="1358.70" y="241.68" width="16.41" height="29.68" fill="#a3d2dd"/>
<rect x="1374.71" y="241.68" width="16.41" height="29.68" fill="#a3d2dd"/>
<rect x="1390.72" y="241.68" width="16.41" height="29.68" fill="#93cad7"/>
<rect x="1406.73" y="241.68" width="16.41" height="29.68" fill="#a3d2dd"/>
<rect x="1422.74" y="241.68" width="16.41" height="29.68" fill="#a3d2dd"/>
<rect x="1438.75" y="241.68" width="16.41" height="29.68" fill="#93cad7"/>
<rect x="1454.76" y="241.68" width="16.41" height="29.68" fill="#c3e2e9"/>
<rect x="1470.77" y="241.68" width="16.41" height="29.68" fill="#93cad7"/>
<rect x="1486.78" y="241.68" width="16.41" height="29.68" fill="#93cad7"/>
<rect x="1502.79" y="241.68" width="16.41" height="29.68" fill="#a3d2dd"/>
<rect x="1038.50" y="270.96" width="16.41" height="29.68" fill="#f8e29b"/>
<rect x="1054.51" y="270.96" width="16.41" height="29.68" fill="#f6d571"/>
<rect x="1070.52" y="270.96" width="16.41" height="29.68" fill="#fbecbf"/>
<rect x="1086.53" y="270.96" width="16.41" height="29.68" fill="#fae7ae"/>
<rect x="1102.54" y="270.96" width="16.41" height="29.68" fill="#f8e29b"/>
<rect x="1118.55" y="270.96" width="16.41" height="29.68" fill="#fcf1cf"/>
<rect x="1134.56" y="270.96" width="16.41" height="29.68" fill="#fcf1cf"/>
<rect x="1150.57" y="270.96" width="16.41" height="29.68" fill="#fbecbf"/>
<rect x="1166.58" y="270.96" width="16.41" height="29.68" fill="#fcf1cf"/>
<rect x="1182.59" y="270.96" width="16.41" height="29.68" fill="#fdf6df"/>
<rect x="1198.60" y="270.96" width="16.41" height="29.68" fill="#f8e29b"/>
<rect x="1214.61" y="270.96" width="16.41" height="29.68" fill="#fcf1cf"/>
<rect x="1230.62" y="270.96" width="16.41" height="29.68" fill="#e8f3f6"/>
<rect x="1246.63" y="270.96" width="16.41" height="29.68" fill="#fdf6df"/>
<rect x="1262.64" y="270.96" width="16.41" height="29.68" fill="#fae7ae"/>
<rect x="1278.65" y="270.96" width="16.41" height="29.68" fill="#c3e2e9"/>
<rect x="1294.66" y="270.96" width="16.41" height="29.68" fill="#ffffff"/>
<rect x="1310.67" y="270.96" width="16.41" height="29.68" fill="#93cad7"/>
<rect x="1326.68" y="270.96" width="16.41" height="29.68" fill="#93cad7"/>
<rect x="1342.69" y="270.96" width="16.41" height="29.68" fill="#f7dc87"/>
<rect x="1358.70" y="270.96" width="16.41" height="29.68" fill="#a3d2dd"/>
<rect x="1374.71" y="270.96" width="16.41" height="29.68" fill="#b3d9e3"/>
<rect x="1390.72" y="270.96" width="16.41" height="29.68" fill="#93cad7"/>
<rect x="1406.73" y="270.96" width="16.41" height="29.68" fill="#93cad7"/>
<rect x="1422.74" y="270.96" width="16.41" height="29.68" fill="#93cad7"/>
<rect x="1438.75" y="270.96" width="16.41" height="29.68" fill="#93cad7"/>
<rect x="1454.76" y="270.96" width="16.41" height="29.68" fill="#a3d2dd"/>
<rect x="1470.77" y="270.96" width="16.41" height="29.68" fill="#93cad7"/>
<rect x="1486.78" y="270.96" width="16.41" height="29.68" fill="#93cad7"/>
<rect x="1502.79" y="270.96" width="16.41" height="29.68" fill="#d5eaef"/>
<rect x="1038.50" y="300.24" width="16.41" height="29.68" fill="#f8e29b"/>
<rect x="1054.51" y="300.24" width="16.41" height="29.68" fill="#f8e29b"/>
<rect x="1070.52" y="300.24" width="16.41" height="29.68" fill="#f8e29b"/>
<rect x="1086.53" y="300.24" width="16.41" height="29.68" fill="#b3d9e3"/>
<rect x="1102.54" y="300.24" width="16.41" height="29.68" fill="#fdf6df"/>
<rect x="1118.55" y="300.24" width="16.41" height="29.68" fill="#f8e29b"/>
<rect x="1134.56" y="300.24" width="16.41" height="29.68" fill="#f8e29b"/>
<rect x="1150.57" y="300.24" width="16.41" height="29.68" fill="#fbecbf"/>
<rect x="1166.58" y="300.24" width="16.41" height="29.68" fill="#f8e29b"/>
<rect x="1182.59" y="300.24" width="16.41" height="29.68" fill="#fefaef"/>
<rect x="1198.60" y="300.24" width="16.41" height="29.68" fill="#fae7ae"/>
<rect x="1214.61" y="300.24" width="16.41" height="29.68" fill="#ffffff"/>
<rect x="1230.62" y="300.24" width="16.41" height="29.68" fill="#fefaef"/>
<rect x="1246.63" y="300.24" width="16.41" height="29.68" fill="#fdf6df"/>
<rect x="1262.64" y="300.24" width="16.41" height="29.68" fill="#fae7ae"/>
<rect x="1278.65" y="300.24" width="16.41" height="29.68" fill="#d5eaef"/>
<rect x="1294.66" y="300.24" width="16.41" height="29.68" fill="#fbecbf"/>
<rect x="1310.67" y="300.24" width="16.41" height="29.68" fill="#a3d2dd"/>
<rect x="1326.68" y="300.24" width="16.41" height="29.68" fill="#b3d9e3"/>
<rect x="1342.69" y="300.24" width="16.41" height="29.68" fill="#f7dc87"/>
<rect x="1358.70" y="300.24" width="16.41" height="29.68" fill="#a3d2dd"/>
<rect x="1374.71" y="300.24" width="16.41" height="29.68" fill="#a3d2dd"/>
<rect x="1390.72" y="300.24" width="16.41" height="29.68" fill="#a3d2dd"/>
<rect x="1406.73" y="300.24" width="16.41" height="29.68" fill="#b3d9e3"/>
<rect x="1422.74" y="300.24" width="16.41" height="29.68" fill="#a3d2dd"/>
<rect x="1438.75" y="300.24" width="16.41" height="29.68" fill="#93cad7"/>
<rect x="1454.76" y="300.24" width="16.41" height="29.68" fill="#a3d2dd"/>
<rect x="1470.77" y="300.24" width="16.41" height="29.68" fill="#93cad7"/>
<rect x="1486.78" y="300.24" width="16.41" height="29.68" fill="#93cad7"/>
<rect x="1502.79" y="300.24" width="16.41" height="29.68" fill="#c3e2e9"/>
<rect x="1038.50" y="329.52" width="16.41" height="29.68" fill="#ffffff"/>
<rect x="1054.51" y="329.52" width="16.41" height="29.68" fill="#fbecbf"/>
<rect x="1070.52" y="329.52" width="16.41" height="29.68" fill="#b3d9e3"/>
<rect x="1086.53" y="329.52" width="16.41" height="29.68" fill="#fae7ae"/>
<rect x="1102.54" y="329.52" width="16.41" height="29.68" fill="#f7dc87"/>
<rect x="1118.55" y="329.52" width="16.41" height="29.68" fill="#fbecbf"/>
<rect x="1134.56" y="329.52" width="16.41" height="29.68" fill="#f8e29b"/>
<rect x="1150.57" y="329.52" width="16.41" height="29.68" fill="#f8e29b"/>
<rect x="1166.58" y="329.52" width="16.41" height="29.68" fill="#fdf6df"/>
<rect x="1182.59" y="329.52" width="16.41" height="29.68" fill="#e8f3f6"/>
<rect x="1198.60" y="329.52" width="16.41" height="29.68" fill="#fae7ae"/>
<rect x="1214.61" y="329.52" width="16.41" height="29.68" fill="#fcf1cf"/>
<rect x="1230.62" y="329.52" width="16.41" height="29.68" fill="#fdf6df"/>
<rect x="1246.63" y="329.52" width="16.41" height="29.68" fill="#fae7ae"/>
<rect x="1262.64" y="329.52" width="16.41" height="29.68" fill="#f7dc87"/>
<rect x="1278.65" y="329.52" width="16.41" height="29.68" fill="#b3d9e3"/>
<rect x="1294.66" y="329.52" width="16.41" height="29.68" fill="#fbecbf"/>
<rect x="1310.67" y="329.52" width="16.41" height="29.68" fill="#fefaef"/>
<rect x="1326.68" y="329.52" width="16.41" height="29.68" fill="#a3d2dd"/>
<rect x="1342.69" y="329.52" width="16.41" height="29.68" fill="#f6d571"/>
<rect x="1358.70" y="329.52" width="16.41" height="29.68" fill="#a3d2dd"/>
<rect x="1374.71" y="329.52" width="16.41" height="29.68" fill="#a3d2dd"/>
<rect x="1390.72" y="329.52" width="16.41" height="29.68" fill="#a3d2dd"/>
<rect x="1406.73" y="329.52" width="16.41" height="29.68" fill="#a3d2dd"/>
<rect x="1422.74" y="329.52" width="16.41" height="29.68" fill="#a3d2dd"/>
<rect x="1438.75" y="329.52" width="16.41" height="29.68" fill="#a3d2dd"/>
<rect x="1454.76" y="329.52" width="16.41" height="29.68" fill="#a3d2dd"/>
<rect x="1470.77" y="329.52" width="16.41" height="29.68" fill="#a3d2dd"/>
<rect x="1486.78" y="329.52" width="16.41" height="29.68" fill="#a3d2dd"/>
<rect x="1502.79" y="329.52" width="16.41" height="29.68" fill="#fefaef"/>
<rect x="1038.50" y="358.80" width="16.41" height="29.68" fill="#a3d2dd"/>
<rect x="1054.51" y="358.80" width="16.41" height="29.68" fill="#b3d9e3"/>
<rect x="1070.52" y="358.80" width="16.41" height="29.68" fill="#b3d9e3"/>
<rect x="1086.53" y="358.80" width="16.41" height="29.68" fill="#b3d9e3"/>
<rect x="1102.54" y="358.80" width="16.41" height="29.68" fill="#c3e2e9"/>
<rect x="1118.55" y="358.80" width="16.41" height="29.68" fill="#a3d2dd"/>
<rect x="1134.56" y="358.80" width="16.41" height="29.68" fill="#e8f3f6"/>
<rect x="1150.57" y="358.80" width="16.41" height="29.68" fill="#fcf1cf"/>
<rect x="1166.58" y="358.80" width="16.41" height="29.68" fill="#b3d9e3"/>
<rect x="1182.59" y="358.80" width="16.41" height="29.68" fill="#a3d2dd"/>
<rect x="1198.60" y="358.80" width="16.41" height="29.68" fill="#e8f3f6"/>
<rect x="1214.61" y="358.80" width="16.41" height="29.68" fill="#b3d9e3"/>
<rect x="1230.62" y="358.80" width="16.41" height="29.68" fill="#e8f3f6"/>
<rect x="1246.63" y="358.80" width="16.41" height="29.68" fill="#c3e2e9"/>
<rect x="1262.64" y="358.80" width="16.41" height="29.68" fill="#b3d9e3"/>
<rect x="1278.65" y="358.80" width="16.41" height="29.68" fill="#a3d2dd"/>
<rect x="1294.66" y="358.80" width="16.41" height="29.68" fill="#fdf6df"/>
<rect x="1310.67" y="358.80" width="16.41" height="29.68" fill="#b3d9e3"/>
<rect x="1326.68" y="358.80" width="16.41" height="29.68" fill="#c3e2e9"/>
<rect x="1342.69" y="358.80" width="16.41" height="29.68" fill="#b3d9e3"/>
<rect x="1358.70" y="358.80" width="16.41" height="29.68" fill="#f7dc87"/>
<rect x="1374.71" y="358.80" width="16.41" height="29.68" fill="#f4ce57"/>
<rect x="1390.72" y="358.80" width="16.41" height="29.68" fill="#f8e29b"/>
<rect x="1406.73" y="358.80" width="16.41" height="29.68" fill="#f8e29b"/>
<rect x="1422.74" y="358.80" width="16.41" height="29.68" fill="#f6d571"/>
<rect x="1438.75" y="358.80" width="16.41" height="29.68" fill="#f6d571"/>
<rect x="1454.76" y="358.80" width="16.41" height="29.68" fill="#f6d571"/>
<rect x="1470.77" y="358.80" width="16.41" height="29.68" fill="#fbecbf"/>
<rect x="1486.78" y="358.80" width="16.41" height="29.68" fill="#f7dc87"/>
<rect x="1502.79" y="358.80" width="16.41" height="29.68" fill="#f8e29b"/>
<rect x="1038.50" y="388.08" width="16.41" height="29.68" fill="#a3d2dd"/>
<rect x="1054.51" y="388.08" width="16.41" height="29.68" fill="#d5eaef"/>
<rect x="1070.52" y="388.08" width="16.41" height="29.68" fill="#d5eaef"/>
<rect x="1086.53" y="388.08" width="16.41" height="29.68" fill="#d5eaef"/>
<rect x="1102.54" y="388.08" width="16.41" height="29.68" fill="#c3e2e9"/>
<rect x="1118.55" y="388.08" width="16.41" height="29.68" fill="#93cad7"/>
<rect x="1134.56" y="388.08" width="16.41" height="29.68" fill="#e8f3f6"/>
<rect x="1150.57" y="388.08" width="16.41" height="29.68" fill="#d5eaef"/>
<rect x="1166.58" y="388.08" width="16.41" height="29.68" fill="#b3d9e3"/>
<rect x="1182.59" y="388.08" width="16.41" height="29.68" fill="#b3d9e3"/>
<rect x="1198.60" y="388.08" width="16.41" height="29.68" fill="#fefaef"/>
<rect x="1214.61" y="388.08" width="16.41" height="29.68" fill="#b3d9e3"/>
<rect x="1230.62" y="388.08" width="16.41" height="29.68" fill="#fdf6df"/>
<rect x="1246.63" y="388.08" width="16.41" height="29.68" fill="#b3d9e3"/>
<rect x="1262.64" y="388.08" width="16.41" height="29.68" fill="#a3d2dd"/>
<rect x="1278.65" y="388.08" width="16.41" height="29.68" fill="#b3d9e3"/>
<rect x="1294.66" y="388.08" width="16.41" height="29.68" fill="#c3e2e9"/>
<rect x="1310.67" y="388.08" width="16.41" height="29.68" fill="#b3d9e3"/>
<rect x="1326.68" y="388.08" width="16.41" height="29.68" fill="#b3d9e3"/>
<rect x="1342.69" y="388.08" width="16.41" height="29.68" fill="#a3d2dd"/>
<rect x="1358.70" y="388.08" width="16.41" height="29.68" fill="#f7dc87"/>
<rect x="1374.71" y="388.08" width="16.41" height="29.68" fill="#f7dc87"/>
<rect x="1390.72" y="388.08" width="16.41" height="29.68" fill="#f8e29b"/>
<rect x="1406.73" y="388.08" width="16.41" height="29.68" fill="#f7dc87"/>
<rect x="1422.74" y="388.08" width="16.41" height="29.68" fill="#f8e29b"/>
<rect x="1438.75" y="388.08" width="16.41" height="29.68" fill="#f7dc87"/>
<rect x="1454.76" y="388.08" width="16.41" height="29.68" fill="#f7dc87"/>
<rect x="1470.77" y="388.08" width="16.41" height="29.68" fill="#f7dc87"/>
<rect x="1486.78" y="388.08" width="16.41" height="29.68" fill="#f6d571"/>
<rect x="1502.79" y="388.08" width="16.41" height="29.68" fill="#f7dc87"/>
<rect x="1038.50" y="417.36" width="16.41" height="29.68" fill="#c3e2e9"/>
<rect x="1054.51" y="417.36" width="16.41" height="29.68" fill="#c3e2e9"/>
<rect x="1070.52" y="417.36" width="16.41" height="29.68" fill="#c3e2e9"/>
<rect x="1086.53" y="417.36" width="16.41" height="29.68" fill="#c3e2e9"/>
<rect x="1102.54" y="417.36" width="16.41" height="29.68" fill="#c3e2e9"/>
<rect x="1118.55" y="417.36" width="16.41" height="29.68" fill="#c3e2e9"/>
<rect x="1134.56" y="417.36" width="16.41" height="29.68" fill="#c3e2e9"/>
<rect x="1150.57" y="417.36" width="16.41" height="29.68" fill="#c3e2e9"/>
<rect x="1166.58" y="417.36" width="16.41" height="29.68" fill="#c3e2e9"/>
<rect x="1182.59" y="417.36" width="16.41" height="29.68" fill="#c3e2e9"/>
<rect x="1198.60" y="417.36" width="16.41" height="29.68" fill="#c3e2e9"/>
<rect x="1214.61" y="417.36" width="16.41" height="29.68" fill="#c3e2e9"/>
<rect x="1230.62" y="417.36" width="16.41" height="29.68" fill="#e8f3f6"/>
<rect x="1246.63" y="417.36" width="16.41" height="29.68" fill="#c3e2e9"/>
<rect x="1262.64" y="417.36" width="16.41" height="29.68" fill="#c3e2e9"/>
<rect x="1278.65" y="417.36" width="16.41" height="29.68" fill="#c3e2e9"/>
<rect x="1294.66" y="417.36" width="16.41" height="29.68" fill="#c3e2e9"/>
<rect x="1310.67" y="417.36" width="16.41" height="29.68" fill="#c3e2e9"/>
<rect x="1326.68" y="417.36" width="16.41" height="29.68" fill="#d5eaef"/>
<rect x="1342.69" y="417.36" width="16.41" height="29.68" fill="#c3e2e9"/>
<rect x="1358.70" y="417.36" width="16.41" height="29.68" fill="#f4ce57"/>
<rect x="1374.71" y="417.36" width="16.41" height="29.68" fill="#f4ce57"/>
<rect x="1390.72" y="417.36" width="16.41" height="29.68" fill="#fbecbf"/>
<rect x="1406.73" y="417.36" width="16.41" height="29.68" fill="#f7dc87"/>
<rect x="1422.74" y="417.36" width="16.41" height="29.68" fill="#f6d571"/>
<rect x="1438.75" y="417.36" width="16.41" height="29.68" fill="#f6d571"/>
<rect x="1454.76" y="417.36" width="16.41" height="29.68" fill="#f6d571"/>
<rect x="1470.77" y="417.36" width="16.41" height="29.68" fill="#fbecbf"/>
<rect x="1486.78" y="417.36" width="16.41" height="29.68" fill="#f8e29b"/>
<rect x="1502.79" y="417.36" width="16.41" height="29.68" fill="#f7dc87"/>
<rect x="1038.50" y="446.64" width="16.41" height="29.68" fill="#c3e2e9"/>
<rect x="1054.51" y="446.64" width="16.41" height="29.68" fill="#c3e2e9"/>
<rect x="1070.52" y="446.64" width="16.41" height="29.68" fill="#c3e2e9"/>
<rect x="1086.53" y="446.64" width="16.41" height="29.68" fill="#b3d9e3"/>
<rect x="1102.54" y="446.64" width="16.41" height="29.68" fill="#c3e2e9"/>
<rect x="1118.55" y="446.64" width="16.41" height="29.68" fill="#b3d9e3"/>
<rect x="1134.56" y="446.64" width="16.41" height="29.68" fill="#ffffff"/>
<rect x="1150.57" y="446.64" width="16.41" height="29.68" fill="#d5eaef"/>
<rect x="1166.58" y="446.64" width="16.41" height="29.68" fill="#c3e2e9"/>
<rect x="1182.59" y="446.64" width="16.41" height="29.68" fill="#c3e2e9"/>
<rect x="1198.60" y="446.64" width="16.41" height="29.68" fill="#c3e2e9"/>
<rect x="1214.61" y="446.64" width="16.41" height="29.68" fill="#c3e2e9"/>
<rect x="1230.62" y="446.64" width="16.41" height="29.68" fill="#d5eaef"/>
<rect x="1246.63" y="446.64" width="16.41" height="29.68" fill="#c3e2e9"/>
<rect x="1262.64" y="446.64" width="16.41" height="29.68" fill="#c3e2e9"/>
<rect x="1278.65" y="446.64" width="16.41" height="29.68" fill="#c3e2e9"/>
<rect x="1294.66" y="446.64" width="16.41" height="29.68" fill="#c3e2e9"/>
<rect x="1310.67" y="446.64" width="16.41" height="29.68" fill="#c3e2e9"/>
<rect x="1326.68" y="446.64" width="16.41" height="29.68" fill="#e8f3f6"/>
<rect x="1342.69" y="446.64" width="16.41" height="29.68" fill="#c3e2e9"/>
<rect x="1358.70" y="446.64" width="16.41" height="29.68" fill="#f6d571"/>
<rect x="1374.71" y="446.64" width="16.41" height="29.68" fill="#f7dc87"/>
<rect x="1390.72" y="446.64" width="16.41" height="29.68" fill="#f7dc87"/>
<rect x="1406.73" y="446.64" width="16.41" height="29.68" fill="#f4ce57"/>
<rect x="1422.74" y="446.64" width="16.41" height="29.68" fill="#f7dc87"/>
<rect x="1438.75" y="446.64" width="16.41" height="29.68" fill="#f8e29b"/>
<rect x="1454.76" y="446.64" width="16.41" height="29.68" fill="#f7dc87"/>
<rect x="1470.77" y="446.64" width="16.41" height="29.68" fill="#fae7ae"/>
<rect x="1486.78" y="446.64" width="16.41" height="29.68" fill="#f8e29b"/>
<rect x="1502.79" y="446.64" width="16.41" height="29.68" fill="#f7dc87"/>
<rect x="1038.50" y="475.92" width="16.41" height="29.68" fill="#c3e2e9"/>
<rect x="1054.51" y="475.92" width="16.41" height="29.68" fill="#c3e2e9"/>
<rect x="1070.52" y="475.92" width="16.41" height="29.68" fill="#c3e2e9"/>
<rect x="1086.53" y="475.92" width="16.41" height="29.68" fill="#c3e2e9"/>
<rect x="1102.54" y="475.92" width="16.41" height="29.68" fill="#c3e2e9"/>
<rect x="1118.55" y="475.92" width="16.41" height="29.68" fill="#d5eaef"/>
<rect x="1134.56" y="475.92" width="16.41" height="29.68" fill="#d5eaef"/>
<rect x="1150.57" y="475.92" width="16.41" height="29.68" fill="#e8f3f6"/>
<rect x="1166.58" y="475.92" width="16.41" height="29.68" fill="#c3e2e9"/>
<rect x="1182.59" y="475.92" width="16.41" height="29.68" fill="#c3e2e9"/>
<rect x="1198.60" y="475.92" width="16.41" height="29.68" fill="#e8f3f6"/>
<rect x="1214.61" y="475.92" width="16.41" height="29.68" fill="#c3e2e9"/>
<rect x="1230.62" y="475.92" width="16.41" height="29.68" fill="#fefaef"/>
<rect x="1246.63" y="475.92" width="16.41" height="29.68" fill="#c3e2e9"/>
<rect x="1262.64" y="475.92" width="16.41" height="29.68" fill="#c3e2e9"/>
<rect x="1278.65" y="475.92" width="16.41" height="29.68" fill="#a3d2dd"/>
<rect x="1294.66" y="475.92" width="16.41" height="29.68" fill="#d5eaef"/>
<rect x="1310.67" y="475.92" width="16.41" height="29.68" fill="#c3e2e9"/>
<rect x="1326.68" y="475.92" width="16.41" height="29.68" fill="#c3e2e9"/>
<rect x="1342.69" y="475.92" width="16.41" height="29.68" fill="#c3e2e9"/>
<rect x="1358.70" y="475.92" width="16.41" height="29.68" fill="#f4ce57"/>
<rect x="1374.71" y="475.92" width="16.41" height="29.68" fill="#f7dc87"/>
<rect x="1390.72" y="475.92" width="16.41" height="29.68" fill="#f7dc87"/>
<rect x="1406.73" y="475.92" width="16.41" height="29.68" fill="#f7dc87"/>
<rect x="1422.74" y="475.92" width="16.41" height="29.68" fill="#f7dc87"/>
<rect x="1438.75" y="475.92" width="16.41" height="29.68" fill="#f4ce57"/>
<rect x="1454.76" y="475.92" width="16.41" height="29.68" fill="#f8e29b"/>
<rect x="1470.77" y="475.92" width="16.41" height="29.68" fill="#fbecbf"/>
<rect x="1486.78" y="475.92" width="16.41" height="29.68" fill="#f7dc87"/>
<rect x="1502.79" y="475.92" width="16.41" height="29.68" fill="#f7dc87"/>
<rect x="1038.50" y="505.20" width="16.41" height="29.68" fill="#c3e2e9"/>
<rect x="1054.51" y="505.20" width="16.41" height="29.68" fill="#c3e2e9"/>
<rect x="1070.52" y="505.20" width="16.41" height="29.68" fill="#c3e2e9"/>
<rect x="1086.53" y="505.20" width="16.41" height="29.68" fill="#b3d9e3"/>
<rect x="1102.54" y="505.20" width="16.41" height="29.68" fill="#b3d9e3"/>
<rect x="1118.55" y="505.20" width="16.41" height="29.68" fill="#d5eaef"/>
<rect x="1134.56" y="505.20" width="16.41" height="29.68" fill="#d5eaef"/>
<rect x="1150.57" y="505.20" width="16.41" height="29.68" fill="#d5eaef"/>
<rect x="1166.58" y="505.20" width="16.41" height="29.68" fill="#c3e2e9"/>
<rect x="1182.59" y="505.20" width="16.41" height="29.68" fill="#c3e2e9"/>
<rect x="1198.60" y="505.20" width="16.41" height="29.68" fill="#c3e2e9"/>
<rect x="1214.61" y="505.20" width="16.41" height="29.68" fill="#c3e2e9"/>
<rect x="1230.62" y="505.20" width="16.41" height="29.68" fill="#c3e2e9"/>
<rect x="1246.63" y="505.20" width="16.41" height="29.68" fill="#c3e2e9"/>
<rect x="1262.64" y="505.20" width="16.41" height="29.68" fill="#c3e2e9"/>
<rect x="1278.65" y="505.20" width="16.41" height="29.68" fill="#c3e2e9"/>
<rect x="1294.66" y="505.20" width="16.41" height="29.68" fill="#c3e2e9"/>
<rect x="1310.67" y="505.20" width="16.41" height="29.68" fill="#c3e2e9"/>
<rect x="1326.68" y="505.20" width="16.41" height="29.68" fill="#c3e2e9"/>
<rect x="1342.69" y="505.20" width="16.41" height="29.68" fill="#c3e2e9"/>
<rect x="1358.70" y="505.20" width="16.41" height="29.68" fill="#f4ce57"/>
<rect x="1374.71" y="505.20" width="16.41" height="29.68" fill="#f7dc87"/>
<rect x="1390.72" y="505.20" width="16.41" height="29.68" fill="#f8e29b"/>
<rect x="1406.73" y="505.20" width="16.41" height="29.68" fill="#f7dc87"/>
<rect x="1422.74" y="505.20" width="16.41" height="29.68" fill="#f7dc87"/>
<rect x="1438.75" y="505.20" width="16.41" height="29.68" fill="#f4ce57"/>
<rect x="1454.76" y="505.20" width="16.41" height="29.68" fill="#f8e29b"/>
<rect x="1470.77" y="505.20" width="16.41" height="29.68" fill="#fcf1cf"/>
<rect x="1486.78" y="505.20" width="16.41" height="29.68" fill="#f6d571"/>
<rect x="1502.79" y="505.20" width="16.41" height="29.68" fill="#f6d571"/>
<rect x="1038.50" y="534.48" width="16.41" height="29.68" fill="#d5eaef"/>
<rect x="1054.51" y="534.48" width="16.41" height="29.68" fill="#b3d9e3"/>
<rect x="1070.52" y="534.48" width="16.41" height="29.68" fill="#a3d2dd"/>
<rect x="1086.53" y="534.48" width="16.41" height="29.68" fill="#c3e2e9"/>
<rect x="1102.54" y="534.48" width="16.41" height="29.68" fill="#c3e2e9"/>
<rect x="1118.55" y="534.48" width="16.41" height="29.68" fill="#d5eaef"/>
<rect x="1134.56" y="534.48" width="16.41" height="29.68" fill="#e8f3f6"/>
<rect x="1150.57" y="534.48" width="16.41" height="29.68" fill="#d5eaef"/>
<rect x="1166.58" y="534.48" width="16.41" height="29.68" fill="#c3e2e9"/>
<rect x="1182.59" y="534.48" width="16.41" height="29.68" fill="#a3d2dd"/>
<rect x="1198.60" y="534.48" width="16.41" height="29.68" fill="#c3e2e9"/>
<rect x="1214.61" y="534.48" width="16.41" height="29.68" fill="#c3e2e9"/>
<rect x="1230.62" y="534.48" width="16.41" height="29.68" fill="#e8f3f6"/>
<rect x="1246.63" y="534.48" width="16.41" height="29.68" fill="#b3d9e3"/>
<rect x="1262.64" y="534.48" width="16.41" height="29.68" fill="#b3d9e3"/>
<rect x="1278.65" y="534.48" width="16.41" height="29.68" fill="#b3d9e3"/>
<rect x="1294.66" y="534.48" width="16.41" height="29.68" fill="#c3e2e9"/>
<rect x="1310.67" y="534.48" width="16.41" height="29.68" fill="#c3e2e9"/>
<rect x="1326.68" y="534.48" width="16.41" height="29.68" fill="#c3e2e9"/>
<rect x="1342.69" y="534.48" width="16.41" height="29.68" fill="#c3e2e9"/>
<rect x="1358.70" y="534.48" width="16.41" height="29.68" fill="#f6d571"/>
<rect x="1374.71" y="534.48" width="16.41" height="29.68" fill="#f7dc87"/>
<rect x="1390.72" y="534.48" width="16.41" height="29.68" fill="#f8e29b"/>
<rect x="1406.73" y="534.48" width="16.41" height="29.68" fill="#f8e29b"/>
<rect x="1422.74" y="534.48" width="16.41" height="29.68" fill="#fae7ae"/>
<rect x="1438.75" y="534.48" width="16.41" height="29.68" fill="#f4ce57"/>
<rect x="1454.76" y="534.48" width="16.41" height="29.68" fill="#fae7ae"/>
<rect x="1470.77" y="534.48" width="16.41" height="29.68" fill="#fae7ae"/>
<rect x="1486.78" y="534.48" width="16.41" height="29.68" fill="#f6d571"/>
<rect x="1502.79" y="534.48" width="16.41" height="29.68" fill="#f6d571"/>
<rect x="1038.50" y="563.76" width="16.41" height="29.68" fill="#d5eaef"/>
<rect x="1054.51" y="563.76" width="16.41" height="29.68" fill="#a3d2dd"/>
<rect x="1070.52" y="563.76" width="16.41" height="29.68" fill="#c3e2e9"/>
<rect x="1086.53" y="563.76" width="16.41" height="29.68" fill="#e8f3f6"/>
<rect x="1102.54" y="563.76" width="16.41" height="29.68" fill="#ffffff"/>
<rect x="1118.55" y="563.76" width="16.41" height="29.68" fill="#93cad7"/>
<rect x="1134.56" y="563.76" width="16.41" height="29.68" fill="#d5eaef"/>
<rect x="1150.57" y="563.76" width="16.41" height="29.68" fill="#d5eaef"/>
<rect x="1166.58" y="563.76" width="16.41" height="29.68" fill="#b3d9e3"/>
<rect x="1182.59" y="563.76" width="16.41" height="29.68" fill="#93cad7"/>
<rect x="1198.60" y="563.76" width="16.41" height="29.68" fill="#ffffff"/>
<rect x="1214.61" y="563.76" width="16.41" height="29.68" fill="#b3d9e3"/>
<rect x="1230.62" y="563.76" width="16.41" height="29.68" fill="#c3e2e9"/>
<rect x="1246.63" y="563.76" width="16.41" height="29.68" fill="#d5eaef"/>
<rect x="1262.64" y="563.76" width="16.41" height="29.68" fill="#a3d2dd"/>
<rect x="1278.65" y="563.76" width="16.41" height="29.68" fill="#93cad7"/>
<rect x="1294.66" y="563.76" width="16.41" height="29.68" fill="#e8f3f6"/>
<rect x="1310.67" y="563.76" width="16.41" height="29.68" fill="#c3e2e9"/>
<rect x="1326.68" y="563.76" width="16.41" height="29.68" fill="#b3d9e3"/>
<rect x="1342.69" y="563.76" width="16.41" height="29.68" fill="#e8f3f6"/>
<rect x="1358.70" y="563.76" width="16.41" height="29.68" fill="#f4ce57"/>
<rect x="1374.71" y="563.76" width="16.41" height="29.68" fill="#f7dc87"/>
<rect x="1390.72" y="563.76" width="16.41" height="29.68" fill="#fbecbf"/>
<rect x="1406.73" y="563.76" width="16.41" height="29.68" fill="#f8e29b"/>
<rect x="1422.74" y="563.76" width="16.41" height="29.68" fill="#fae7ae"/>
<rect x="1438.75" y="563.76" width="16.41" height="29.68" fill="#f4ce57"/>
<rect x="1454.76" y="563.76" width="16.41" height="29.68" fill="#fdf6df"/>
<rect x="1470.77" y="563.76" width="16.41" height="29.68" fill="#f8e29b"/>
<rect x="1486.78" y="563.76" width="16.41" height="29.68" fill="#f6d571"/>
<rect x="1502.79" y="563.76" width="16.41" height="29.68" fill="#f6d571"/>
<rect x="1038.50" y="593.04" width="16.41" height="29.68" fill="#b3d9e3"/>
<rect x="1054.51" y="593.04" width="16.41" height="29.68" fill="#b3d9e3"/>
<rect x="1070.52" y="593.04" width="16.41" height="29.68" fill="#c3e2e9"/>
<rect x="1086.53" y="593.04" width="16.41" height="29.68" fill="#d5eaef"/>
<rect x="1102.54" y="593.04" width="16.41" height="29.68" fill="#d5eaef"/>
<rect x="1118.55" y="593.04" width="16.41" height="29.68" fill="#c3e2e9"/>
<rect x="1134.56" y="593.04" width="16.41" height="29.68" fill="#d5eaef"/>
<rect x="1150.57" y="593.04" width="16.41" height="29.68" fill="#d5eaef"/>
<rect x="1166.58" y="593.04" width="16.41" height="29.68" fill="#b3d9e3"/>
<rect x="1182.59" y="593.04" width="16.41" height="29.68" fill="#c3e2e9"/>
<rect x="1198.60" y="593.04" width="16.41" height="29.68" fill="#d5eaef"/>
<rect x="1214.61" y="593.04" width="16.41" height="29.68" fill="#c3e2e9"/>
<rect x="1230.62" y="593.04" width="16.41" height="29.68" fill="#b3d9e3"/>
<rect x="1246.63" y="593.04" width="16.41" height="29.68" fill="#c3e2e9"/>
<rect x="1262.64" y="593.04" width="16.41" height="29.68" fill="#d5eaef"/>
<rect x="1278.65" y="593.04" width="16.41" height="29.68" fill="#a3d2dd"/>
<rect x="1294.66" y="593.04" width="16.41" height="29.68" fill="#e8f3f6"/>
<rect x="1310.67" y="593.04" width="16.41" height="29.68" fill="#c3e2e9"/>
<rect x="1326.68" y="593.04" width="16.41" height="29.68" fill="#a3d2dd"/>
<rect x="1342.69" y="593.04" width="16.41" height="29.68" fill="#b3d9e3"/>
<rect x="1358.70" y="593.04" width="16.41" height="29.68" fill="#f4ce57"/>
<rect x="1374.71" y="593.04" width="16.41" height="29.68" fill="#f8e29b"/>
<rect x="1390.72" y="593.04" width="16.41" height="29.68" fill="#fae7ae"/>
<rect x="1406.73" y="593.04" width="16.41" height="29.68" fill="#fae7ae"/>
<rect x="1422.74" y="593.04" width="16.41" height="29.68" fill="#fbecbf"/>
<rect x="1438.75" y="593.04" width="16.41" height="29.68" fill="#f2c53a"/>
<rect x="1454.76" y="593.04" width="16.41" height="29.68" fill="#fefaef"/>
<rect x="1470.77" y="593.04" width="16.41" height="29.68" fill="#f7dc87"/>
<rect x="1486.78" y="593.04" width="16.41" height="29.68" fill="#f4ce57"/>
<rect x="1502.79" y="593.04" width="16.41" height="29.68" fill="#f6d571"/>
<rect x="1038.50" y="622.32" width="16.41" height="29.68" fill="#c3e2e9"/>
<rect x="1054.51" y="622.32" width="16.41" height="29.68" fill="#a3d2dd"/>
<rect x="1070.52" y="622.32" width="16.41" height="29.68" fill="#a3d2dd"/>
<rect x="1086.53" y="622.32" width="16.41" height="29.68" fill="#d5eaef"/>
<rect x="1102.54" y="622.32" width="16.41" height="29.68" fill="#b3d9e3"/>
<rect x="1118.55" y="622.32" width="16.41" height="29.68" fill="#b3d9e3"/>
<rect x="1134.56" y="622.32" width="16.41" height="29.68" fill="#e8f3f6"/>
<rect x="1150.57" y="622.32" width="16.41" height="29.68" fill="#b3d9e3"/>
<rect x="1166.58" y="622.32" width="16.41" height="29.68" fill="#c3e2e9"/>
<rect x="1182.59" y="622.32" width="16.41" height="29.68" fill="#c3e2e9"/>
<rect x="1198.60" y="622.32" width="16.41" height="29.68" fill="#a3d2dd"/>
<rect x="1214.61" y="622.32" width="16.41" height="29.68" fill="#c3e2e9"/>
<rect x="1230.62" y="622.32" width="16.41" height="29.68" fill="#b3d9e3"/>
<rect x="1246.63" y="622.32" width="16.41" height="29.68" fill="#c3e2e9"/>
<rect x="1262.64" y="622.32" width="16.41" height="29.68" fill="#c3e2e9"/>
<rect x="1278.65" y="622.32" width="16.41" height="29.68" fill="#fefaef"/>
<rect x="1294.66" y="622.32" width="16.41" height="29.68" fill="#c3e2e9"/>
<rect x="1310.67" y="622.32" width="16.41" height="29.68" fill="#d5eaef"/>
<rect x="1326.68" y="622.32" width="16.41" height="29.68" fill="#d5eaef"/>
<rect x="1342.69" y="622.32" width="16.41" height="29.68" fill="#b3d9e3"/>
<rect x="1358.70" y="622.32" width="16.41" height="29.68" fill="#fae7ae"/>
<rect x="1374.71" y="622.32" width="16.41" height="29.68" fill="#f7dc87"/>
<rect x="1390.72" y="622.32" width="16.41" height="29.68" fill="#f7dc87"/>
<rect x="1406.73" y="622.32" width="16.41" height="29.68" fill="#f8e29b"/>
<rect x="1422.74" y="622.32" width="16.41" height="29.68" fill="#ffffff"/>
<rect x="1438.75" y="622.32" width="16.41" height="29.68" fill="#f2c53a"/>
<rect x="1454.76" y="622.32" width="16.41" height="29.68" fill="#fefaef"/>
<rect x="1470.77" y="622.32" width="16.41" height="29.68" fill="#f6d571"/>
<rect x="1486.78" y="622.32" width="16.41" height="29.68" fill="#f4ce57"/>
<rect x="1502.79" y="622.32" width="16.41" height="29.68" fill="#fae7ae"/>
</g>
<text x="1524.5" y="86.24" font-size="20.5">ITLN1</text>
<text x="1524.5" y="115.52" font-size="20.5">SYT4</text>
<text x="1524.5" y="144.8" font-size="20.5">KRT19</text>
<text x="1524.5" y="174.08" font-size="20.5">UPK1B</text>
<text x="1524.5" y="203.36" font-size="20.5">PRG4</text>
<text x="1524.5" y="232.64" font-size="20.5">SLPI</text>
<text x="1524.5" y="261.92" font-size="20.5">SBSPON</text>
<text x="1524.5" y="291.2" font-size="20.5">HSD17B6</text>
<text x="1524.5" y="320.48" font-size="20.5">MSLN</text>
<text x="1524.5" y="349.76" font-size="20.5">AADAC</text>
<text x="1524.5" y="379.04" font-size="20.5">FOS</text>
<text x="1524.5" y="408.32" font-size="20.5">EGR3</text>
<text x="1524.5" y="437.6" font-size="20.5">SELE</text>
<text x="1524.5" y="466.88" font-size="20.5">FOSB</text>
<text x="1524.5" y="496.16" font-size="20.5">CXCL2</text>
<text x="1524.5" y="525.44" font-size="20.5">IL6</text>
<text x="1524.5" y="554.72" font-size="20.5">CXCL8</text>
<text x="1524.5" y="584" font-size="20.5">TNFAIP6</text>
<text x="1524.5" y="613.28" font-size="20.5">PTX3</text>
<text x="1524.5" y="642.56" font-size="20.5">LOC285556</text>
<path d="M1031.4 139.2L1037.3 139.2M1031.4 168.5L1037.3 168.5M1031.4 139.2L1031.4 168.5M1029.8 153.8L1031.4 153.8M1029.8 197.8L1037.3 197.8M1029.8 153.8L1029.8 197.8M1028.3 175.8L1029.8 175.8M1028.3 227.0L1037.3 227.0M1028.3 175.8L1028.3 227.0M1027.5 109.9L1037.3 109.9M1027.5 201.4L1028.3 201.4M1027.5 109.9L1027.5 201.4M1025.2 80.6L1037.3 80.6M1025.2 155.7L1027.5 155.7M1025.2 80.6L1025.2 155.7M1025.2 256.3L1037.3 256.3M1025.2 285.6L1037.3 285.6M1025.2 256.3L1025.2 285.6M1023.4 271.0L1025.2 271.0M1023.4 314.9L1037.3 314.9M1023.4 271.0L1023.4 314.9M1019.7 118.2L1025.2 118.2M1019.7 292.9L1023.4 292.9M1019.7 118.2L1019.7 292.9M1017.1 205.5L1019.7 205.5M1017.1 344.2L1037.3 344.2M1017.1 205.5L1017.1 344.2M1031.4 432.0L1037.3 432.0M1031.4 461.3L1037.3 461.3M1031.4 432.0L1031.4 461.3M1032.1 519.8L1037.3 519.8M1032.1 549.1L1037.3 549.1M1032.1 519.8L1032.1 549.1M1030.5 490.6L1037.3 490.6M1030.5 534.5L1032.1 534.5M1030.5 490.6L1030.5 534.5M1028.5 446.6L1031.4 446.6M1028.5 512.5L1030.5 512.5M1028.5 446.6L1028.5 512.5M1026.5 402.7L1037.3 402.7M1026.5 479.6L1028.5 479.6M1026.5 402.7L1026.5 479.6M1025.4 373.4L1037.3 373.4M1025.4 441.1L1026.5 441.1M1025.4 373.4L1025.4 441.1M1029.6 578.4L1037.3 578.4M1029.6 607.7L1037.3 607.7M1029.6 578.4L1029.6 607.7M1023.1 407.3L1025.4 407.3M1023.1 593.0L1029.6 593.0M1023.1 407.3L1023.1 593.0M1019.3 500.2L1023.1 500.2M1019.3 637.0L1037.3 637.0M1019.3 500.2L1019.3 637.0M987.2 274.8L1017.1 274.8M987.2 568.6L1019.3 568.6M987.2 274.8L987.2 568.6" stroke="#000" stroke-width="2" fill="none" stroke-linecap="square"/>
<text x="1641.5" y="250.8" font-size="20.6" font-weight="bold">Group</text>
<rect x="1642.3" y="262.4" width="17" height="17" fill="#e8161c"/>
<text x="1666" y="277" font-size="20.5">Case</text>
<rect x="1642.3" y="282" width="17" height="17" fill="#1f4a9f"/>
<text x="1666" y="296.8" font-size="20.5">Normal</text>
<text x="1641.5" y="331.5" font-size="20.6" font-weight="bold">expression</text>
<defs><linearGradient id="gexp" x1="0" y1="0" x2="0" y2="1"><stop offset="0" stop-color="#f2c53a"/><stop offset="0.04" stop-color="#f2c53a"/><stop offset="0.49" stop-color="#fff"/><stop offset="0.94" stop-color="#59adc2"/><stop offset="1" stop-color="#59adc2"/></linearGradient></defs>
<rect x="1640" y="341" width="21.7" height="106" fill="url(#gexp)"/>
<line x1="1640" y1="345.7" x2="1644.5" y2="345.7" stroke="#fff" stroke-width="1.3"/>
<line x1="1657.2" y1="345.7" x2="1661.7" y2="345.7" stroke="#fff" stroke-width="1.3"/>
<text x="1666" y="351.8" font-size="20.3">2</text>
<line x1="1640" y1="369.65" x2="1644.5" y2="369.65" stroke="#fff" stroke-width="1.3"/>
<line x1="1657.2" y1="369.65" x2="1661.7" y2="369.65" stroke="#fff" stroke-width="1.3"/>
<text x="1666" y="375.75" font-size="20.3">1</text>
<text x="1666" y="399.7" font-size="20.3">0</text>
<line x1="1640" y1="417.55" x2="1644.5" y2="417.55" stroke="#fff" stroke-width="1.3"/>
<line x1="1657.2" y1="417.55" x2="1661.7" y2="417.55" stroke="#fff" stroke-width="1.3"/>
<text x="1666" y="423.65" font-size="20.3">−1</text>
<line x1="1640" y1="441.5" x2="1644.5" y2="441.5" stroke="#fff" stroke-width="1.3"/>
<line x1="1657.2" y1="441.5" x2="1661.7" y2="441.5" stroke="#fff" stroke-width="1.3"/>
<text x="1666" y="447.6" font-size="20.3">−2</text>
</g>
<g id="panel_c">
<text x="2.5" y="735.5" font-size="35">C</text>
<rect x="230.22" y="1085.1" width="342.76" height="42.76" fill="#f7f7f7"/>
<rect x="230.22" y="1170.62" width="342.76" height="42.76" fill="#f7f7f7"/>
<rect x="260.66" y="755.06" width="25.66" height="324.22" fill="#3b3b3b"/>
<text x="273.99" y="744.76" font-size="20.2" text-anchor="middle" fill="#333">1354</text>
<rect x="303.42" y="935.37" width="25.66" height="143.91" fill="#3b3b3b"/>
<text x="316.75" y="925.07" font-size="20.2" text-anchor="middle" fill="#333">601</text>
<rect x="346.18" y="1065.64" width="25.66" height="13.65" fill="#3b3b3b"/>
<text x="359.51" y="1055.34" font-size="20.2" text-anchor="middle" fill="#333">57</text>
<rect x="388.94" y="1064.44" width="25.66" height="14.85" fill="#3b3b3b"/>
<text x="402.27" y="1054.14" font-size="20.2" text-anchor="middle" fill="#333">62</text>
<rect x="431.7" y="1068.75" width="25.66" height="10.54" fill="#3b3b3b"/>
<text x="445.03" y="1058.45" font-size="20.2" text-anchor="middle" fill="#333">44</text>
<rect x="474.46" y="1077.85" width="25.66" height="1.44" fill="#3b3b3b"/>
<text x="487.79" y="1067.55" font-size="20.2" text-anchor="middle" fill="#333">6</text>
<rect x="517.22" y="1077.61" width="25.66" height="1.68" fill="#3b3b3b"/>
<text x="530.55" y="1067.31" font-size="20.2" text-anchor="middle" fill="#333">7</text>
<line x1="231.59" y1="705.39" x2="231.59" y2="1097.07" stroke="#000" stroke-width="1.6"/>
<line x1="230.79" y1="1079.29" x2="572.98" y2="1079.29" stroke="#000" stroke-width="1.6"/>
<line x1="228.59" y1="1079.29" x2="231.59" y2="1079.29" stroke="#000" stroke-width="1.2"/>
<text x="225.09" y="1082.59" font-size="19.8" text-anchor="end" fill="#4d4d4d">0</text>
<line x1="228.59" y1="959.56" x2="231.59" y2="959.56" stroke="#000" stroke-width="1.2"/>
<text x="225.09" y="962.86" font-size="19.8" text-anchor="end" fill="#4d4d4d">500</text>
<line x1="228.59" y1="839.83" x2="231.59" y2="839.83" stroke="#000" stroke-width="1.2"/>
<text x="225.09" y="843.13" font-size="19.8" text-anchor="end" fill="#4d4d4d">1000</text>
<line x1="228.59" y1="720.1" x2="231.59" y2="720.1" stroke="#000" stroke-width="1.2"/>
<text x="225.09" y="723.4" font-size="19.8" text-anchor="end" fill="#4d4d4d">1500</text>
<text x="135" y="894.5" font-size="21" text-anchor="middle" transform="rotate(-90 135 894.5)">Intersection Size</text>
<circle cx="273.49" cy="1106.65" r="3" fill="#e4e4e4"/>
<circle cx="273.49" cy="1149.41" r="3" fill="#e4e4e4"/>
<circle cx="273.49" cy="1192.17" r="3.1" fill="#2b2b2b"/>
<circle cx="316.25" cy="1106.65" r="3" fill="#e4e4e4"/>
<circle cx="316.25" cy="1149.41" r="3.1" fill="#2b2b2b"/>
<circle cx="316.25" cy="1192.17" r="3" fill="#e4e4e4"/>
<circle cx="359.01" cy="1106.65" r="3.1" fill="#2b2b2b"/>
<circle cx="359.01" cy="1149.41" r="3" fill="#e4e4e4"/>
<circle cx="359.01" cy="1192.17" r="3" fill="#e4e4e4"/>
<line x1="401.77" y1="1149.41" x2="401.77" y2="1192.17" stroke="#3b3b3b" stroke-width="1.6"/>
<circle cx="401.77" cy="1106.65" r="3" fill="#e4e4e4"/>
<circle cx="401.77" cy="1149.41" r="3.1" fill="#2b2b2b"/>
<circle cx="401.77" cy="1192.17" r="3.1" fill="#2b2b2b"/>
<line x1="444.53" y1="1106.65" x2="444.53" y2="1192.17" stroke="#3b3b3b" stroke-width="1.6"/>
<circle cx="444.53" cy="1106.65" r="3.1" fill="#2b2b2b"/>
<circle cx="444.53" cy="1149.41" r="3" fill="#e4e4e4"/>
<circle cx="444.53" cy="1192.17" r="3.1" fill="#2b2b2b"/>
<line x1="487.29" y1="1106.65" x2="487.29" y2="1149.41" stroke="#3b3b3b" stroke-width="1.6"/>
<circle cx="487.29" cy="1106.65" r="3.1" fill="#2b2b2b"/>
<circle cx="487.29" cy="1149.41" r="3.1" fill="#2b2b2b"/>
<circle cx="487.29" cy="1192.17" r="3" fill="#e4e4e4"/>
<line x1="530.05" y1="1106.65" x2="530.05" y2="1192.17" stroke="#3b3b3b" stroke-width="1.6"/>
<circle cx="530.05" cy="1106.65" r="3.1" fill="#2b2b2b"/>
<circle cx="530.05" cy="1149.41" r="3.1" fill="#2b2b2b"/>
<circle cx="530.05" cy="1192.17" r="3.1" fill="#2b2b2b"/>
<text x="223.3" y="1111.75" font-size="20.5" text-anchor="end">AKIRGs</text>
<text x="223.3" y="1154.51" font-size="20.5" text-anchor="end">DEGs</text>
<text x="223.3" y="1197.27" font-size="20.5" text-anchor="end">ERSRGs</text>
<rect x="122.12" y="1097.07" width="11.63" height="19.16" fill="#c6c4e6"/>
<rect x="79.02" y="1139.83" width="54.73" height="19.5" fill="#9a9a9a"/>
<rect x="18.13" y="1182.59" width="115.62" height="19.5" fill="#5e2f62"/>
<line x1="14" y1="1212.7" x2="138.2" y2="1212.7" stroke="#000" stroke-width="2.1"/>
<line x1="16.76" y1="1212.7" x2="16.76" y2="1216.2" stroke="#000" stroke-width="1.2"/>
<line x1="55.24" y1="1212.7" x2="55.24" y2="1216.2" stroke="#000" stroke-width="1.2"/>
<line x1="93.72" y1="1212.7" x2="93.72" y2="1216.2" stroke="#000" stroke-width="1.2"/>
<line x1="132.55" y1="1212.7" x2="132.55" y2="1216.2" stroke="#000" stroke-width="1.2"/>
<text x="23.1" y="1230.6" font-size="16.2" text-anchor="middle" fill="#4d4d4d">1500</text>
<text x="61.6" y="1230.6" font-size="16.2" text-anchor="middle" fill="#4d4d4d">1000</text>
<text x="98.3" y="1230.6" font-size="16.2" text-anchor="middle" fill="#4d4d4d">500</text>
<text x="133.4" y="1230.6" font-size="16.2" text-anchor="middle" fill="#4d4d4d">0</text>
<text x="83.5" y="1245.9" font-size="17.3" text-anchor="middle">Set Size</text>
</g>
<g id="panel_d">
<text x="631.7" y="735" font-size="35">D</text>
<rect x="742.9" y="819.3" width="50.63" height="50.63" fill="#fff" stroke="#e0e0e0" stroke-width="1"/>
<rect x="793.53" y="819.3" width="50.63" height="50.63" fill="#fff" stroke="#e0e0e0" stroke-width="1"/>
<rect x="844.16" y="819.3" width="50.63" height="50.63" fill="#fff" stroke="#e0e0e0" stroke-width="1"/>
<rect x="894.79" y="819.3" width="50.63" height="50.63" fill="#fff" stroke="#e0e0e0" stroke-width="1"/>
<rect x="945.42" y="819.3" width="50.63" height="50.63" fill="#fff" stroke="#e0e0e0" stroke-width="1"/>
<rect x="996.05" y="819.3" width="50.63" height="50.63" fill="#fff" stroke="#e0e0e0" stroke-width="1"/>
<rect x="1046.68" y="819.3" width="50.63" height="50.63" fill="#fff" stroke="#e0e0e0" stroke-width="1"/>
<rect x="793.53" y="869.93" width="50.63" height="50.63" fill="#fff" stroke="#e0e0e0" stroke-width="1"/>
<rect x="844.16" y="869.93" width="50.63" height="50.63" fill="#fff" stroke="#e0e0e0" stroke-width="1"/>
<rect x="894.79" y="869.93" width="50.63" height="50.63" fill="#fff" stroke="#e0e0e0" stroke-width="1"/>
<rect x="945.42" y="869.93" width="50.63" height="50.63" fill="#fff" stroke="#e0e0e0" stroke-width="1"/>
<rect x="996.05" y="869.93" width="50.63" height="50.63" fill="#fff" stroke="#e0e0e0" stroke-width="1"/>
<rect x="1046.68" y="869.93" width="50.63" height="50.63" fill="#fff" stroke="#e0e0e0" stroke-width="1"/>
<rect x="844.16" y="920.56" width="50.63" height="50.63" fill="#fff" stroke="#e0e0e0" stroke-width="1"/>
<rect x="894.79" y="920.56" width="50.63" height="50.63" fill="#fff" stroke="#e0e0e0" stroke-width="1"/>
<rect x="945.42" y="920.56" width="50.63" height="50.63" fill="#fff" stroke="#e0e0e0" stroke-width="1"/>
<rect x="996.05" y="920.56" width="50.63" height="50.63" fill="#fff" stroke="#e0e0e0" stroke-width="1"/>
<rect x="1046.68" y="920.56" width="50.63" height="50.63" fill="#fff" stroke="#e0e0e0" stroke-width="1"/>
<rect x="894.79" y="971.19" width="50.63" height="50.63" fill="#fff" stroke="#e0e0e0" stroke-width="1"/>
<rect x="945.42" y="971.19" width="50.63" height="50.63" fill="#fff" stroke="#e0e0e0" stroke-width="1"/>
<rect x="996.05" y="971.19" width="50.63" height="50.63" fill="#fff" stroke="#e0e0e0" stroke-width="1"/>
<rect x="1046.68" y="971.19" width="50.63" height="50.63" fill="#fff" stroke="#e0e0e0" stroke-width="1"/>
<rect x="945.42" y="1021.82" width="50.63" height="50.63" fill="#fff" stroke="#e0e0e0" stroke-width="1"/>
<rect x="996.05" y="1021.82" width="50.63" height="50.63" fill="#fff" stroke="#e0e0e0" stroke-width="1"/>
<rect x="1046.68" y="1021.82" width="50.63" height="50.63" fill="#fff" stroke="#e0e0e0" stroke-width="1"/>
<rect x="996.05" y="1072.45" width="50.63" height="50.63" fill="#fff" stroke="#e0e0e0" stroke-width="1"/>
<rect x="1046.68" y="1072.45" width="50.63" height="50.63" fill="#fff" stroke="#e0e0e0" stroke-width="1"/>
<rect x="1046.68" y="1123.08" width="50.63" height="50.63" fill="#fff" stroke="#e0e0e0" stroke-width="1"/>
<line x1="746.7" y1="866.13" x2="789.73" y2="823.1" stroke="#ee6a70" stroke-width="1"/>
<polygon points="888.9,825.1 888.0,824.4 887.0,823.7 885.8,823.3 884.4,823.0 883.0,822.9 881.5,822.9 879.8,823.1 878.1,823.4 876.4,824.0 874.5,824.6 872.7,825.5 870.8,826.4 868.9,827.6 867.0,828.8 865.1,830.2 863.3,831.6 861.5,833.2 859.7,834.9 858.1,836.6 856.5,838.4 855.0,840.3 853.7,842.1 852.4,844.0 851.3,845.9 850.3,847.8 849.5,849.7 848.8,851.5 848.3,853.3 847.9,855.0 847.7,856.6 847.7,858.1 847.8,859.6 848.1,860.9 848.6,862.1 849.2,863.2 850.0,864.1 850.9,864.9 852.0,865.5 853.2,865.9 854.5,866.2 855.9,866.4 857.5,866.3 859.1,866.2 860.8,865.8 862.6,865.3 864.4,864.6 866.3,863.8 868.2,862.8 870.1,861.7 872.0,860.4 873.8,859.1 875.7,857.6 877.5,856.0 879.2,854.4 880.9,852.6 882.4,850.8 883.9,849.0 885.3,847.1 886.5,845.2 887.6,843.3 888.6,841.4 889.5,839.6 890.1,837.7 890.7,836.0 891.0,834.2 891.2,832.6 891.2,831.1 891.1,829.6 890.8,828.3 890.3,827.1 889.7,826.1" fill="#ef7677"/>
<polygon points="938.6,826.1 937.6,825.2 936.4,824.4 935.1,823.8 933.6,823.3 932.1,823.0 930.5,822.9 928.7,822.9 927.0,823.1 925.1,823.4 923.3,824.0 921.4,824.6 919.5,825.5 917.6,826.4 915.7,827.5 913.9,828.8 912.1,830.2 910.3,831.6 908.7,833.2 907.1,834.9 905.6,836.6 904.3,838.4 903.0,840.2 901.9,842.1 900.9,844.0 900.1,845.9 899.4,847.8 898.9,849.6 898.6,851.5 898.4,853.3 898.3,855.0 898.5,856.6 898.8,858.1 899.2,859.6 899.9,860.9 900.6,862.1 901.6,863.2 902.6,864.1 903.8,864.9 905.2,865.5 906.6,865.9 908.1,866.2 909.8,866.4 911.5,866.3 913.2,866.2 915.1,865.8 916.9,865.3 918.8,864.6 920.7,863.8 922.6,862.8 924.5,861.7 926.3,860.4 928.1,859.1 929.9,857.6 931.5,856.0 933.1,854.4 934.6,852.6 935.9,850.8 937.2,849.0 938.3,847.1 939.3,845.2 940.1,843.3 940.8,841.4 941.3,839.6 941.6,837.8 941.8,836.0 941.9,834.3 941.7,832.6 941.4,831.1 941.0,829.7 940.3,828.3 939.6,827.1" fill="#f39899"/>
<polygon points="989.9,825.4 988.9,824.6 987.8,823.9 986.6,823.4 985.2,823.1 983.7,822.9 982.2,822.9 980.5,823.0 978.8,823.3 977.0,823.8 975.1,824.4 973.3,825.2 971.4,826.1 969.5,827.2 967.6,828.4 965.7,829.7 963.9,831.1 962.1,832.7 960.4,834.3 958.8,836.0 957.2,837.8 955.8,839.6 954.5,841.5 953.3,843.4 952.2,845.3 951.3,847.1 950.5,849.0 949.9,850.9 949.4,852.7 949.1,854.4 949.0,856.0 949.0,857.6 949.2,859.1 949.5,860.5 950.1,861.7 950.7,862.8 951.6,863.8 952.5,864.6 953.7,865.3 954.9,865.8 956.3,866.2 957.7,866.3 959.3,866.4 961.0,866.2 962.7,865.9 964.5,865.5 966.3,864.8 968.2,864.1 970.1,863.1 972.0,862.1 973.9,860.9 975.7,859.6 977.6,858.1 979.4,856.6 981.1,854.9 982.7,853.2 984.2,851.5 985.7,849.6 987.0,847.8 988.2,845.9 989.3,844.0 990.2,842.1 991.0,840.2 991.6,838.4 992.1,836.6 992.4,834.8 992.5,833.2 992.5,831.6 992.3,830.1 991.9,828.8 991.4,827.5 990.7,826.4" fill="#f08182"/>
<polygon points="1034.1,831.9 1032.5,830.4 1030.8,829.0 1029.0,827.8 1027.2,826.6 1025.4,825.6 1023.5,824.8 1021.6,824.1 1019.7,823.5 1017.8,823.1 1016.0,822.9 1014.2,822.8 1012.4,823.0 1010.7,823.2 1009.1,823.7 1007.6,824.2 1006.2,825.0 1004.9,825.9 1003.7,826.9 1002.6,828.1 1001.7,829.4 1001.0,830.8 1000.4,832.3 1000.0,834.0 999.7,835.6 999.6,837.4 999.7,839.2 999.9,841.1 1000.3,843.0 1000.8,844.9 1001.5,846.8 1002.4,848.6 1003.4,850.5 1004.5,852.3 1005.8,854.0 1007.2,855.7 1008.7,857.3 1010.3,858.8 1011.9,860.2 1013.7,861.5 1015.5,862.6 1017.3,863.6 1019.2,864.5 1021.1,865.2 1023.0,865.7 1024.9,866.1 1026.8,866.3 1028.6,866.4 1030.3,866.3 1032.0,866.0 1033.6,865.6 1035.2,865.0 1036.6,864.2 1037.9,863.3 1039.1,862.3 1040.1,861.1 1041.0,859.8 1041.7,858.4 1042.3,856.9 1042.8,855.3 1043.0,853.6 1043.1,851.8 1043.1,850.0 1042.8,848.1 1042.5,846.3 1041.9,844.4 1041.2,842.5 1040.3,840.6 1039.3,838.7 1038.2,836.9 1036.9,835.2 1035.6,833.5" fill="#b6b5dc"/>
<polygon points="1085.1,831.6 1083.5,830.1 1081.8,828.7 1080.1,827.5 1078.3,826.4 1076.5,825.4 1074.6,824.6 1072.7,823.9 1070.8,823.4 1068.9,823.1 1067.0,822.9 1065.2,822.9 1063.4,823.0 1061.7,823.3 1060.1,823.8 1058.6,824.4 1057.1,825.2 1055.8,826.1 1054.6,827.2 1053.5,828.4 1052.6,829.7 1051.8,831.2 1051.2,832.7 1050.7,834.4 1050.4,836.1 1050.2,837.8 1050.3,839.7 1050.4,841.5 1050.8,843.4 1051.3,845.3 1052.0,847.2 1052.8,849.1 1053.8,850.9 1054.9,852.7 1056.1,854.5 1057.5,856.1 1058.9,857.7 1060.5,859.1 1062.2,860.5 1063.9,861.7 1065.7,862.8 1067.5,863.8 1069.4,864.6 1071.3,865.3 1073.2,865.8 1075.1,866.2 1076.9,866.4 1078.8,866.4 1080.5,866.2 1082.3,865.9 1083.9,865.4 1085.4,864.8 1086.9,864.0 1088.2,863.1 1089.4,862.0 1090.5,860.8 1091.4,859.5 1092.2,858.1 1092.8,856.5 1093.3,854.9 1093.6,853.2 1093.8,851.4 1093.7,849.6 1093.5,847.7 1093.2,845.8 1092.7,843.9 1092.0,842.0 1091.2,840.1 1090.2,838.3 1089.1,836.5 1087.9,834.8 1086.5,833.1" fill="#c0bfe0"/>
<line x1="797.33" y1="916.76" x2="840.36" y2="873.73" stroke="#ee6a70" stroke-width="1"/>
<polygon points="890.8,874.0 890.3,873.6 889.6,873.5 888.8,873.5 887.9,873.7 886.8,874.0 885.6,874.5 884.3,875.2 882.8,876.0 881.3,876.9 879.6,878.0 877.9,879.3 876.1,880.6 874.3,882.1 872.4,883.6 870.5,885.3 868.6,887.0 866.7,888.8 864.9,890.6 863.0,892.5 861.2,894.4 859.5,896.3 857.9,898.2 856.3,900.1 854.8,901.9 853.5,903.7 852.3,905.4 851.2,907.0 850.2,908.6 849.4,910.0 848.7,911.4 848.2,912.6 847.9,913.7 847.7,914.6 847.7,915.4 847.9,916.0 848.2,916.5 848.7,916.8 849.3,917.0 850.1,917.0 851.1,916.8 852.1,916.5 853.4,916.0 854.7,915.3 856.1,914.5 857.7,913.6 859.3,912.5 861.1,911.2 862.8,909.9 864.7,908.4 866.5,906.9 868.4,905.2 870.3,903.5 872.2,901.7 874.1,899.9 875.9,898.0 877.7,896.1 879.4,894.2 881.1,892.3 882.7,890.4 884.1,888.6 885.5,886.8 886.7,885.1 887.8,883.5 888.7,881.9 889.6,880.5 890.2,879.1 890.7,877.9 891.0,876.8 891.2,875.9 891.2,875.1 891.1,874.5" fill="#e62f30"/>
<polygon points="940.3,875.1 939.5,874.4 938.6,873.9 937.5,873.6 936.3,873.5 935.0,873.5 933.5,873.7 932.0,874.0 930.3,874.5 928.6,875.2 926.8,876.0 925.0,877.0 923.1,878.1 921.3,879.3 919.4,880.7 917.5,882.2 915.6,883.7 913.7,885.4 912.0,887.1 910.2,888.9 908.6,890.7 907.0,892.6 905.5,894.5 904.2,896.4 903.0,898.3 901.9,900.2 900.9,902.0 900.1,903.8 899.4,905.5 898.9,907.1 898.5,908.7 898.4,910.1 898.3,911.4 898.5,912.6 898.8,913.7 899.3,914.6 899.9,915.4 900.7,916.1 901.6,916.5 902.7,916.9 903.9,917.0 905.2,917.0 906.7,916.8 908.2,916.5 909.9,915.9 911.6,915.3 913.4,914.5 915.2,913.5 917.1,912.4 919.0,911.2 920.9,909.8 922.7,908.3 924.6,906.8 926.5,905.1 928.3,903.4 930.0,901.6 931.6,899.8 933.2,897.9 934.7,896.0 936.0,894.1 937.3,892.2 938.4,890.3 939.3,888.5 940.1,886.7 940.8,885.0 941.3,883.4 941.7,881.8 941.8,880.4 941.9,879.1 941.7,877.9 941.4,876.8 940.9,875.8" fill="#ec5a5c"/>
<polygon points="989.6,876.4 988.6,875.5 987.4,874.8 986.1,874.2 984.7,873.8 983.2,873.6 981.6,873.5 979.9,873.6 978.2,873.8 976.4,874.2 974.5,874.8 972.6,875.5 970.7,876.4 968.8,877.4 967.0,878.6 965.1,879.9 963.3,881.3 961.5,882.8 959.8,884.4 958.2,886.0 956.7,887.8 955.3,889.6 954.1,891.5 952.9,893.3 951.9,895.2 951.0,897.1 950.3,899.0 949.7,900.9 949.3,902.7 949.0,904.4 949.0,906.1 949.0,907.7 949.3,909.2 949.7,910.6 950.3,911.9 951.0,913.1 951.9,914.1 952.9,915.0 954.1,915.7 955.3,916.3 956.7,916.7 958.2,916.9 959.8,917.0 961.5,916.9 963.3,916.7 965.1,916.3 967.0,915.7 968.8,915.0 970.7,914.1 972.6,913.1 974.5,911.9 976.4,910.6 978.2,909.2 979.9,907.7 981.6,906.1 983.2,904.4 984.7,902.7 986.1,900.9 987.4,899.0 988.6,897.1 989.6,895.2 990.5,893.3 991.2,891.5 991.8,889.6 992.2,887.8 992.4,886.0 992.5,884.4 992.4,882.8 992.2,881.3 991.8,879.9 991.2,878.6 990.5,877.4" fill="#f28c8e"/>
<polygon points="1084.3,882.9 1082.7,881.4 1081.0,880.0 1079.2,878.7 1077.4,877.5 1075.6,876.5 1073.7,875.6 1071.8,874.9 1069.9,874.3 1068.0,873.8 1066.2,873.6 1064.4,873.5 1062.6,873.5 1060.9,873.8 1059.3,874.2 1057.8,874.7 1056.5,875.4 1055.2,876.3 1054.0,877.3 1053.0,878.4 1052.2,879.7 1051.5,881.1 1050.9,882.6 1050.5,884.2 1050.3,885.9 1050.2,887.6 1050.3,889.4 1050.6,891.3 1051.0,893.1 1051.6,895.0 1052.4,896.9 1053.2,898.8 1054.3,900.7 1055.5,902.5 1056.7,904.3 1058.2,905.9 1059.7,907.6 1061.3,909.1 1063.0,910.5 1064.7,911.8 1066.6,913.0 1068.4,914.0 1070.3,914.9 1072.2,915.6 1074.1,916.2 1076.0,916.6 1077.8,916.9 1079.6,917.0 1081.4,917.0 1083.1,916.7 1084.7,916.3 1086.1,915.8 1087.5,915.1 1088.8,914.2 1089.9,913.2 1091.0,912.1 1091.8,910.8 1092.5,909.4 1093.1,907.9 1093.5,906.3 1093.7,904.6 1093.8,902.9 1093.7,901.1 1093.4,899.2 1093.0,897.4 1092.4,895.5 1091.6,893.6 1090.7,891.7 1089.7,889.8 1088.5,888.0 1087.2,886.2 1085.8,884.5" fill="#adacd7"/>
<line x1="847.96" y1="967.39" x2="890.99" y2="924.36" stroke="#ee6a70" stroke-width="1"/>
<polygon points="940.5,925.5 939.8,924.9 938.9,924.5 937.9,924.2 936.7,924.1 935.4,924.2 934.0,924.4 932.5,924.8 930.9,925.4 929.2,926.1 927.5,927.0 925.6,928.0 923.8,929.1 921.9,930.4 920.0,931.8 918.1,933.3 916.2,934.9 914.4,936.6 912.6,938.3 910.8,940.1 909.1,942.0 907.5,943.9 906.0,945.8 904.6,947.7 903.4,949.6 902.2,951.4 901.2,953.2 900.3,955.0 899.6,956.7 899.0,958.3 898.6,959.8 898.4,961.2 898.3,962.5 898.4,963.7 898.7,964.7 899.1,965.6 899.7,966.3 900.4,966.9 901.3,967.3 902.3,967.6 903.5,967.6 904.8,967.6 906.2,967.3 907.7,966.9 909.3,966.4 911.0,965.6 912.8,964.8 914.6,963.8 916.4,962.6 918.3,961.3 920.2,959.9 922.1,958.4 924.0,956.8 925.8,955.2 927.6,953.4 929.4,951.6 931.1,949.8 932.7,947.9 934.2,946.0 935.6,944.1 936.8,942.2 938.0,940.3 939.0,938.5 939.9,936.8 940.6,935.1 941.2,933.5 941.6,932.0 941.8,930.6 941.9,929.3 941.8,928.1 941.5,927.1 941.1,926.2" fill="#ea5152"/>
<polygon points="990.8,925.8 990.0,925.1 989.0,924.6 987.9,924.3 986.7,924.1 985.4,924.1 983.9,924.3 982.3,924.6 980.7,925.1 979.0,925.7 977.2,926.5 975.3,927.5 973.5,928.5 971.6,929.8 969.7,931.1 967.8,932.5 965.9,934.1 964.1,935.7 962.3,937.4 960.6,939.2 958.9,941.1 957.4,942.9 955.9,944.8 954.6,946.7 953.4,948.6 952.3,950.5 951.4,952.3 950.6,954.1 949.9,955.8 949.5,957.5 949.1,959.0 949.0,960.5 949.0,961.9 949.2,963.1 949.5,964.2 950.0,965.1 950.7,965.9 951.5,966.6 952.4,967.1 953.5,967.4 954.8,967.6 956.1,967.6 957.6,967.5 959.1,967.2 960.8,966.7 962.5,966.0 964.3,965.2 966.1,964.3 968.0,963.2 969.9,962.0 971.8,960.7 973.7,959.2 975.6,957.7 977.4,956.0 979.2,954.3 980.9,952.5 982.5,950.7 984.1,948.8 985.5,946.9 986.9,945.0 988.1,943.1 989.2,941.3 990.1,939.4 990.9,937.6 991.5,935.9 992.0,934.3 992.3,932.7 992.5,931.2 992.5,929.9 992.3,928.7 992.0,927.6 991.5,926.6" fill="#ec5f60"/>
<polygon points="1030.3,936.9 1028.6,935.2 1026.8,933.6 1024.9,932.1 1023.0,930.7 1021.1,929.4 1019.2,928.2 1017.3,927.1 1015.5,926.2 1013.7,925.5 1011.9,924.9 1010.3,924.5 1008.7,924.2 1007.2,924.1 1005.8,924.2 1004.5,924.4 1003.4,924.8 1002.4,925.3 1001.5,926.0 1000.8,926.9 1000.3,927.9 999.9,929.0 999.7,930.3 999.6,931.7 999.7,933.2 1000.0,934.8 1000.4,936.5 1001.0,938.2 1001.7,940.0 1002.6,941.9 1003.7,943.7 1004.8,945.6 1006.1,947.5 1007.6,949.4 1009.1,951.3 1010.7,953.1 1012.4,954.9 1014.2,956.5 1016.0,958.2 1017.8,959.7 1019.7,961.1 1021.6,962.4 1023.5,963.6 1025.4,964.6 1027.2,965.5 1029.0,966.2 1030.8,966.8 1032.5,967.3 1034.1,967.5 1035.5,967.6 1036.9,967.6 1038.2,967.4 1039.3,967.0 1040.3,966.4 1041.2,965.7 1041.9,964.9 1042.5,963.8 1042.8,962.7 1043.1,961.4 1043.1,960.1 1043.0,958.6 1042.8,957.0 1042.3,955.3 1041.7,953.6 1041.0,951.7 1040.1,949.9 1039.1,948.0 1037.9,946.1 1036.6,944.2 1035.2,942.3 1033.6,940.5 1032.0,938.7" fill="#5862b0"/>
<polygon points="1082.0,935.9 1080.2,934.2 1078.5,932.7 1076.6,931.2 1074.8,929.9 1072.9,928.7 1071.0,927.6 1069.1,926.6 1067.2,925.8 1065.4,925.1 1063.6,924.6 1061.9,924.3 1060.2,924.1 1058.7,924.1 1057.2,924.3 1055.9,924.6 1054.7,925.1 1053.6,925.7 1052.6,926.5 1051.8,927.5 1051.2,928.6 1050.7,929.8 1050.4,931.1 1050.2,932.6 1050.2,934.1 1050.4,935.7 1050.8,937.5 1051.3,939.2 1051.9,941.1 1052.7,942.9 1053.7,944.8 1054.8,946.7 1056.0,948.6 1057.4,950.5 1058.8,952.3 1060.4,954.1 1062.0,955.9 1063.7,957.5 1065.5,959.1 1067.4,960.5 1069.2,961.9 1071.1,963.1 1073.0,964.2 1074.9,965.1 1076.8,966.0 1078.6,966.6 1080.4,967.1 1082.1,967.4 1083.8,967.6 1085.3,967.6 1086.8,967.5 1088.1,967.1 1089.3,966.7 1090.4,966.0 1091.3,965.2 1092.1,964.3 1092.8,963.2 1093.3,962.0 1093.6,960.6 1093.7,959.2 1093.7,957.6 1093.6,956.0 1093.2,954.3 1092.7,952.5 1092.1,950.7 1091.3,948.8 1090.3,946.9 1089.2,945.0 1088.0,943.1 1086.6,941.2 1085.2,939.4 1083.6,937.6" fill="#6b6fb7"/>
<line x1="898.59" y1="1018.02" x2="941.62" y2="974.99" stroke="#ee6a70" stroke-width="1"/>
<polygon points="990.4,976.8 989.6,976.1 988.5,975.5 987.4,975.1 986.1,974.8 984.7,974.7 983.2,974.8 981.6,975.1 979.9,975.5 978.1,976.0 976.3,976.8 974.5,977.6 972.6,978.6 970.7,979.8 968.8,981.1 966.9,982.5 965.1,984.0 963.3,985.6 961.5,987.3 959.8,989.0 958.2,990.8 956.7,992.7 955.3,994.6 954.0,996.5 952.9,998.4 951.9,1000.2 951.0,1002.1 950.3,1003.9 949.7,1005.7 949.3,1007.4 949.0,1009.0 949.0,1010.5 949.1,1011.9 949.3,1013.2 949.7,1014.3 950.3,1015.3 951.0,1016.2 951.9,1016.9 952.9,1017.5 954.1,1017.9 955.4,1018.2 956.8,1018.3 958.3,1018.2 959.9,1018.0 961.6,1017.5 963.3,1017.0 965.1,1016.3 967.0,1015.4 968.9,1014.4 970.8,1013.2 972.7,1011.9 974.6,1010.5 976.4,1009.0 978.2,1007.4 980.0,1005.7 981.7,1004.0 983.3,1002.2 984.8,1000.3 986.2,998.4 987.4,996.5 988.6,994.6 989.6,992.8 990.5,990.9 991.2,989.1 991.8,987.3 992.2,985.7 992.4,984.1 992.5,982.5 992.4,981.1 992.2,979.9 991.8,978.7 991.2,977.7" fill="#ee6c6e"/>
<polygon points="1081.0,987.5 1079.2,985.8 1077.4,984.2 1075.5,982.7 1073.6,981.3 1071.7,980.0 1069.9,978.8 1068.0,977.8 1066.1,976.9 1064.3,976.1 1062.6,975.5 1060.9,975.1 1059.3,974.8 1057.8,974.7 1056.4,974.8 1055.2,975.0 1054.0,975.4 1053.0,976.0 1052.2,976.7 1051.5,977.5 1050.9,978.5 1050.5,979.7 1050.3,980.9 1050.2,982.3 1050.3,983.8 1050.6,985.4 1051.0,987.1 1051.6,988.8 1052.4,990.6 1053.3,992.5 1054.3,994.4 1055.5,996.3 1056.8,998.2 1058.2,1000.0 1059.7,1001.9 1061.3,1003.7 1063.0,1005.5 1064.8,1007.2 1066.6,1008.8 1068.5,1010.3 1070.3,1011.7 1072.2,1013.0 1074.1,1014.2 1076.0,1015.2 1077.9,1016.1 1079.7,1016.9 1081.4,1017.5 1083.1,1017.9 1084.7,1018.2 1086.2,1018.3 1087.6,1018.2 1088.8,1018.0 1090.0,1017.6 1091.0,1017.0 1091.8,1016.3 1092.5,1015.5 1093.1,1014.5 1093.5,1013.3 1093.7,1012.1 1093.8,1010.7 1093.7,1009.2 1093.4,1007.6 1093.0,1005.9 1092.4,1004.2 1091.6,1002.4 1090.7,1000.5 1089.7,998.6 1088.5,996.8 1087.2,994.9 1085.8,993.0 1084.3,991.1 1082.7,989.3" fill="#5862b0"/>
<line x1="949.22" y1="1068.65" x2="992.25" y2="1025.62" stroke="#ee6a70" stroke-width="1"/>
<polygon points="1029.5,1039.0 1027.7,1037.3 1025.9,1035.6 1024.0,1034.0 1022.1,1032.6 1020.2,1031.2 1018.3,1030.0 1016.5,1028.9 1014.6,1027.9 1012.8,1027.1 1011.1,1026.4 1009.5,1025.9 1008.0,1025.6 1006.5,1025.4 1005.2,1025.4 1004.0,1025.5 1002.9,1025.8 1002.0,1026.3 1001.2,1026.9 1000.5,1027.7 1000.1,1028.7 999.8,1029.7 999.6,1030.9 999.6,1032.3 999.8,1033.7 1000.2,1035.3 1000.7,1036.9 1001.3,1038.6 1002.1,1040.4 1003.1,1042.2 1004.2,1044.1 1005.4,1046.0 1006.8,1047.9 1008.3,1049.8 1009.8,1051.7 1011.5,1053.5 1013.2,1055.3 1015.0,1057.0 1016.8,1058.7 1018.7,1060.2 1020.6,1061.7 1022.5,1063.1 1024.4,1064.3 1026.3,1065.4 1028.1,1066.4 1029.9,1067.2 1031.6,1067.8 1033.2,1068.3 1034.8,1068.7 1036.2,1068.9 1037.6,1068.9 1038.8,1068.7 1039.8,1068.4 1040.8,1068.0 1041.6,1067.3 1042.2,1066.5 1042.7,1065.6 1043.0,1064.5 1043.1,1063.3 1043.1,1062.0 1042.9,1060.5 1042.6,1059.0 1042.1,1057.4 1041.4,1055.7 1040.6,1053.9 1039.6,1052.0 1038.5,1050.2 1037.3,1048.3 1035.9,1046.4 1034.5,1044.5 1032.9,1042.6 1031.2,1040.8" fill="#4b5cac"/>
<polygon points="1080.4,1038.7 1078.6,1037.0 1076.8,1035.3 1074.9,1033.8 1073.1,1032.3 1071.2,1031.0 1069.3,1029.8 1067.4,1028.7 1065.6,1027.8 1063.8,1027.0 1062.0,1026.3 1060.4,1025.9 1058.8,1025.5 1057.4,1025.4 1056.0,1025.4 1054.8,1025.6 1053.7,1025.9 1052.7,1026.4 1051.9,1027.1 1051.3,1027.9 1050.8,1028.8 1050.4,1029.9 1050.2,1031.2 1050.2,1032.5 1050.4,1034.0 1050.7,1035.5 1051.2,1037.2 1051.8,1038.9 1052.6,1040.7 1053.6,1042.5 1054.7,1044.4 1055.9,1046.3 1057.2,1048.2 1058.7,1050.1 1060.2,1052.0 1061.8,1053.8 1063.6,1055.6 1065.3,1057.3 1067.2,1058.9 1069.0,1060.5 1070.9,1061.9 1072.8,1063.3 1074.7,1064.5 1076.6,1065.6 1078.4,1066.5 1080.2,1067.3 1082.0,1067.9 1083.6,1068.4 1085.2,1068.7 1086.6,1068.9 1088.0,1068.9 1089.2,1068.7 1090.3,1068.4 1091.3,1067.9 1092.1,1067.2 1092.7,1066.4 1093.2,1065.4 1093.6,1064.3 1093.7,1063.1 1093.7,1061.8 1093.6,1060.3 1093.3,1058.7 1092.8,1057.1 1092.2,1055.4 1091.4,1053.6 1090.4,1051.7 1089.3,1049.9 1088.1,1048.0 1086.8,1046.1 1085.3,1044.2 1083.8,1042.3 1082.1,1040.5" fill="#505ead"/>
<line x1="999.85" y1="1119.28" x2="1042.88" y2="1076.25" stroke="#ee6a70" stroke-width="1"/>
<polygon points="1093.5,1076.3 1093.1,1076.0 1092.6,1076.0 1091.9,1076.1 1091.0,1076.4 1090.0,1076.8 1088.9,1077.4 1087.6,1078.2 1086.3,1079.1 1084.8,1080.1 1083.2,1081.3 1081.5,1082.6 1079.8,1084.0 1078.0,1085.6 1076.1,1087.2 1074.2,1088.9 1072.3,1090.6 1070.4,1092.5 1068.6,1094.3 1066.7,1096.2 1064.9,1098.1 1063.1,1100.0 1061.4,1101.9 1059.8,1103.7 1058.3,1105.5 1056.8,1107.3 1055.5,1108.9 1054.4,1110.5 1053.3,1112.0 1052.4,1113.4 1051.7,1114.7 1051.1,1115.8 1050.6,1116.8 1050.3,1117.6 1050.2,1118.3 1050.3,1118.9 1050.5,1119.3 1050.9,1119.5 1051.4,1119.5 1052.1,1119.4 1053.0,1119.1 1054.0,1118.7 1055.1,1118.1 1056.4,1117.3 1057.7,1116.4 1059.2,1115.4 1060.8,1114.2 1062.5,1112.9 1064.2,1111.5 1066.0,1110.0 1067.9,1108.4 1069.8,1106.7 1071.7,1104.9 1073.6,1103.1 1075.4,1101.2 1077.3,1099.3 1079.1,1097.4 1080.9,1095.5 1082.6,1093.6 1084.2,1091.8 1085.7,1090.0 1087.1,1088.3 1088.4,1086.6 1089.6,1085.0 1090.7,1083.5 1091.6,1082.1 1092.3,1080.9 1092.9,1079.7 1093.4,1078.7 1093.7,1077.9 1093.8,1077.2 1093.7,1076.6" fill="#e52527"/>
<line x1="1050.48" y1="1169.91" x2="1093.51" y2="1126.88" stroke="#ee6a70" stroke-width="1"/>
<text x="732.6" y="849.82" font-size="20.3" text-anchor="end">SERPINA1</text>
<text x="776.42" y="811.6" font-size="20.15" transform="rotate(-90 776.42 811.6)">SERPINA1</text>
<text x="784.5" y="900.45" font-size="20.3" text-anchor="end">HMOX1</text>
<text x="827.05" y="811.6" font-size="20.15" transform="rotate(-90 827.05 811.6)">HMOX1</text>
<text x="836.1" y="951.08" font-size="20.3" text-anchor="end">NFKB1</text>
<text x="877.68" y="811.6" font-size="20.15" transform="rotate(-90 877.68 811.6)">NFKB1</text>
<text x="889.6" y="1001.71" font-size="20.3" text-anchor="end">IL6</text>
<text x="928.31" y="811.6" font-size="20.15" transform="rotate(-90 928.31 811.6)">IL6</text>
<text x="937.6" y="1052.34" font-size="20.3" text-anchor="end">VEGFA</text>
<text x="978.94" y="811.6" font-size="20.15" transform="rotate(-90 978.94 811.6)">VEGFA</text>
<text x="989.5" y="1102.96" font-size="20.3" text-anchor="end">LRP2</text>
<text x="1029.57" y="811.6" font-size="20.15" transform="rotate(-90 1029.57 811.6)">LRP2</text>
<text x="1041.1" y="1153.6" font-size="20.3" text-anchor="end">HP</text>
<text x="1080.19" y="811.6" font-size="20.15" transform="rotate(-90 1080.19 811.6)">HP</text>
<defs><linearGradient id="gcor" x1="0" y1="0" x2="0" y2="1"><stop offset="0" stop-color="#e41a1c"/><stop offset="0.5" stop-color="#fff"/><stop offset="0.6" stop-color="#d3d2ea"/><stop offset="0.7" stop-color="#a3a2d2"/><stop offset="0.8" stop-color="#6569b4"/><stop offset="0.9" stop-color="#3a53a6"/><stop offset="1" stop-color="#1f4397"/></linearGradient></defs>
<rect x="1102.7" y="819.3" width="13.3" height="354.5" fill="url(#gcor)"/>
<line x1="1116" y1="819.3" x2="1118" y2="819.3" stroke="#888" stroke-width="0.8"/>
<text x="1125.3" y="822.3" font-size="20.3">1</text>
<line x1="1116" y1="854.75" x2="1118" y2="854.75" stroke="#888" stroke-width="0.8"/>
<text x="1125.3" y="857.75" font-size="20.3">0.8</text>
<line x1="1116" y1="890.2" x2="1118" y2="890.2" stroke="#888" stroke-width="0.8"/>
<text x="1125.3" y="893.2" font-size="20.3">0.6</text>
<line x1="1116" y1="925.65" x2="1118" y2="925.65" stroke="#888" stroke-width="0.8"/>
<text x="1125.3" y="928.65" font-size="20.3">0.4</text>
<line x1="1116" y1="961.1" x2="1118" y2="961.1" stroke="#888" stroke-width="0.8"/>
<text x="1125.3" y="964.1" font-size="20.3">0.2</text>
<line x1="1116" y1="996.55" x2="1118" y2="996.55" stroke="#888" stroke-width="0.8"/>
<text x="1125.3" y="999.55" font-size="20.3">0</text>
<line x1="1116" y1="1032" x2="1118" y2="1032" stroke="#888" stroke-width="0.8"/>
<text x="1124.3" y="1035" font-size="20.3">−0.2</text>
<line x1="1116" y1="1067.45" x2="1118" y2="1067.45" stroke="#888" stroke-width="0.8"/>
<text x="1124.3" y="1070.45" font-size="20.3">−0.4</text>
<line x1="1116" y1="1102.9" x2="1118" y2="1102.9" stroke="#888" stroke-width="0.8"/>
<text x="1124.3" y="1105.9" font-size="20.3">−0.6</text>
<line x1="1116" y1="1138.35" x2="1118" y2="1138.35" stroke="#888" stroke-width="0.8"/>
<text x="1124.3" y="1141.35" font-size="20.3">−0.8</text>
<line x1="1116" y1="1173.8" x2="1118" y2="1173.8" stroke="#888" stroke-width="0.8"/>
<text x="1124.3" y="1176.8" font-size="20.3">−1</text>
</g>
<g id="panel_e">
<text x="1289.2" y="735.2" font-size="35">E</text>
<line x1="1461.78" y1="743.87" x2="1447.41" y2="889.84" stroke="#b3cc3a" stroke-width="1.6"/>
<line x1="1458.89" y1="743.59" x2="1444.52" y2="889.56" stroke="#333333" stroke-width="1.6"/>
<line x1="1447" y1="891.75" x2="1315.69" y2="958.13" stroke="#333333" stroke-width="1.6"/>
<line x1="1445.97" y1="889.7" x2="1314.65" y2="956.08" stroke="#b052b4" stroke-width="1.6"/>
<line x1="1444.93" y1="887.65" x2="1313.61" y2="954.02" stroke="#b3cc3a" stroke-width="1.6"/>
<line x1="1447.41" y1="889.79" x2="1438.79" y2="1031.16" stroke="#333333" stroke-width="1.6"/>
<line x1="1444.52" y1="889.61" x2="1435.9" y2="1030.98" stroke="#b3cc3a" stroke-width="1.6"/>
<line x1="1447.03" y1="888.72" x2="1546.45" y2="996.18" stroke="#b3cc3a" stroke-width="1.6"/>
<line x1="1444.9" y1="890.69" x2="1544.32" y2="998.15" stroke="#333333" stroke-width="1.6"/>
<line x1="1315.41" y1="954.84" x2="1438.1" y2="1029.84" stroke="#b3cc3a" stroke-width="1.6"/>
<line x1="1313.9" y1="957.31" x2="1436.59" y2="1032.31" stroke="#333333" stroke-width="1.6"/>
<line x1="1436.91" y1="1029.69" x2="1544.95" y2="995.78" stroke="#b3cc3a" stroke-width="1.6"/>
<line x1="1437.78" y1="1032.46" x2="1545.82" y2="998.55" stroke="#333333" stroke-width="1.6"/>
<line x1="1439.61" y1="1030.69" x2="1460.01" y2="1150.8" stroke="#b3cc3a" stroke-width="1.6"/>
<line x1="1437.35" y1="1031.07" x2="1457.75" y2="1151.18" stroke="#4db6e2" stroke-width="1.6"/>
<line x1="1435.08" y1="1031.46" x2="1455.48" y2="1151.57" stroke="#333333" stroke-width="1.6"/>
<line x1="1546.65" y1="997.88" x2="1459.01" y2="1151.9" stroke="#333333" stroke-width="1.6"/>
<line x1="1544.13" y1="996.45" x2="1456.49" y2="1150.46" stroke="#b3cc3a" stroke-width="1.6"/>
<line x1="1438.07" y1="1029.81" x2="1638.05" y2="1144.17" stroke="#b3cc3a" stroke-width="1.6"/>
<line x1="1436.63" y1="1032.33" x2="1636.61" y2="1146.69" stroke="#333333" stroke-width="1.6"/>
<circle cx="1460.3" cy="743.7" r="22.3" fill="#cbdeae" stroke="#8b9a68" stroke-width="3.3"/>
<path d="M1457.8 745.1L1457.9 742.5L1460.4 741.9L1460.3 744.5L1459.9 747.1L1461.4 744.9L1463.6 743.5L1461.9 741.6L1460.4 743.7L1458.9 745.8" fill="none" stroke="#8a6a4a" stroke-width="0.6" stroke-opacity="0.8" stroke-linejoin="round"/>
<circle cx="1446.0" cy="889.7" r="22.3" fill="#bedccf" stroke="#7a9e88" stroke-width="3.3"/>
<path d="M1445.9 894.1L1444.2 896.6L1441.2 896.4L1443.3 894.2L1444.0 891.3L1447.0 891.5L1448.4 888.8L1448.8 891.8L1446.5 893.8L1446.4 890.8L1447.8 893.4L1445.1 892.0L1442.2 891.6L1439.2 891.2L1436.4 890.0L1436.0 893.0L1436.4 890.0L1439.2 888.9L1440.2 886.1L1441.8 888.7L1440.5 891.4L1438.9 893.9L1436.0 894.4L1438.6 893.1L1438.5 896.1L1441.3 897.2L1441.8 894.8L1442.1 891.8L1439.6 890.0L1437.8 887.7L1438.9 890.5L1441.0 892.7L1440.3 895.6L1437.4 894.9L1439.9 893.3L1439.1 890.4L1437.6 887.8L1439.4 885.4L1438.6 888.2L1440.3 890.7L1437.6 892.0L1438.9 894.7L1441.8 893.9L1444.8 894.1L1444.6 897.1L1441.9 895.9L1439.2 894.4L1442.0 895.7L1444.5 894.0L1446.5 891.8L1446.5 894.8L1447.0 891.8L1446.3 888.9L1443.4 888.6L1443.1 891.6L1443.3 894.5L1445.7 896.4L1442.8 895.4L1442.9 892.4L1445.9 892.1L1448.1 890.0L1449.6 892.7L1446.7 892.1L1444.1 893.6L1441.2 893.3L1441.9 890.4L1444.8 890.8L1447.1 892.9L1445.4 890.4L1444.7 887.4L1443.1 884.9" fill="none" stroke="#7fa06a" stroke-width="0.6" stroke-opacity="0.8" stroke-linejoin="round"/>
<path d="M1451.1 886.8L1452.4 889.3L1449.7 888.7L1447.0 887.8L1449.6 889.0L1451.7 887.1L1449.1 886.1L1451.8 886.3L1454.5 887.0L1455.1 884.3L1453.4 886.5L1451.9 888.9L1451.1 886.2L1450.9 889.0L1452.3 886.6L1454.6 885.0L1456.3 887.3" fill="none" stroke="#8aa878" stroke-width="0.6" stroke-opacity="0.8" stroke-linejoin="round"/>
<circle cx="1314.7" cy="956.1" r="22.3" fill="#cee3bd" stroke="#8fa780" stroke-width="3.3"/>
<path d="M1311.2 952.8L1307.9 954.3L1304.3 954.6L1306.1 957.7L1303.3 960.0L1305.6 957.2L1308.4 955.0L1311.2 957.3L1314.2 959.2L1315.3 962.6L1317.0 959.5L1319.6 962.0L1323.2 961.5L1319.7 962.5L1316.1 962.4L1314.0 959.5L1310.6 960.6L1310.6 964.2L1312.5 961.1L1316.0 962.1L1317.8 965.2L1314.2 965.5L1311.0 964.0L1311.0 960.4L1313.9 962.4L1312.6 965.7L1315.2 963.3L1315.6 959.7L1318.1 962.4L1319.3 959.0L1317.0 956.1L1317.4 952.5L1314.4 950.5L1311.6 952.8L1308.0 952.4L1304.9 954.2L1301.4 955.0L1305.0 954.8L1308.4 955.8L1311.8 957.1L1315.3 956.2L1317.5 953.3L1315.7 950.2L1313.1 947.8L1312.2 951.2L1313.1 947.8L1309.9 949.3L1306.3 949.2L1306.8 952.8L1304.0 955.1L1301.3 957.4L1306.8 957.1L1303.5 958.5L1307.1 958.6L1310.6 959.5L1308.7 962.6L1307.6 959.2L1305.5 956.3L1305.4 952.7L1306.5 956.1L1309.7 957.8L1309.1 954.2L1312.7 954.3L1315.9 952.5L1319.3 951.5L1322.7 950.3L1319.2 949.5L1315.9 948.1L1313.2 950.4L1310.5 948.1L1313.8 949.3L1317.0 947.7L1316.3 951.2L1314.9 947.9L1312.2 950.3L1310.1 953.3L1307.2 955.4L1304.3 957.5L1300.8 956.3L1302.4 953.1L1301.8 956.6L1307.1 956.6L1308.2 960.1L1308.0 963.6L1309.6 960.4L1313.0 959.4L1314.5 962.6L1314.1 959.1L1311.1 957.0L1308.3 954.8L1307.1 951.4L1310.4 952.7L1314.0 952.8L1310.7 951.3L1312.8 948.3L1313.3 951.9L1314.8 955.2L1315.6 958.7L1318.6 960.7L1320.6 963.7L1317.6 965.6L1316.0 962.4L1314.5 959.1L1312.8 955.9L1314.1 952.5L1316.0 949.5L1319.5 948.6L1323.0 949.3L1319.9 952.2L1320.0 948.6L1319.7 952.2" fill="none" stroke="#c87a2c" stroke-width="0.8" stroke-opacity="0.85" stroke-linejoin="round"/>
<path d="M1313.5 958.3L1316.8 959.7L1320.3 958.8L1323.9 958.8L1319.0 957.7L1316.3 960.1L1318.3 963.2L1320.5 960.3L1324.1 960.5L1321.8 957.7L1324.0 954.9L1322.3 958.1L1320.2 961.0L1316.6 961.1L1316.6 957.5L1313.7 955.4L1314.1 951.8L1317.6 952.6L1319.0 955.9L1316.4 958.5L1313.8 960.9L1311.0 963.2L1307.5 963.8L1310.8 962.4L1307.6 964.1L1304.0 963.6L1307.6 963.9L1311.1 963.0L1314.1 961.1L1315.3 957.7L1318.7 958.9L1322.2 957.9L1320.7 961.1L1320.0 957.6L1322.5 955.1L1325.7 953.5L1322.5 951.9L1320.1 949.2L1322.8 951.6L1319.2 952.1L1316.8 954.8" fill="none" stroke="#a8a078" stroke-width="0.5" stroke-opacity="0.7" stroke-linejoin="round"/>
<circle cx="1545.4" cy="997.2" r="22.3" fill="#fbe7c3" stroke="#b49f79" stroke-width="3.3"/>
<path d="M1549.2 1000.9L1545.6 1001.2L1542.0 1001.5L1539.3 1003.8L1540.0 1007.3L1537.9 1004.4L1536.2 1001.2L1539.4 1002.8L1540.6 999.4L1538.0 997.0L1537.5 993.4L1536.0 990.2L1539.3 988.9L1537.8 992.1L1540.9 993.8L1541.3 990.2L1540.8 986.6L1538.9 989.7L1542.4 990.5L1545.9 989.7L1549.5 989.5L1552.7 991.1L1551.5 994.4L1552.7 997.8L1550.0 995.5L1546.4 995.2L1542.9 996.3L1540.7 999.1L1541.3 1002.7L1538.1 1001.1L1535.0 1003.0L1532.9 1000.0L1536.0 998.2L1539.5 997.2L1542.9 996.1L1543.9 992.6L1547.5 992.1L1550.4 990.0L1553.0 992.5L1549.8 994.1L1547.2 991.7L1543.6 991.0L1540.1 990.6L1536.7 991.9L1535.4 995.3L1532.9 997.8L1535.7 1000.0L1537.0 1003.3L1537.7 999.8L1540.8 1001.6L1543.6 1003.8L1543.3 1007.4L1545.8 1004.8L1545.5 1001.3L1543.8 998.0L1545.7 995.0L1546.0 991.4L1547.7 988.2L1545.0 990.6L1547.5 993.1L1547.3 996.7L1549.7 994.0L1551.6 997.1L1553.2 1000.3L1551.3 997.2L1553.7 994.6L1552.7 991.1L1551.7 994.6L1548.3 995.8L1550.0 999.0L1553.5 998.5L1557.0 997.5L1555.3 1000.7L1552.1 999.0L1551.6 995.4L1550.6 991.9L1553.6 990.0L1551.0 992.4L1547.4 993.0L1543.8 993.3L1541.8 996.3L1541.7 999.9L1541.7 1003.5L1538.3 1004.8L1535.0 1003.5L1537.4 1000.8L1540.8 1002.0L1544.2 1000.9L1546.5 998.1L1544.6 995.0L1543.4 991.7L1544.5 988.3L1547.8 986.8L1544.4 987.7L1542.3 990.6L1539.1 989.0L1542.6 988.2L1545.5 986.0L1544.3 989.4L1544.9 993.0L1542.2 995.3L1545.4 997.0L1548.3 999.1L1548.7 1002.7L1550.3 1005.9L1552.8 1003.3L1555.8 1001.4L1552.6 1002.9L1550.5 1005.8L1550.3 1002.2L1553.6 1003.5" fill="none" stroke="#9a5c9c" stroke-width="0.9" stroke-opacity="0.85" stroke-linejoin="round"/>
<circle cx="1437.3" cy="1031.1" r="22.3" fill="#f5af93" stroke="#b46c52" stroke-width="3.3"/>
<path d="M1436.1 1027.0L1438.0 1024.2L1441.2 1023.0L1438.2 1024.6L1435.8 1027.0L1433.5 1029.5L1432.2 1032.7L1430.5 1035.6L1433.8 1036.4L1436.8 1038.0L1440.2 1037.9L1443.5 1038.8L1442.8 1042.1L1439.4 1042.1L1436.3 1043.7L1434.8 1040.6L1438.2 1040.8L1440.9 1042.9L1438.5 1040.5L1438.2 1037.1L1440.0 1034.2L1442.5 1031.9L1443.2 1028.6L1440.1 1027.3L1436.9 1028.5L1436.1 1031.8L1432.9 1032.9L1429.5 1032.8L1432.7 1034.1L1431.3 1037.2L1432.8 1040.2L1431.2 1037.3L1434.5 1037.8L1433.0 1040.9L1432.5 1037.5L1429.2 1036.8L1432.5 1037.4L1434.1 1034.4L1433.4 1031.1L1434.6 1034.3L1433.1 1037.3L1429.9 1038.4L1432.7 1036.5L1434.8 1033.9L1437.0 1031.3L1436.2 1028.0L1433.0 1028.9L1435.2 1031.4L1438.6 1031.0L1440.9 1028.5L1443.4 1030.8L1446.5 1029.3L1443.0 1030.2L1443.2 1033.6L1440.1 1035.1L1437.8 1037.6L1436.2 1040.6L1435.6 1043.9L1432.7 1042.1L1435.7 1040.4L1438.5 1038.5L1440.8 1035.9L1444.1 1036.7L1440.7 1036.6L1437.9 1038.7L1434.9 1040.2L1431.6 1040.9L1435.0 1041.2L1438.0 1039.6L1441.0 1038.1L1443.8 1040.1L1441.4 1037.7L1438.4 1039.4L1435.1 1039.7L1434.6 1036.3L1431.2 1036.1L1428.5 1034.0L1431.6 1032.6L1434.9 1033.0L1433.0 1035.8L1436.3 1036.9L1438.8 1039.1L1439.8 1042.4L1440.3 1039.0L1437.1 1038.1L1433.9 1036.7L1430.8 1035.4L1434.2 1035.7L1437.0 1037.6L1435.9 1034.4L1432.6 1033.9L1429.4 1035.0L1429.4 1038.4L1432.6 1039.6L1435.0 1037.2L1435.4 1040.6L1438.0 1038.4L1434.7 1037.6L1431.8 1035.8L1434.5 1033.7L1437.6 1032.4L1440.4 1030.4L1442.4 1027.7L1445.7 1026.9L1442.5 1025.9L1441.1 1022.8L1439.9 1019.6L1440.7 1022.9L1440.1 1026.3L1440.1 1029.7L1439.4 1033.0L1436.2 1034.0L1435.5 1037.4L1433.4 1040.0L1436.4 1038.4L1439.6 1039.6L1438.4 1042.9L1435.1 1042.0L1434.9 1038.6L1434.4 1035.2L1432.5 1032.4L1430.7 1029.5L1431.5 1026.2L1434.1 1024.0L1436.2 1021.3L1437.6 1024.5L1438.6 1027.7L1438.9 1031.1L1435.7 1032.3L1433.3 1034.7L1429.9 1034.6" fill="none" stroke="#d2701c" stroke-width="1.0" stroke-opacity="0.9" stroke-linejoin="round"/>
<circle cx="1457.7" cy="1151.2" r="22.3" fill="#9f9acc" stroke="#5f5b8c" stroke-width="3.3"/>
<path d="M1453.9 1156.3L1456.6 1158.4L1459.9 1159.2L1463.2 1160.1L1462.2 1156.9L1462.5 1153.5L1465.9 1153.7L1467.4 1150.6L1469.7 1148.2L1469.6 1151.5L1468.6 1154.8L1468.2 1151.4L1468.5 1148.1L1466.9 1151.1L1463.6 1151.8L1461.3 1154.3L1458.0 1154.9L1454.8 1153.6L1452.4 1151.3L1449.9 1148.9L1446.5 1149.0L1444.0 1151.4L1449.5 1151.7L1447.7 1148.9L1449.9 1146.3L1453.3 1146.8L1456.6 1146.3L1454.4 1148.9L1451.1 1148.2L1448.1 1149.9L1445.1 1151.5L1447.8 1153.6L1450.9 1154.8L1449.9 1151.6L1448.2 1148.6L1449.7 1145.6L1447.5 1148.2L1445.2 1150.7L1444.3 1153.9L1449.7 1153.2L1452.4 1151.2L1453.3 1147.9L1451.8 1144.9L1452.2 1148.2L1449.4 1150.2L1447.6 1153.0L1445.9 1156.0L1449.1 1154.9L1452.0 1153.2L1453.0 1149.9L1454.0 1146.7L1455.5 1143.6L1454.4 1146.9L1456.5 1149.6L1456.9 1153.0L1454.0 1154.7L1456.8 1156.6L1458.4 1159.7L1461.0 1157.5L1463.5 1159.8L1463.0 1156.4L1462.7 1153.0L1459.8 1151.2L1462.4 1149.0L1465.3 1147.2L1462.6 1149.3L1462.0 1152.6L1460.4 1155.6L1462.2 1158.6L1460.6 1155.5L1461.5 1152.3L1462.0 1148.9L1463.9 1146.1L1460.8 1147.4L1460.3 1150.8L1460.2 1154.1L1458.6 1157.2L1460.9 1159.7L1464.3 1159.8L1461.0 1159.1L1457.8 1157.8" fill="none" stroke="#6a6a80" stroke-width="0.6" stroke-opacity="0.7" stroke-linejoin="round"/>
<path d="M1453.5 1146.5L1455.0 1148.7L1456.7 1150.6L1456.9 1148.0L1457.0 1145.4L1454.4 1145.5L1451.9 1146.1L1449.6 1147.2L1449.9 1149.8L1450.6 1147.3L1452.5 1145.5L1455.0 1144.7L1457.4 1145.7L1457.9 1148.2L1456.4 1150.3L1454.0 1149.3L1451.5 1150.1L1453.6 1148.6L1455.7 1147.1L1456.8 1144.7L1455.0 1146.6" fill="none" stroke="#8a8a70" stroke-width="0.5" stroke-opacity="0.6" stroke-linejoin="round"/>
<circle cx="1637.3" cy="1145.4" r="22.3" fill="#cddff5" stroke="#90a3b1" stroke-width="3.3"/>
<path d="M1637.1 1144.5L1635.4 1141.6L1638.7 1141.0L1641.6 1142.8L1643.8 1140.2L1640.6 1139.0L1637.2 1139.2L1634.6 1137.0L1636.2 1140.1L1639.6 1140.1L1637.8 1143.0L1634.7 1144.4L1633.8 1147.7L1635.1 1150.9L1637.3 1153.4L1634.7 1155.6L1636.9 1158.1L1635.5 1155.0L1632.9 1152.9L1631.0 1150.1L1632.8 1153.0L1630.0 1154.9L1632.2 1152.4L1634.5 1149.9L1636.6 1152.5L1633.3 1153.5L1630.5 1155.5L1633.1 1157.7L1636.4 1158.2L1638.4 1155.4L1639.2 1152.1L1642.6 1152.1L1640.1 1149.8L1636.8 1149.1L1633.6 1147.7L1633.5 1144.4L1636.7 1143.1L1640.1 1142.9L1642.9 1144.8L1645.1 1142.2L1641.7 1141.7L1638.4 1142.7L1635.5 1140.9L1636.0 1137.5L1633.3 1135.5L1630.8 1137.9L1633.4 1140.1L1635.0 1143.1L1633.5 1146.1L1636.5 1144.6L1636.7 1141.2L1638.4 1138.3L1640.2 1135.4L1637.1 1136.6L1634.8 1139.1L1631.4 1138.9L1629.2 1136.3L1626.9 1138.8L1629.3 1136.4L1629.9 1139.8L1630.8 1143.0L1631.5 1146.4L1633.0 1149.4L1636.4 1149.9L1639.8 1149.8L1642.9 1151.1L1644.8 1148.2L1643.9 1151.5L1640.5 1151.2L1637.3 1152.1L1635.5 1155.0L1638.8 1154.2L1641.5 1152.1L1639.7 1149.2L1637.4 1146.7L1638.9 1143.6L1641.6 1141.6L1641.1 1138.2L1641.4 1134.9L1638.3 1133.5L1641.2 1135.3L1638.3 1133.6L1636.7 1136.7L1635.9 1140.0L1634.8 1143.2L1633.7 1146.4L1633.7 1149.8L1633.9 1153.2L1632.7 1156.4L1630.2 1154.1L1630.6 1150.7L1627.6 1149.2L1631.0 1149.4L1633.9 1151.2L1635.4 1148.1L1638.3 1146.4L1640.6 1148.9L1644.0 1148.3L1643.9 1144.9L1646.1 1142.3L1643.1 1143.9" fill="none" stroke="#6a5ab0" stroke-width="0.7" stroke-opacity="0.75" stroke-linejoin="round"/>
<text x="1482.75" y="721.61" font-size="20.3">LRP2</text>
<text x="1468.38" y="867.29" font-size="20.3">HP</text>
<text x="1337.06" y="934.81" font-size="20.3">SERPINA1</text>
<text x="1567.51" y="975.33" font-size="20.3">HMOX1</text>
<text x="1460.33" y="1009.23" font-size="20.3">IL6</text>
<text x="1480.73" y="1129.63" font-size="20.3">NFKB1</text>
<text x="1659.46" y="1123.31" font-size="20.3">COL18A1</text>
</g>
<g id="panel_f">
<text x="4" y="1329" font-size="35">F</text>
<text x="337.6" y="1317.3" font-size="20.75" text-anchor="middle">GO enrichment</text>
<path d="M149.6 1516.5L159.4 1521.3L168.9 1525.7L178.1 1529.7L187.2 1533.4L195.9 1536.6L204.5 1539.5L212.7 1542.0L220.8 1544.2L228.6 1545.9L236.1 1547.3L243.4 1548.3L250.4 1548.9L257.2 1549.2L263.8 1549.1L270.1 1548.5L276.1 1547.7L281.9 1546.4L287.5 1544.7L292.8 1542.7L297.9 1540.3L302.7 1537.5L307.3 1534.4L311.6 1530.8L315.7 1526.9L319.5 1522.6L323.1 1517.9L326.4 1512.9L329.5 1507.4L332.3 1501.6L334.9 1495.4L337.3 1488.9L339.4 1481.9L341.2 1474.6L342.9 1466.9L344.2 1458.8L345.3 1450.4L346.2 1441.5L346.8 1432.3L347.2 1422.7L347.3 1412.7L374.0 1414.1L372.5 1424.1L370.8 1433.6L368.9 1442.9L366.8 1451.7L364.4 1460.3L361.8 1468.4L359.0 1476.3L355.9 1483.8L352.7 1490.9L349.2 1497.7L345.4 1504.1L341.4 1510.2L337.2 1516.0L332.8 1521.4L328.1 1526.4L323.3 1531.2L318.1 1535.5L312.8 1539.5L307.2 1543.2L301.4 1546.5L295.4 1549.5L289.1 1552.1L282.6 1554.4L275.9 1556.3L268.9 1557.9L261.7 1559.1L254.3 1560.0L246.7 1560.5L238.8 1560.7L230.7 1560.6L222.4 1560.1L213.8 1559.2L205.0 1558.0L196.0 1556.5L186.8 1554.6L177.3 1552.3L167.6 1549.8L157.6 1546.8L147.5 1543.5L137.1 1539.9Z" fill="#88cfc3" stroke="#222" stroke-width="0.7" stroke-linejoin="round"/>
<path d="M120.6 1618.4L131.8 1618.2L142.8 1617.7L153.5 1617.0L163.9 1616.0L174.1 1614.7L184.1 1613.2L193.8 1611.5L203.3 1609.5L212.5 1607.2L221.4 1604.8L230.2 1602.0L238.6 1599.0L246.8 1595.8L254.8 1592.3L262.5 1588.6L269.9 1584.6L277.2 1580.3L284.1 1575.9L290.8 1571.1L297.3 1566.1L303.5 1560.9L309.5 1555.4L315.2 1549.7L320.6 1543.7L325.8 1537.5L330.8 1531.0L335.5 1524.3L340.0 1517.3L344.2 1510.1L348.1 1502.6L351.8 1494.9L355.3 1486.9L358.5 1478.7L361.5 1470.2L364.2 1461.5L366.6 1452.5L368.8 1443.3L370.8 1433.8L372.5 1424.1L374.0 1414.1L400.2 1418.3L397.5 1428.1L394.5 1437.7L391.3 1447.0L387.9 1456.1L384.3 1465.0L380.5 1473.6L376.4 1482.1L372.2 1490.3L367.7 1498.3L363.0 1506.1L358.1 1513.6L352.9 1520.9L347.6 1528.0L342.0 1534.9L336.2 1541.6L330.3 1548.0L324.0 1554.2L317.6 1560.2L311.0 1566.0L304.1 1571.5L297.0 1576.8L289.8 1581.9L282.3 1586.8L274.5 1591.5L266.6 1595.9L258.4 1600.1L250.1 1604.1L241.5 1607.9L232.7 1611.4L223.7 1614.8L214.4 1617.9L205.0 1620.7L195.3 1623.4L185.5 1625.8L175.4 1628.0L165.0 1630.0L154.5 1631.8L143.8 1633.3L132.8 1634.6L121.6 1635.7Z" fill="#88cfc3" stroke="#222" stroke-width="0.7" stroke-linejoin="round"/>
<path d="M152.3 1719.7L162.0 1714.5L171.5 1709.1L180.8 1703.7L189.9 1698.1L198.8 1692.3L207.6 1686.5L216.2 1680.6L224.6 1674.5L232.9 1668.3L240.9 1662.0L248.8 1655.6L256.5 1649.0L264.1 1642.4L271.4 1635.6L278.6 1628.7L285.6 1621.7L292.4 1614.6L299.0 1607.4L305.5 1600.0L311.8 1592.5L317.9 1584.9L323.8 1577.2L329.6 1569.4L335.2 1561.4L340.6 1553.4L345.8 1545.2L350.8 1536.9L355.7 1528.5L360.4 1520.0L364.9 1511.3L369.2 1502.5L373.4 1493.7L377.4 1484.6L381.2 1475.5L384.8 1466.3L388.2 1456.9L391.5 1447.5L394.6 1437.9L397.5 1428.2L400.2 1418.3L425.8 1425.3L421.8 1434.8L417.7 1444.2L413.4 1453.5L409.1 1462.7L404.5 1471.9L399.9 1480.9L395.1 1489.9L390.2 1498.8L385.2 1507.6L380.1 1516.3L374.8 1524.9L369.4 1533.4L363.8 1541.9L358.1 1550.3L352.3 1558.5L346.4 1566.7L340.4 1574.8L334.2 1582.8L327.8 1590.7L321.4 1598.6L314.8 1606.3L308.1 1614.0L301.3 1621.6L294.3 1629.1L287.2 1636.5L280.0 1643.8L272.6 1651.0L265.1 1658.2L257.5 1665.2L249.8 1672.2L241.9 1679.1L233.9 1685.8L225.7 1692.6L217.5 1699.2L209.1 1705.7L200.6 1712.1L191.9 1718.5L183.1 1724.8L174.2 1731.0L165.2 1737.1Z" fill="#88cfc3" stroke="#222" stroke-width="0.7" stroke-linejoin="round"/>
<path d="M236.3 1793.2L241.8 1784.4L247.3 1775.5L252.8 1766.6L258.2 1757.7L263.5 1748.7L268.9 1739.8L274.2 1730.8L279.4 1721.8L284.6 1712.8L289.8 1703.8L294.9 1694.7L300.0 1685.7L305.0 1676.6L310.0 1667.5L315.0 1658.4L319.9 1649.3L324.8 1640.2L329.6 1631.0L334.4 1621.8L339.2 1612.6L343.9 1603.4L348.6 1594.2L353.2 1585.0L357.8 1575.7L362.3 1566.4L366.9 1557.1L371.3 1547.8L375.8 1538.5L380.2 1529.2L384.5 1519.8L388.8 1510.4L393.1 1501.0L397.3 1491.6L401.5 1482.2L405.7 1472.8L409.8 1463.3L413.8 1453.8L417.9 1444.3L421.8 1434.8L425.8 1425.3L450.2 1434.9L445.1 1443.9L440.0 1453.0L434.9 1462.1L429.8 1471.2L424.7 1480.3L419.7 1489.3L414.6 1498.4L409.6 1507.5L404.6 1516.7L399.6 1525.8L394.6 1534.9L389.6 1544.0L384.7 1553.2L379.7 1562.3L374.8 1571.5L369.9 1580.6L365.0 1589.8L360.2 1599.0L355.3 1608.2L350.5 1617.3L345.7 1626.5L340.9 1635.7L336.1 1644.9L331.3 1654.2L326.5 1663.4L321.8 1672.6L317.1 1681.8L312.4 1691.1L307.7 1700.3L303.0 1709.6L298.3 1718.8L293.7 1728.1L289.0 1737.4L284.4 1746.7L279.8 1755.9L275.2 1765.2L270.7 1774.5L266.1 1783.8L261.6 1793.2L257.1 1802.5Z" fill="#88cfc3" stroke="#222" stroke-width="0.7" stroke-linejoin="round"/>
<path d="M137.1 1539.9L147.5 1543.5L157.8 1546.9L168.0 1549.9L178.1 1552.6L188.0 1554.9L197.8 1557.0L207.4 1558.7L217.0 1560.1L226.4 1561.2L235.6 1561.9L244.8 1562.4L253.8 1562.5L262.6 1562.3L271.4 1561.8L280.0 1561.0L288.5 1559.8L296.8 1558.3L305.0 1556.5L313.1 1554.4L321.1 1552.0L328.9 1549.2L336.6 1546.1L344.2 1542.7L351.6 1539.0L358.9 1535.0L366.1 1530.6L373.1 1526.0L380.0 1521.0L386.8 1515.6L393.4 1510.0L399.9 1504.0L406.3 1497.8L412.6 1491.2L418.7 1484.2L424.7 1477.0L430.5 1469.4L436.3 1461.6L441.9 1453.4L447.3 1444.9L452.7 1436.0L475.5 1448.4L469.1 1456.6L462.5 1464.6L455.8 1472.3L449.0 1479.7L442.1 1486.9L435.0 1493.7L427.9 1500.3L420.6 1506.7L413.2 1512.7L405.7 1518.5L398.1 1524.0L390.4 1529.2L382.6 1534.2L374.6 1538.9L366.5 1543.3L358.4 1547.4L350.1 1551.3L341.7 1554.9L333.2 1558.2L324.5 1561.2L315.8 1564.0L306.9 1566.5L297.9 1568.7L288.9 1570.7L279.6 1572.3L270.3 1573.7L260.9 1574.9L251.4 1575.7L241.7 1576.3L231.9 1576.6L222.0 1576.6L212.0 1576.4L201.9 1575.9L191.7 1575.1L181.4 1574.0L170.9 1572.7L160.3 1571.1L149.7 1569.2L138.9 1567.0L128.0 1564.6Z" fill="#f7f5b3" stroke="#222" stroke-width="0.7" stroke-linejoin="round"/>
<path d="M121.6 1635.7L132.9 1634.7L144.0 1633.4L154.9 1631.9L165.8 1630.3L176.5 1628.5L187.1 1626.5L197.6 1624.3L208.0 1621.9L218.3 1619.4L228.4 1616.6L238.4 1613.7L248.3 1610.6L258.0 1607.3L267.7 1603.8L277.2 1600.1L286.6 1596.3L295.9 1592.2L305.0 1588.0L314.0 1583.6L322.9 1579.0L331.7 1574.2L340.4 1569.3L348.9 1564.1L357.4 1558.8L365.7 1553.3L373.8 1547.6L381.9 1541.7L389.8 1535.6L397.6 1529.4L405.3 1522.9L412.9 1516.3L420.3 1509.5L427.7 1502.5L434.9 1495.3L442.0 1488.0L448.9 1480.4L455.8 1472.7L462.5 1464.8L469.1 1456.7L475.5 1448.4L496.6 1463.0L489.1 1470.6L481.5 1478.0L473.8 1485.3L466.0 1492.5L458.1 1499.5L450.2 1506.3L442.1 1513.0L434.0 1519.6L425.7 1526.0L417.4 1532.3L408.9 1538.4L400.4 1544.4L391.8 1550.2L383.1 1555.9L374.3 1561.4L365.4 1566.8L356.4 1572.1L347.3 1577.2L338.2 1582.2L328.9 1587.0L319.5 1591.7L310.1 1596.2L300.6 1600.6L290.9 1604.8L281.2 1608.9L271.4 1612.9L261.5 1616.7L251.5 1620.3L241.4 1623.8L231.2 1627.2L220.9 1630.4L210.6 1633.5L200.1 1636.4L189.6 1639.2L178.9 1641.9L168.2 1644.4L157.4 1646.7L146.5 1648.9L135.4 1651.0L124.3 1652.9Z" fill="#f7f5b3" stroke="#222" stroke-width="0.7" stroke-linejoin="round"/>
<path d="M165.2 1737.1L174.2 1731.0L183.3 1724.9L192.3 1718.7L201.3 1712.5L210.2 1706.3L219.1 1700.0L227.9 1693.7L236.7 1687.4L245.5 1681.0L254.2 1674.5L262.9 1668.1L271.5 1661.6L280.1 1655.0L288.6 1648.4L297.2 1641.8L305.6 1635.1L314.1 1628.4L322.4 1621.6L330.8 1614.9L339.1 1608.0L347.4 1601.2L355.6 1594.2L363.8 1587.3L371.9 1580.3L380.0 1573.3L388.1 1566.2L396.1 1559.1L404.1 1551.9L412.0 1544.8L419.9 1537.5L427.8 1530.3L435.6 1522.9L443.4 1515.6L451.1 1508.2L458.8 1500.8L466.4 1493.3L474.0 1485.8L481.6 1478.3L489.1 1470.7L496.6 1463.0L515.6 1479.8L507.2 1486.6L498.8 1493.5L490.4 1500.3L482.0 1507.1L473.6 1513.9L465.2 1520.7L456.8 1527.5L448.3 1534.3L439.9 1541.2L431.5 1548.0L423.1 1554.8L414.7 1561.6L406.3 1568.4L397.9 1575.3L389.5 1582.1L381.1 1588.9L372.7 1595.7L364.3 1602.6L355.9 1609.4L347.5 1616.2L339.1 1623.1L330.8 1629.9L322.4 1636.7L314.0 1643.6L305.6 1650.4L297.2 1657.2L288.8 1664.1L280.4 1670.9L272.0 1677.8L263.7 1684.6L255.3 1691.5L246.9 1698.3L238.5 1705.1L230.1 1712.0L221.8 1718.8L213.4 1725.7L205.0 1732.5L196.6 1739.4L188.3 1746.2L179.9 1753.1Z" fill="#f7f5b3" stroke="#222" stroke-width="0.7" stroke-linejoin="round"/>
<path d="M257.1 1802.5L261.6 1793.2L266.3 1784.0L271.0 1774.8L275.9 1765.7L280.9 1756.6L285.9 1747.7L291.0 1738.8L296.3 1729.9L301.6 1721.1L307.1 1712.4L312.6 1703.7L318.2 1695.1L324.0 1686.6L329.8 1678.1L335.7 1669.7L341.8 1661.3L347.9 1653.1L354.1 1644.8L360.4 1636.7L366.8 1628.6L373.3 1620.5L380.0 1612.6L386.7 1604.7L393.5 1596.8L400.4 1589.0L407.4 1581.3L414.5 1573.7L421.7 1566.1L429.0 1558.5L436.4 1551.1L443.8 1543.7L451.4 1536.3L459.1 1529.0L466.9 1521.8L474.8 1514.7L482.8 1507.6L490.8 1500.5L499.0 1493.6L507.3 1486.7L515.6 1479.8L532.3 1498.5L523.2 1504.5L514.1 1510.5L505.2 1516.6L496.5 1522.8L487.9 1529.1L479.4 1535.5L471.1 1542.0L463.0 1548.6L455.0 1555.3L447.1 1562.0L439.4 1568.9L431.8 1575.9L424.4 1582.9L417.1 1590.1L409.9 1597.4L403.0 1604.7L396.1 1612.2L389.4 1619.7L382.8 1627.3L376.4 1635.1L370.2 1642.9L364.0 1650.8L358.1 1658.8L352.2 1667.0L346.6 1675.2L341.0 1683.5L335.6 1691.9L330.4 1700.4L325.3 1709.0L320.3 1717.7L315.5 1726.4L310.9 1735.3L306.3 1744.3L302.0 1753.4L297.7 1762.5L293.7 1771.8L289.7 1781.1L285.9 1790.6L282.3 1800.1L278.8 1809.8Z" fill="#f7f5b3" stroke="#222" stroke-width="0.7" stroke-linejoin="round"/>
<path d="M128.0 1564.6L138.9 1567.0L149.8 1569.3L160.7 1571.3L171.5 1573.2L182.3 1574.8L193.0 1576.2L203.7 1577.5L214.4 1578.5L225.0 1579.3L235.6 1579.9L246.1 1580.2L256.6 1580.4L267.1 1580.4L277.5 1580.1L287.9 1579.7L298.2 1579.0L308.5 1578.1L318.7 1577.1L328.9 1575.8L339.1 1574.3L349.2 1572.6L359.3 1570.7L369.4 1568.5L379.4 1566.2L389.3 1563.7L399.3 1560.9L409.1 1558.0L419.0 1554.8L428.8 1551.4L438.5 1547.8L448.3 1544.0L457.9 1540.0L467.6 1535.8L477.2 1531.4L486.7 1526.8L496.2 1522.0L505.7 1516.9L515.2 1511.7L524.5 1506.2L533.9 1500.5L547.7 1521.0L537.7 1525.7L527.6 1530.2L517.5 1534.6L507.4 1538.8L497.2 1542.9L487.1 1546.8L476.8 1550.5L466.6 1554.2L456.3 1557.6L446.0 1560.9L435.7 1564.1L425.3 1567.1L414.9 1570.0L404.4 1572.7L394.0 1575.2L383.5 1577.6L373.0 1579.9L362.4 1582.0L351.8 1584.0L341.2 1585.8L330.5 1587.4L319.9 1588.9L309.2 1590.3L298.4 1591.5L287.6 1592.5L276.8 1593.4L266.0 1594.2L255.2 1594.7L244.3 1595.2L233.3 1595.5L222.4 1595.6L211.4 1595.6L200.4 1595.4L189.3 1595.1L178.3 1594.7L167.2 1594.0L156.0 1593.3L144.9 1592.4L133.7 1591.3L122.4 1590.1Z" fill="#bdb9d9" stroke="#222" stroke-width="0.7" stroke-linejoin="round"/>
<path d="M124.3 1652.9L135.5 1651.0L146.6 1649.1L157.7 1647.0L168.7 1644.9L179.7 1642.8L190.7 1640.5L201.7 1638.2L212.6 1635.8L223.5 1633.4L234.4 1630.8L245.3 1628.2L256.1 1625.5L266.9 1622.8L277.7 1620.0L288.4 1617.1L299.1 1614.1L309.8 1611.0L320.4 1607.9L331.1 1604.7L341.7 1601.5L352.2 1598.1L362.8 1594.7L373.3 1591.3L383.8 1587.7L394.2 1584.1L404.7 1580.4L415.1 1576.6L425.4 1572.8L435.8 1568.9L446.1 1564.9L456.4 1560.8L466.7 1556.7L476.9 1552.5L487.1 1548.2L497.3 1543.8L507.4 1539.4L517.5 1534.9L527.6 1530.4L537.7 1525.7L547.7 1521.0L558.8 1542.8L548.2 1546.4L537.6 1550.1L527.0 1553.7L516.4 1557.2L505.8 1560.8L495.2 1564.3L484.6 1567.8L473.9 1571.3L463.3 1574.7L452.6 1578.2L441.9 1581.6L431.3 1585.0L420.6 1588.3L409.9 1591.7L399.2 1595.0L388.5 1598.2L377.7 1601.5L367.0 1604.7L356.3 1608.0L345.5 1611.1L334.8 1614.3L324.0 1617.4L313.2 1620.6L302.4 1623.6L291.6 1626.7L280.8 1629.8L270.0 1632.8L259.2 1635.8L248.4 1638.7L237.5 1641.7L226.7 1644.6L215.8 1647.5L205.0 1650.4L194.1 1653.2L183.2 1656.0L172.3 1658.8L161.4 1661.6L150.5 1664.4L139.6 1667.1L128.7 1669.8Z" fill="#bdb9d9" stroke="#222" stroke-width="0.7" stroke-linejoin="round"/>
<path d="M179.9 1753.1L188.3 1746.3L196.8 1739.5L205.3 1732.9L213.8 1726.3L222.4 1719.8L231.1 1713.4L239.8 1707.1L248.6 1700.8L257.5 1694.6L266.4 1688.5L275.3 1682.5L284.3 1676.6L293.4 1670.7L302.5 1665.0L311.7 1659.3L320.9 1653.6L330.2 1648.1L339.5 1642.6L348.9 1637.3L358.3 1632.0L367.8 1626.8L377.4 1621.6L387.0 1616.6L396.7 1611.6L406.4 1606.7L416.2 1601.9L426.0 1597.1L435.9 1592.5L445.8 1587.9L455.8 1583.4L465.9 1579.0L476.0 1574.6L486.1 1570.4L496.3 1566.2L506.6 1562.1L516.9 1558.1L527.3 1554.1L537.8 1550.3L548.3 1546.5L558.8 1542.8L566.9 1565.6L556.0 1568.2L545.1 1570.9L534.4 1573.7L523.7 1576.7L513.1 1579.8L502.6 1583.0L492.2 1586.3L481.8 1589.8L471.6 1593.4L461.4 1597.1L451.3 1601.0L441.3 1604.9L431.4 1609.1L421.6 1613.3L411.9 1617.6L402.2 1622.1L392.7 1626.7L383.2 1631.5L373.8 1636.3L364.5 1641.3L355.3 1646.4L346.1 1651.7L337.1 1657.1L328.1 1662.5L319.2 1668.2L310.5 1673.9L301.7 1679.8L293.1 1685.8L284.6 1691.9L276.1 1698.2L267.8 1704.6L259.5 1711.1L251.3 1717.7L243.2 1724.5L235.2 1731.4L227.3 1738.4L219.4 1745.5L211.7 1752.8L204.0 1760.2L196.4 1767.7Z" fill="#bdb9d9" stroke="#222" stroke-width="0.7" stroke-linejoin="round"/>
<path d="M278.8 1809.8L282.3 1800.2L286.0 1790.8L289.9 1781.5L294.0 1772.5L298.3 1763.6L302.7 1754.9L307.4 1746.3L312.2 1738.0L317.3 1729.8L322.5 1721.8L327.9 1714.0L333.5 1706.4L339.3 1699.0L345.3 1691.7L351.4 1684.6L357.8 1677.7L364.3 1671.0L371.1 1664.4L378.0 1658.0L385.1 1651.8L392.4 1645.8L399.9 1640.0L407.5 1634.3L415.4 1628.9L423.5 1623.6L431.7 1618.4L440.1 1613.5L448.8 1608.7L457.6 1604.2L466.6 1599.7L475.8 1595.5L485.1 1591.5L494.7 1587.6L504.4 1583.9L514.4 1580.4L524.5 1577.1L534.8 1573.9L545.4 1571.0L556.1 1568.2L566.9 1565.6L572.0 1589.1L560.9 1590.5L550.0 1592.2L539.3 1594.1L528.9 1596.2L518.6 1598.5L508.6 1601.0L498.8 1603.8L489.3 1606.7L479.9 1609.9L470.8 1613.3L461.9 1616.9L453.3 1620.7L444.8 1624.8L436.6 1629.0L428.6 1633.5L420.8 1638.2L413.3 1643.0L406.0 1648.2L398.8 1653.5L392.0 1659.0L385.3 1664.8L378.9 1670.8L372.7 1676.9L366.7 1683.3L360.9 1690.0L355.4 1696.8L350.0 1703.8L344.9 1711.1L340.1 1718.6L335.4 1726.3L331.0 1734.2L326.8 1742.3L322.8 1750.6L319.1 1759.2L315.5 1768.0L312.2 1776.9L309.1 1786.1L306.3 1795.6L303.6 1805.2L301.2 1815.0Z" fill="#bdb9d9" stroke="#222" stroke-width="0.7" stroke-linejoin="round"/>
<path d="M344.6 1412.7L344.9 1422.8L345.4 1432.5L346.2 1441.9L347.3 1451.1L348.7 1460.0L350.4 1468.6L352.3 1476.9L354.6 1484.9L357.1 1492.7L359.8 1500.1L362.9 1507.3L366.2 1514.2L369.8 1520.8L373.7 1527.1L377.9 1533.2L382.3 1538.9L387.1 1544.4L392.1 1549.6L397.3 1554.4L402.9 1559.1L408.7 1563.4L414.8 1567.4L421.2 1571.2L427.9 1574.7L434.8 1577.8L442.1 1580.7L449.6 1583.4L457.3 1585.7L465.4 1587.7L473.7 1589.5L482.3 1591.0L491.2 1592.2L500.4 1593.1L509.9 1593.7L519.6 1594.1L529.6 1594.1L539.9 1593.9L550.4 1593.4L561.3 1592.6L572.4 1591.5L574.0 1615.2L562.8 1615.1L551.8 1614.8L541.1 1614.2L530.6 1613.3L520.4 1612.2L510.4 1610.9L500.6 1609.3L491.1 1607.4L481.9 1605.3L472.9 1603.0L464.1 1600.4L455.6 1597.5L447.3 1594.4L439.2 1591.0L431.4 1587.4L423.9 1583.5L416.6 1579.4L409.5 1575.0L402.7 1570.4L396.1 1565.5L389.7 1560.3L383.6 1554.9L377.8 1549.3L372.2 1543.4L366.8 1537.3L361.7 1530.9L356.8 1524.2L352.2 1517.3L347.8 1510.1L343.7 1502.7L339.8 1495.1L336.1 1487.1L332.7 1479.0L329.6 1470.6L326.6 1461.9L324.0 1452.9L321.5 1443.8L319.3 1434.3L317.4 1424.7L315.7 1414.7Z" fill="#f17f71" stroke="#222" stroke-width="0.7" stroke-linejoin="round"/>
<path d="M128.7 1669.8L139.6 1667.1L150.5 1664.5L161.5 1662.0L172.5 1659.6L183.4 1657.2L194.4 1654.8L205.4 1652.6L216.4 1650.4L227.5 1648.3L238.5 1646.2L249.5 1644.2L260.6 1642.3L271.6 1640.4L282.7 1638.6L293.8 1636.9L304.9 1635.2L316.0 1633.6L327.1 1632.1L338.2 1630.6L349.3 1629.2L360.5 1627.9L371.6 1626.6L382.8 1625.4L393.9 1624.3L405.1 1623.2L416.3 1622.2L427.5 1621.3L438.7 1620.4L449.9 1619.6L461.2 1618.9L472.4 1618.2L483.7 1617.6L494.9 1617.1L506.2 1616.6L517.5 1616.2L528.8 1615.9L540.1 1615.6L551.4 1615.4L562.7 1615.3L574.0 1615.2L572.6 1638.9L561.3 1637.8L550.1 1636.8L538.9 1636.0L527.7 1635.2L516.5 1634.6L505.3 1634.1L494.1 1633.7L483.0 1633.5L471.8 1633.3L460.7 1633.3L449.6 1633.3L438.5 1633.5L427.5 1633.9L416.4 1634.3L405.4 1634.8L394.4 1635.5L383.4 1636.3L372.4 1637.2L361.4 1638.2L350.4 1639.3L339.5 1640.5L328.6 1641.9L317.7 1643.4L306.8 1645.0L295.9 1646.7L285.0 1648.5L274.2 1650.4L263.3 1652.5L252.5 1654.7L241.7 1657.0L230.9 1659.4L220.2 1661.9L209.4 1664.5L198.7 1667.3L187.9 1670.2L177.2 1673.2L166.5 1676.3L155.9 1679.5L145.2 1682.8L134.6 1686.3Z" fill="#f17f71" stroke="#222" stroke-width="0.7" stroke-linejoin="round"/>
<path d="M301.2 1815.0L303.6 1805.2L306.3 1795.7L309.1 1786.4L312.2 1777.4L315.5 1768.7L319.1 1760.3L322.8 1752.2L326.8 1744.3L331.0 1736.7L335.5 1729.4L340.1 1722.3L345.0 1715.6L350.1 1709.1L355.4 1702.9L361.0 1697.0L366.8 1691.3L372.8 1685.9L379.0 1680.8L385.4 1676.0L392.1 1671.5L399.0 1667.2L406.1 1663.2L413.5 1659.5L421.0 1656.1L428.8 1652.9L436.8 1650.1L445.1 1647.5L453.5 1645.1L462.2 1643.1L471.1 1641.3L480.3 1639.8L489.6 1638.6L499.2 1637.7L509.0 1637.0L519.1 1636.6L529.3 1636.5L539.8 1636.7L550.5 1637.2L561.4 1637.9L572.6 1638.9L568.1 1662.3L557.2 1660.1L546.5 1658.3L536.1 1656.7L525.9 1655.5L516.0 1654.6L506.3 1654.0L496.9 1653.7L487.7 1653.7L478.7 1654.0L470.0 1654.7L461.6 1655.6L453.4 1656.9L445.4 1658.4L437.7 1660.3L430.3 1662.5L423.1 1665.0L416.1 1667.8L409.4 1670.9L402.9 1674.4L396.7 1678.1L390.7 1682.2L385.0 1686.5L379.5 1691.2L374.3 1696.2L369.3 1701.5L364.6 1707.1L360.1 1713.0L355.8 1719.2L351.8 1725.8L348.1 1732.6L344.6 1739.8L341.3 1747.3L338.3 1755.0L335.5 1763.1L333.0 1771.5L330.7 1780.3L328.7 1789.3L327.0 1798.6L325.4 1808.3L324.1 1818.2Z" fill="#f17f71" stroke="#222" stroke-width="0.7" stroke-linejoin="round"/>
<path d="M315.7 1414.7L317.4 1424.7L319.3 1434.5L321.5 1444.0L323.9 1453.4L326.5 1462.6L329.4 1471.7L332.5 1480.5L335.9 1489.1L339.5 1497.6L343.3 1505.8L347.3 1513.9L351.6 1521.7L356.1 1529.4L360.9 1536.9L365.9 1544.2L371.1 1551.3L376.6 1558.2L382.3 1565.0L388.3 1571.5L394.4 1577.8L400.8 1584.0L407.5 1590.0L414.4 1595.7L421.5 1601.3L428.8 1606.7L436.4 1611.9L444.3 1616.9L452.3 1621.7L460.6 1626.3L469.2 1630.8L477.9 1635.0L486.9 1639.1L496.2 1642.9L505.6 1646.6L515.3 1650.1L525.3 1653.4L535.5 1656.5L545.9 1659.4L556.5 1662.1L567.4 1664.6L559.6 1687.3L549.1 1683.7L538.8 1679.9L528.6 1675.9L518.7 1671.8L508.9 1667.5L499.3 1663.1L490.0 1658.5L480.8 1653.8L471.8 1648.9L463.0 1643.9L454.4 1638.7L445.9 1633.3L437.7 1627.8L429.7 1622.1L421.8 1616.3L414.1 1610.3L406.7 1604.2L399.4 1597.9L392.3 1591.4L385.4 1584.8L378.7 1578.1L372.1 1571.1L365.8 1564.1L359.7 1556.8L353.7 1549.5L348.0 1541.9L342.4 1534.2L337.0 1526.4L331.8 1518.4L326.8 1510.2L322.0 1501.9L317.4 1493.4L313.0 1484.8L308.7 1476.0L304.7 1467.0L300.8 1457.9L297.2 1448.7L293.7 1439.3L290.4 1429.7L287.3 1420.0Z" fill="#7eadd0" stroke="#222" stroke-width="0.7" stroke-linejoin="round"/>
<path d="M134.6 1686.3L145.2 1682.9L155.8 1679.6L166.5 1676.5L177.1 1673.6L187.7 1670.9L198.4 1668.4L209.0 1666.0L219.6 1663.8L230.3 1661.8L240.9 1660.0L251.5 1658.3L262.2 1656.9L272.8 1655.6L283.4 1654.4L294.1 1653.5L304.7 1652.7L315.3 1652.1L325.9 1651.7L336.6 1651.5L347.2 1651.4L357.8 1651.5L368.4 1651.8L379.1 1652.3L389.7 1652.9L400.3 1653.7L410.9 1654.7L421.6 1655.9L432.2 1657.3L442.8 1658.8L453.4 1660.5L464.1 1662.4L474.7 1664.5L485.3 1666.7L495.9 1669.1L506.5 1671.7L517.1 1674.5L527.8 1677.4L538.4 1680.5L549.0 1683.8L559.6 1687.3L548.9 1709.0L538.8 1704.5L528.7 1700.2L518.6 1696.1L508.5 1692.2L498.4 1688.6L488.3 1685.2L478.2 1682.0L468.1 1679.0L458.0 1676.2L447.9 1673.7L437.7 1671.4L427.6 1669.3L417.5 1667.5L407.3 1665.9L397.2 1664.5L387.0 1663.3L376.9 1662.3L366.7 1661.6L356.5 1661.1L346.4 1660.8L336.2 1660.8L326.0 1660.9L315.8 1661.3L305.6 1661.9L295.5 1662.8L285.3 1663.8L275.1 1665.1L264.9 1666.6L254.6 1668.4L244.4 1670.3L234.2 1672.5L224.0 1674.9L213.7 1677.6L203.5 1680.4L193.3 1683.5L183.0 1686.8L172.8 1690.3L162.5 1694.1L152.3 1698.1L142.0 1702.3Z" fill="#7eadd0" stroke="#222" stroke-width="0.7" stroke-linejoin="round"/>
<path d="M324.1 1818.2L325.4 1808.3L326.9 1798.7L328.6 1789.5L330.6 1780.7L332.7 1772.3L335.1 1764.2L337.7 1756.5L340.5 1749.1L343.6 1742.2L346.9 1735.6L350.4 1729.3L354.1 1723.5L358.0 1718.0L362.2 1712.8L366.6 1708.1L371.2 1703.7L376.1 1699.7L381.1 1696.0L386.4 1692.7L391.9 1689.8L397.6 1687.3L403.6 1685.1L409.8 1683.3L416.2 1681.8L422.8 1680.8L429.6 1680.1L436.7 1679.7L444.0 1679.8L451.5 1680.2L459.2 1681.0L467.2 1682.1L475.4 1683.6L483.8 1685.5L492.4 1687.8L501.3 1690.4L510.4 1693.4L519.7 1696.7L529.2 1700.5L538.9 1704.6L548.9 1709.0L535.4 1729.5L526.1 1724.0L517.1 1718.9L508.3 1714.2L499.7 1709.9L491.3 1706.0L483.2 1702.5L475.3 1699.4L467.7 1696.7L460.3 1694.4L453.1 1692.5L446.2 1691.0L439.5 1689.9L433.0 1689.2L426.8 1688.8L420.8 1688.9L415.0 1689.4L409.5 1690.2L404.2 1691.5L399.2 1693.1L394.3 1695.2L389.7 1697.6L385.4 1700.5L381.3 1703.7L377.4 1707.3L373.8 1711.4L370.3 1715.8L367.2 1720.6L364.2 1725.8L361.5 1731.4L359.1 1737.4L356.8 1743.8L354.8 1750.6L353.1 1757.8L351.5 1765.4L350.2 1773.4L349.2 1781.8L348.4 1790.6L347.8 1799.7L347.4 1809.3L347.3 1819.3Z" fill="#7eadd0" stroke="#222" stroke-width="0.7" stroke-linejoin="round"/>
<path d="M287.3 1420.0L290.4 1429.7L293.6 1439.4L297.0 1448.9L300.6 1458.4L304.3 1467.7L308.2 1477.0L312.2 1486.1L316.4 1495.2L320.7 1504.1L325.2 1513.0L329.9 1521.7L334.7 1530.3L339.7 1538.9L344.8 1547.3L350.1 1555.7L355.6 1563.9L361.2 1572.0L366.9 1580.1L372.9 1588.0L378.9 1595.9L385.2 1603.6L391.6 1611.2L398.2 1618.8L404.9 1626.2L411.8 1633.5L418.8 1640.8L426.0 1647.9L433.3 1654.9L440.8 1661.9L448.5 1668.7L456.3 1675.4L464.3 1682.1L472.5 1688.6L480.8 1695.0L489.2 1701.3L497.8 1707.6L506.6 1713.7L515.6 1719.7L524.6 1725.6L533.9 1731.5L517.5 1750.3L509.0 1743.6L500.6 1736.8L492.4 1729.9L484.3 1722.9L476.2 1715.9L468.3 1708.8L460.4 1701.7L452.7 1694.5L445.1 1687.2L437.6 1679.8L430.1 1672.4L422.8 1664.9L415.6 1657.4L408.5 1649.8L401.5 1642.1L394.6 1634.4L387.8 1626.5L381.1 1618.7L374.5 1610.7L368.0 1602.7L361.6 1594.6L355.3 1586.5L349.1 1578.3L343.1 1570.0L337.1 1561.6L331.2 1553.2L325.5 1544.7L319.8 1536.2L314.2 1527.6L308.8 1518.9L303.4 1510.1L298.2 1501.3L293.0 1492.5L288.0 1483.5L283.0 1474.5L278.2 1465.4L273.5 1456.3L268.9 1447.1L264.3 1437.8L259.9 1428.4Z" fill="#f5b163" stroke="#222" stroke-width="0.7" stroke-linejoin="round"/>
<path d="M231.6 1441.2L237.4 1449.9L243.3 1458.6L249.3 1467.2L255.3 1475.7L261.4 1484.3L267.5 1492.7L273.8 1501.1L280.1 1509.5L286.4 1517.8L292.8 1526.1L299.3 1534.3L305.9 1542.4L312.6 1550.5L319.3 1558.6L326.0 1566.6L332.9 1574.6L339.8 1582.5L346.8 1590.3L353.8 1598.1L360.9 1605.9L368.1 1613.6L375.3 1621.2L382.7 1628.8L390.0 1636.4L397.5 1643.9L405.0 1651.3L412.6 1658.7L420.3 1666.1L428.0 1673.4L435.8 1680.6L443.6 1687.8L451.6 1695.0L459.6 1702.1L467.6 1709.1L475.8 1716.1L484.0 1723.1L492.2 1730.0L500.6 1736.8L509.0 1743.6L517.5 1750.3L498.7 1767.3L491.1 1759.8L483.5 1752.2L475.9 1744.7L468.3 1737.2L460.7 1729.6L453.0 1722.1L445.4 1714.6L437.7 1707.1L430.0 1699.7L422.4 1692.2L414.7 1684.7L407.0 1677.3L399.2 1669.9L391.5 1662.4L383.7 1655.0L376.0 1647.6L368.2 1640.2L360.4 1632.8L352.6 1625.5L344.8 1618.1L337.0 1610.8L329.2 1603.4L321.3 1596.1L313.5 1588.8L305.6 1581.5L297.7 1574.2L289.8 1566.9L281.9 1559.6L274.0 1552.3L266.0 1545.1L258.1 1537.8L250.1 1530.6L242.2 1523.4L234.2 1516.2L226.2 1509.0L218.2 1501.8L210.2 1494.6L202.1 1487.4L194.1 1480.3L186.0 1473.1Z" fill="#f5b163" stroke="#222" stroke-width="0.7" stroke-linejoin="round"/>
<path d="M122.4 1590.1L133.6 1591.4L144.7 1593.0L155.7 1594.7L166.7 1596.5L177.5 1598.5L188.2 1600.7L198.9 1603.0L209.4 1605.5L219.9 1608.1L230.3 1610.9L240.5 1613.8L250.7 1616.9L260.8 1620.2L270.8 1623.6L280.7 1627.2L290.6 1630.9L300.3 1634.8L309.9 1638.8L319.5 1643.0L328.9 1647.4L338.3 1651.9L347.6 1656.5L356.7 1661.4L365.8 1666.3L374.8 1671.5L383.7 1676.8L392.5 1682.2L401.2 1687.8L409.9 1693.6L418.4 1699.5L426.8 1705.6L435.2 1711.8L443.4 1718.2L451.6 1724.8L459.7 1731.5L467.7 1738.3L475.5 1745.3L483.3 1752.5L491.0 1759.9L498.7 1767.3L477.8 1782.2L471.2 1774.0L464.5 1766.0L457.7 1758.2L450.7 1750.7L443.6 1743.3L436.5 1736.1L429.2 1729.1L421.7 1722.4L414.2 1715.9L406.5 1709.5L398.7 1703.4L390.8 1697.5L382.8 1691.7L374.6 1686.2L366.4 1680.9L358.0 1675.8L349.5 1671.0L340.9 1666.3L332.1 1661.8L323.2 1657.6L314.2 1653.5L305.1 1649.7L295.9 1646.0L286.6 1642.6L277.1 1639.4L267.5 1636.4L257.8 1633.6L247.9 1631.0L238.0 1628.6L227.9 1626.4L217.7 1624.4L207.4 1622.6L197.0 1621.1L186.4 1619.7L175.8 1618.6L165.0 1617.7L154.0 1616.9L143.0 1616.4L131.8 1616.1L120.6 1616.0Z" fill="#f5b163" stroke="#222" stroke-width="0.7" stroke-linejoin="round"/>
<path d="M196.4 1767.7L203.9 1760.3L211.4 1753.3L218.9 1746.7L226.4 1740.5L233.8 1734.8L241.2 1729.4L248.6 1724.4L255.9 1719.7L263.3 1715.5L270.6 1711.7L277.9 1708.3L285.1 1705.3L292.3 1702.7L299.5 1700.5L306.7 1698.6L313.9 1697.2L321.0 1696.2L328.1 1695.6L335.1 1695.3L342.2 1695.5L349.2 1696.1L356.2 1697.0L363.2 1698.4L370.1 1700.1L377.0 1702.3L383.9 1704.8L390.8 1707.8L397.6 1711.1L404.5 1714.9L411.3 1719.0L418.0 1723.5L424.8 1728.5L431.5 1733.8L438.2 1739.5L444.8 1745.7L451.5 1752.2L458.1 1759.1L464.7 1766.4L471.2 1774.1L477.8 1782.2L455.1 1794.8L449.7 1786.1L444.2 1777.8L438.8 1769.9L433.3 1762.5L427.7 1755.5L422.2 1748.9L416.6 1742.8L411.0 1737.0L405.3 1731.8L399.6 1726.9L393.9 1722.5L388.2 1718.5L382.4 1714.9L376.6 1711.7L370.7 1709.0L364.8 1706.7L358.9 1704.9L353.0 1703.5L347.0 1702.5L341.0 1701.9L335.0 1701.8L328.9 1702.0L322.8 1702.8L316.7 1703.9L310.6 1705.5L304.4 1707.5L298.2 1709.9L291.9 1712.8L285.6 1716.1L279.3 1719.8L273.0 1724.0L266.6 1728.6L260.2 1733.6L253.8 1739.0L247.3 1744.9L240.8 1751.2L234.3 1758.0L227.7 1765.1L221.1 1772.7L214.5 1780.7Z" fill="#f5b163" stroke="#222" stroke-width="0.7" stroke-linejoin="round"/>
<path d="M259.9 1428.4L264.3 1437.8L268.7 1447.2L273.1 1456.5L277.6 1465.9L282.0 1475.2L286.5 1484.5L291.0 1493.9L295.6 1503.2L300.1 1512.5L304.7 1521.7L309.3 1531.0L314.0 1540.3L318.6 1549.6L323.3 1558.8L328.0 1568.0L332.7 1577.3L337.4 1586.5L342.2 1595.7L347.0 1604.9L351.8 1614.1L356.6 1623.3L361.5 1632.5L366.4 1641.6L371.2 1650.8L376.2 1659.9L381.1 1669.1L386.1 1678.2L391.1 1687.3L396.1 1696.4L401.1 1705.5L406.2 1714.6L411.2 1723.7L416.3 1732.8L421.5 1741.8L426.6 1750.9L431.8 1759.9L437.0 1768.9L442.2 1778.0L447.4 1787.0L452.7 1796.0L428.3 1805.8L424.3 1796.4L420.1 1786.9L416.0 1777.4L411.8 1768.0L407.6 1758.6L403.3 1749.2L399.0 1739.8L394.6 1730.5L390.2 1721.1L385.8 1711.8L381.3 1702.5L376.8 1693.2L372.2 1683.9L367.6 1674.6L363.0 1665.4L358.3 1656.2L353.6 1647.0L348.9 1637.8L344.1 1628.6L339.2 1619.5L334.3 1610.3L329.4 1601.2L324.5 1592.1L319.5 1583.0L314.4 1573.9L309.3 1564.9L304.2 1555.8L299.0 1546.8L293.8 1537.8L288.6 1528.8L283.3 1519.9L278.0 1510.9L272.6 1502.0L267.2 1493.1L261.8 1484.2L256.3 1475.3L250.8 1466.4L245.2 1457.6L239.6 1448.8L233.9 1440.0Z" fill="#aed468" stroke="#222" stroke-width="0.7" stroke-linejoin="round"/>
<path d="M186.0 1473.1L194.0 1480.3L201.9 1487.5L209.8 1494.8L217.5 1502.2L225.1 1509.6L232.6 1517.0L240.0 1524.6L247.3 1532.2L254.5 1539.8L261.6 1547.5L268.7 1555.3L275.6 1563.1L282.4 1571.0L289.1 1578.9L295.7 1586.9L302.2 1594.9L308.6 1603.1L314.9 1611.2L321.1 1619.5L327.2 1627.7L333.2 1636.1L339.2 1644.5L345.0 1653.0L350.7 1661.5L356.3 1670.1L361.8 1678.7L367.2 1687.4L372.5 1696.2L377.7 1705.0L382.8 1713.9L387.8 1722.8L392.7 1731.8L397.5 1740.8L402.2 1749.9L406.8 1759.1L411.3 1768.3L415.7 1777.6L420.0 1787.0L424.2 1796.4L428.3 1805.8L402.9 1813.1L400.0 1803.3L397.0 1793.6L393.8 1784.0L390.4 1774.6L386.8 1765.3L383.0 1756.1L379.1 1747.0L375.0 1738.1L370.7 1729.2L366.3 1720.5L361.7 1711.9L356.9 1703.4L351.9 1695.1L346.7 1686.8L341.4 1678.7L335.9 1670.7L330.2 1662.8L324.4 1655.0L318.3 1647.4L312.1 1639.9L305.7 1632.5L299.2 1625.2L292.4 1618.0L285.5 1610.9L278.4 1604.0L271.1 1597.2L263.7 1590.5L256.1 1583.9L248.3 1577.5L240.3 1571.1L232.2 1564.9L223.9 1558.8L215.4 1552.9L206.7 1547.0L197.8 1541.3L188.8 1535.6L179.6 1530.1L170.2 1524.8L160.7 1519.5L150.9 1514.4Z" fill="#aed468" stroke="#222" stroke-width="0.7" stroke-linejoin="round"/>
<path d="M142.0 1702.3L152.2 1698.1L162.2 1694.4L172.0 1690.9L181.6 1687.9L191.0 1685.1L200.2 1682.8L209.3 1680.8L218.1 1679.1L226.8 1677.8L235.3 1676.8L243.6 1676.3L251.7 1676.0L259.6 1676.1L267.4 1676.6L274.9 1677.4L282.3 1678.6L289.5 1680.1L296.5 1682.0L303.3 1684.2L309.9 1686.8L316.3 1689.8L322.5 1693.1L328.6 1696.7L334.5 1700.7L340.1 1705.1L345.6 1709.8L350.9 1714.9L356.1 1720.3L361.0 1726.1L365.7 1732.2L370.3 1738.7L374.7 1745.6L378.8 1752.8L382.8 1760.3L386.6 1768.2L390.3 1776.5L393.7 1785.1L396.9 1794.1L400.0 1803.4L402.9 1813.1L376.7 1817.6L375.1 1807.7L373.3 1798.2L371.3 1789.0L369.1 1780.3L366.7 1771.9L364.1 1763.9L361.3 1756.3L358.2 1749.1L355.0 1742.2L351.5 1735.7L347.9 1729.6L344.0 1723.9L339.9 1718.6L335.6 1713.6L331.2 1709.0L326.5 1704.8L321.5 1701.0L316.4 1697.6L311.1 1694.5L305.6 1691.8L299.8 1689.5L293.8 1687.6L287.7 1686.0L281.3 1684.8L274.7 1684.0L267.9 1683.6L260.9 1683.6L253.7 1683.9L246.3 1684.7L238.7 1685.8L230.9 1687.2L222.8 1689.1L214.6 1691.3L206.1 1694.0L197.4 1697.0L188.5 1700.3L179.5 1704.1L170.2 1708.2L160.7 1712.7L150.9 1717.6Z" fill="#aed468" stroke="#222" stroke-width="0.7" stroke-linejoin="round"/>
<path d="M214.5 1780.7L221.1 1772.7L227.5 1765.2L233.8 1758.1L240.0 1751.5L246.1 1745.3L252.0 1739.6L257.8 1734.3L263.5 1729.5L269.0 1725.1L274.4 1721.3L279.7 1717.8L284.9 1714.9L289.9 1712.3L294.8 1710.3L299.5 1708.7L304.2 1707.6L308.7 1706.9L313.1 1706.6L317.3 1706.9L321.4 1707.6L325.4 1708.7L329.3 1710.3L333.0 1712.4L336.6 1714.9L340.1 1717.9L343.4 1721.3L346.6 1725.2L349.7 1729.6L352.7 1734.4L355.5 1739.7L358.2 1745.4L360.8 1751.6L363.2 1758.2L365.5 1765.3L367.7 1772.9L369.7 1780.9L371.7 1789.4L373.5 1798.3L375.1 1807.7L376.7 1817.6L350.0 1819.3L349.8 1809.3L349.5 1799.9L349.0 1790.9L348.4 1782.4L347.6 1774.4L346.7 1766.8L345.7 1759.7L344.5 1753.1L343.2 1747.0L341.7 1741.3L340.2 1736.2L338.4 1731.4L336.6 1727.2L334.6 1723.4L332.4 1720.2L330.1 1717.3L327.7 1715.0L325.2 1713.1L322.5 1711.7L319.6 1710.8L316.7 1710.4L313.6 1710.4L310.3 1710.9L306.9 1711.9L303.4 1713.3L299.7 1715.3L295.9 1717.7L292.0 1720.6L287.9 1723.9L283.7 1727.7L279.3 1732.0L274.9 1736.8L270.2 1742.0L265.5 1747.8L260.5 1754.0L255.5 1760.6L250.3 1767.8L245.0 1775.4L239.5 1783.5L233.9 1792.0Z" fill="#aed468" stroke="#222" stroke-width="0.7" stroke-linejoin="round"/>
<path d="M347.3 1412.7L350.0 1412.7L352.6 1412.8L355.3 1412.9L358.0 1413.0L360.6 1413.1L363.3 1413.2L366.0 1413.4L368.6 1413.6L371.3 1413.9L374.0 1414.1L376.6 1414.4L379.3 1414.8L381.9 1415.1L384.5 1415.5L387.2 1415.9L389.8 1416.3L392.4 1416.8L395.0 1417.3L397.6 1417.8L400.2 1418.3L402.8 1418.9L405.4 1419.5L408.0 1420.1L410.6 1420.8L413.1 1421.5L415.7 1422.2L418.2 1422.9L420.8 1423.7L423.3 1424.5L425.8 1425.3L428.3 1426.1L430.8 1427.0L433.3 1427.9L435.7 1428.8L438.2 1429.8L440.6 1430.7L443.0 1431.7L445.5 1432.8L447.9 1433.8L450.2 1434.9L460.5 1416.8L457.9 1415.6L455.3 1414.4L452.6 1413.3L449.9 1412.2L447.3 1411.1L444.6 1410.1L441.9 1409.1L439.1 1408.1L436.4 1407.2L433.6 1406.2L430.9 1405.3L428.1 1404.5L425.3 1403.6L422.5 1402.8L419.7 1402.0L416.9 1401.3L414.1 1400.6L411.2 1399.9L408.4 1399.2L405.5 1398.6L402.7 1398.0L399.8 1397.4L396.9 1396.9L394.0 1396.4L391.2 1395.9L388.3 1395.4L385.4 1395.0L382.4 1394.6L379.5 1394.3L376.6 1394.0L373.7 1393.7L370.8 1393.4L367.8 1393.2L364.9 1393.0L362.0 1392.8L359.1 1392.6L356.1 1392.5L353.2 1392.5L350.2 1392.4L347.3 1392.4Z" fill="#ababab" stroke="#555" stroke-width="0.8"/>
<path d="M452.7 1436.0L455.0 1437.1L457.4 1438.3L459.7 1439.5L462.0 1440.7L464.3 1441.9L466.6 1443.1L468.8 1444.4L471.1 1445.7L473.3 1447.0L475.5 1448.4L477.7 1449.7L479.9 1451.1L482.1 1452.5L484.2 1454.0L486.3 1455.4L488.4 1456.9L490.5 1458.4L492.6 1459.9L494.6 1461.5L496.6 1463.0L498.6 1464.6L500.6 1466.2L502.6 1467.9L504.5 1469.5L506.4 1471.2L508.3 1472.9L510.2 1474.6L512.0 1476.3L513.8 1478.1L515.6 1479.8L517.4 1481.6L519.2 1483.4L520.9 1485.3L522.6 1487.1L524.3 1489.0L526.0 1490.8L527.6 1492.7L529.2 1494.7L530.8 1496.6L532.3 1498.5L550.8 1486.8L549.1 1484.6L547.4 1482.5L545.6 1480.4L543.8 1478.3L542.0 1476.3L540.1 1474.2L538.3 1472.2L536.4 1470.2L534.4 1468.2L532.5 1466.2L530.5 1464.3L528.5 1462.4L526.5 1460.5L524.4 1458.6L522.3 1456.7L520.2 1454.9L518.1 1453.1L515.9 1451.3L513.8 1449.5L511.6 1447.7L509.3 1446.0L507.1 1444.3L504.8 1442.6L502.5 1441.0L500.2 1439.4L497.9 1437.8L495.5 1436.2L493.2 1434.6L490.8 1433.1L488.4 1431.6L485.9 1430.1L483.5 1428.7L481.0 1427.2L478.5 1425.8L476.0 1424.5L473.5 1423.1L470.9 1421.8L468.4 1420.5L465.8 1419.3L463.2 1418.0Z" fill="#ababab" stroke="#555" stroke-width="0.8"/>
<path d="M533.9 1500.5L535.4 1502.5L536.9 1504.5L538.3 1506.5L539.8 1508.5L541.2 1510.6L542.5 1512.6L543.9 1514.7L545.2 1516.8L546.5 1518.9L547.7 1521.0L549.0 1523.1L550.2 1525.3L551.4 1527.4L552.5 1529.6L553.6 1531.7L554.7 1533.9L555.8 1536.1L556.8 1538.3L557.8 1540.6L558.8 1542.8L559.8 1545.0L560.7 1547.3L561.6 1549.5L562.4 1551.8L563.2 1554.1L564.0 1556.4L564.8 1558.7L565.6 1561.0L566.3 1563.3L566.9 1565.6L567.6 1567.9L568.2 1570.2L568.8 1572.6L569.3 1574.9L569.9 1577.3L570.4 1579.6L570.8 1582.0L571.3 1584.3L571.7 1586.7L572.0 1589.1L594.5 1586.4L594.1 1583.8L593.7 1581.2L593.2 1578.6L592.7 1576.0L592.1 1573.4L591.6 1570.8L590.9 1568.2L590.3 1565.7L589.6 1563.1L588.9 1560.5L588.2 1558.0L587.4 1555.4L586.6 1552.9L585.7 1550.4L584.8 1547.9L583.9 1545.4L583.0 1542.9L582.0 1540.4L581.0 1537.9L580.0 1535.5L578.9 1533.0L577.8 1530.6L576.6 1528.1L575.5 1525.7L574.3 1523.3L573.0 1520.9L571.8 1518.5L570.5 1516.2L569.1 1513.8L567.8 1511.5L566.4 1509.2L565.0 1506.9L563.5 1504.6L562.0 1502.3L560.5 1500.0L559.0 1497.8L557.4 1495.6L555.8 1493.4L554.2 1491.2L552.6 1489.0Z" fill="#ababab" stroke="#555" stroke-width="0.8"/>
<path d="M572.4 1591.5L572.6 1593.3L572.8 1595.0L573.0 1596.8L573.2 1598.6L573.4 1600.4L573.5 1602.1L573.6 1603.9L573.7 1605.7L573.8 1607.5L573.9 1609.3L574.0 1611.0L574.0 1612.8L574.0 1614.6L574.0 1616.4L574.0 1618.2L574.0 1619.9L573.9 1621.7L573.9 1623.5L573.8 1625.3L573.7 1627.1L573.6 1628.8L573.4 1630.6L573.3 1632.4L573.1 1634.2L572.9 1635.9L572.7 1637.7L572.5 1639.5L572.3 1641.2L572.0 1643.0L571.7 1644.8L571.5 1646.5L571.1 1648.3L570.8 1650.1L570.5 1651.8L570.1 1653.6L569.7 1655.3L569.4 1657.1L568.9 1658.8L568.5 1660.5L568.1 1662.3L590.2 1666.9L590.6 1665.0L591.1 1663.1L591.6 1661.2L592.0 1659.2L592.4 1657.3L592.8 1655.4L593.2 1653.5L593.5 1651.5L593.9 1649.6L594.2 1647.7L594.5 1645.7L594.8 1643.8L595.0 1641.8L595.3 1639.9L595.5 1637.9L595.7 1636.0L595.9 1634.0L596.1 1632.1L596.2 1630.1L596.3 1628.2L596.4 1626.2L596.5 1624.2L596.6 1622.3L596.7 1620.3L596.7 1618.4L596.7 1616.4L596.7 1614.5L596.7 1612.5L596.6 1610.5L596.6 1608.6L596.5 1606.6L596.4 1604.7L596.3 1602.7L596.1 1600.7L596.0 1598.8L595.8 1596.8L595.6 1594.9L595.4 1592.9L595.1 1591.0L594.9 1589.0Z" fill="#ababab" stroke="#555" stroke-width="0.8"/>
<path d="M567.4 1664.6L567.0 1666.4L566.5 1668.1L565.9 1669.8L565.4 1671.5L564.9 1673.2L564.3 1675.0L563.7 1676.7L563.1 1678.4L562.5 1680.0L561.8 1681.7L561.2 1683.4L560.5 1685.1L559.8 1686.8L559.1 1688.4L558.4 1690.1L557.7 1691.7L556.9 1693.4L556.2 1695.0L555.4 1696.7L554.6 1698.3L553.8 1699.9L553.0 1701.6L552.1 1703.2L551.3 1704.8L550.4 1706.4L549.5 1708.0L548.6 1709.6L547.7 1711.1L546.7 1712.7L545.8 1714.3L544.8 1715.8L543.8 1717.4L542.8 1718.9L541.8 1720.4L540.8 1722.0L539.7 1723.5L538.7 1725.0L537.6 1726.5L536.5 1728.0L535.4 1729.5L554.2 1740.8L555.4 1739.2L556.6 1737.5L557.8 1735.9L559.0 1734.2L560.1 1732.6L561.3 1730.9L562.4 1729.2L563.5 1727.5L564.6 1725.8L565.6 1724.1L566.7 1722.4L567.7 1720.6L568.7 1718.9L569.7 1717.2L570.7 1715.4L571.7 1713.7L572.6 1711.9L573.5 1710.1L574.4 1708.3L575.3 1706.5L576.2 1704.7L577.1 1702.9L577.9 1701.1L578.7 1699.3L579.5 1697.5L580.3 1695.7L581.1 1693.8L581.9 1692.0L582.6 1690.2L583.3 1688.3L584.0 1686.4L584.7 1684.6L585.3 1682.7L586.0 1680.8L586.6 1679.0L587.2 1677.1L587.8 1675.2L588.4 1673.3L588.9 1671.4L589.5 1669.5Z" fill="#ababab" stroke="#555" stroke-width="0.8"/>
<path d="M533.9 1731.5L532.4 1733.4L530.8 1735.4L529.2 1737.3L527.6 1739.2L526.0 1741.1L524.3 1743.0L522.6 1744.9L520.9 1746.7L519.2 1748.5L517.5 1750.3L515.7 1752.1L513.9 1753.9L512.1 1755.6L510.2 1757.4L508.3 1759.1L506.4 1760.8L504.5 1762.4L502.6 1764.1L500.6 1765.7L498.7 1767.3L496.7 1768.9L494.6 1770.5L492.6 1772.0L490.5 1773.6L488.5 1775.1L486.4 1776.5L484.2 1778.0L482.1 1779.4L479.9 1780.9L477.8 1782.2L475.6 1783.6L473.4 1785.0L471.1 1786.3L468.9 1787.6L466.6 1788.8L464.3 1790.1L462.0 1791.3L459.7 1792.5L457.4 1793.7L455.1 1794.8L465.8 1812.7L468.4 1811.5L471.0 1810.2L473.5 1808.8L476.1 1807.5L478.6 1806.1L481.0 1804.7L483.5 1803.3L486.0 1801.8L488.4 1800.4L490.8 1798.9L493.2 1797.3L495.6 1795.8L497.9 1794.2L500.3 1792.6L502.6 1791.0L504.9 1789.3L507.1 1787.6L509.4 1785.9L511.6 1784.2L513.8 1782.5L516.0 1780.7L518.1 1778.9L520.3 1777.1L522.4 1775.3L524.4 1773.4L526.5 1771.5L528.5 1769.6L530.5 1767.7L532.5 1765.7L534.5 1763.8L536.4 1761.8L538.3 1759.8L540.2 1757.7L542.0 1755.7L543.9 1753.6L545.6 1751.5L547.4 1749.4L549.2 1747.3L550.9 1745.2L552.6 1743.0Z" fill="#ababab" stroke="#555" stroke-width="0.8"/>
<path d="M452.7 1796.0L450.3 1797.1L447.9 1798.2L445.5 1799.2L443.1 1800.2L440.7 1801.2L438.2 1802.2L435.8 1803.2L433.3 1804.1L430.8 1805.0L428.3 1805.8L425.8 1806.7L423.3 1807.5L420.8 1808.3L418.3 1809.1L415.7 1809.8L413.2 1810.5L410.6 1811.2L408.0 1811.8L405.5 1812.5L402.9 1813.1L400.3 1813.6L397.7 1814.2L395.1 1814.7L392.5 1815.2L389.8 1815.7L387.2 1816.1L384.6 1816.5L381.9 1816.9L379.3 1817.2L376.7 1817.6L374.0 1817.9L371.3 1818.1L368.7 1818.4L366.0 1818.6L363.4 1818.8L360.7 1818.9L358.0 1819.0L355.4 1819.1L352.7 1819.2L350.0 1819.3L350.3 1839.6L353.2 1839.5L356.2 1839.5L359.1 1839.3L362.0 1839.2L365.0 1839.0L367.9 1838.8L370.8 1838.6L373.8 1838.3L376.7 1838.0L379.6 1837.7L382.5 1837.4L385.4 1837.0L388.3 1836.6L391.2 1836.1L394.1 1835.6L397.0 1835.1L399.9 1834.6L402.7 1834.0L405.6 1833.4L408.4 1832.8L411.3 1832.1L414.1 1831.4L416.9 1830.7L419.8 1830.0L422.6 1829.2L425.4 1828.4L428.1 1827.5L430.9 1826.7L433.7 1825.8L436.4 1824.8L439.2 1823.9L441.9 1822.9L444.6 1821.9L447.3 1820.8L450.0 1819.8L452.7 1818.7L455.3 1817.5L458.0 1816.4L460.6 1815.2L463.2 1814.0Z" fill="#ababab" stroke="#555" stroke-width="0.8"/>
<path d="M344.4 1402.6L341.4 1402.6L338.4 1402.7L335.3 1402.8L332.3 1403.0L329.2 1403.2L326.2 1403.4L323.2 1403.7L320.1 1404.0L317.1 1404.3L314.1 1404.6L311.1 1405.0L308.1 1405.5L305.1 1405.9L302.1 1406.4L299.1 1407.0L296.1 1407.6L293.2 1408.2L290.2 1408.8L287.2 1409.5L284.3 1410.2L281.4 1410.9L278.5 1411.7L275.5 1412.5L272.6 1413.3L269.8 1414.2L266.9 1415.1L264.0 1416.0L261.2 1417.0L258.4 1418.0L255.5 1419.1L252.7 1420.1L249.9 1421.2L247.2 1422.4L244.4 1423.5L241.7 1424.7L239.0 1425.9L236.3 1427.2L233.6 1428.5L230.9 1429.8L228.3 1431.2L222.6 1422.4L225.4 1420.9L228.2 1419.6L231.0 1418.2L233.8 1416.9L236.7 1415.6L239.5 1414.4L242.4 1413.1L245.3 1412.0L248.2 1410.8L251.2 1409.7L254.1 1408.6L257.1 1407.5L260.1 1406.5L263.1 1405.5L266.1 1404.6L269.1 1403.7L272.1 1402.8L275.2 1402.0L278.2 1401.1L281.3 1400.4L284.4 1399.6L287.5 1398.9L290.6 1398.3L293.7 1397.6L296.8 1397.0L299.9 1396.5L303.1 1395.9L306.2 1395.5L309.4 1395.0L312.5 1394.6L315.7 1394.2L318.9 1393.9L322.0 1393.6L325.2 1393.3L328.4 1393.0L331.6 1392.8L334.7 1392.7L337.9 1392.6L341.1 1392.5L344.3 1392.4Z" fill="#e8404a" stroke="#777" stroke-width="0.7"/>
<path d="M225.8 1432.5L223.2 1433.9L220.6 1435.3L218.0 1436.8L215.5 1438.3L213.0 1439.8L210.5 1441.3L208.0 1442.9L205.5 1444.5L203.1 1446.2L200.7 1447.8L198.3 1449.5L195.9 1451.3L193.6 1453.0L191.3 1454.8L189.0 1456.6L186.7 1458.4L184.5 1460.3L182.3 1462.2L180.1 1464.1L178.0 1466.0L175.8 1467.9L173.7 1469.9L171.7 1471.9L169.6 1473.9L167.6 1476.0L165.6 1478.1L163.7 1480.2L161.8 1482.3L159.9 1484.4L158.0 1486.6L156.2 1488.8L154.4 1491.0L152.6 1493.2L150.9 1495.4L149.2 1497.7L147.5 1500.0L145.8 1502.3L144.2 1504.6L142.7 1506.9L141.1 1509.3L131.3 1504.2L132.9 1501.7L134.6 1499.3L136.3 1496.9L138.0 1494.4L139.7 1492.1L141.5 1489.7L143.3 1487.3L145.2 1485.0L147.1 1482.7L149.0 1480.4L150.9 1478.2L152.9 1475.9L154.9 1473.7L157.0 1471.5L159.1 1469.3L161.2 1467.2L163.3 1465.1L165.5 1463.0L167.7 1460.9L169.9 1458.8L172.1 1456.8L174.4 1454.8L176.7 1452.9L179.1 1450.9L181.5 1449.0L183.9 1447.1L186.3 1445.3L188.7 1443.4L191.2 1441.6L193.7 1439.8L196.2 1438.1L198.8 1436.4L201.4 1434.7L203.9 1433.0L206.6 1431.4L209.2 1429.8L211.9 1428.2L214.6 1426.7L217.3 1425.2L220.0 1423.7Z" fill="#e83e46" stroke="#777" stroke-width="0.7"/>
<path d="M139.7 1511.5L138.2 1513.9L136.8 1516.3L135.4 1518.7L134.0 1521.2L132.7 1523.6L131.4 1526.1L130.1 1528.6L128.9 1531.1L127.7 1533.6L126.5 1536.1L125.4 1538.6L124.3 1541.2L123.3 1543.8L122.3 1546.3L121.3 1548.9L120.4 1551.5L119.5 1554.1L118.6 1556.7L117.8 1559.4L117.0 1562.0L116.2 1564.6L115.5 1567.3L114.8 1570.0L114.2 1572.6L113.6 1575.3L113.0 1578.0L112.5 1580.7L112.0 1583.4L111.6 1586.1L111.2 1588.8L110.8 1591.5L110.5 1594.2L110.2 1596.9L109.9 1599.6L109.7 1602.4L109.5 1605.1L109.4 1607.8L109.3 1610.5L109.3 1613.3L109.2 1616.0L97.9 1616.0L97.9 1613.1L98.0 1610.3L98.1 1607.4L98.2 1604.6L98.4 1601.7L98.6 1598.9L98.9 1596.0L99.2 1593.2L99.6 1590.3L99.9 1587.5L100.4 1584.6L100.8 1581.8L101.3 1579.0L101.9 1576.2L102.5 1573.4L103.1 1570.6L103.8 1567.8L104.5 1565.0L105.2 1562.2L106.0 1559.4L106.8 1556.7L107.7 1553.9L108.6 1551.2L109.6 1548.4L110.5 1545.7L111.6 1543.0L112.6 1540.3L113.7 1537.6L114.9 1535.0L116.0 1532.3L117.2 1529.6L118.5 1527.0L119.8 1524.4L121.1 1521.8L122.5 1519.2L123.9 1516.6L125.3 1514.1L126.8 1511.6L128.3 1509.0L129.8 1506.5Z" fill="#f6aaa6" stroke="#777" stroke-width="0.7"/>
<path d="M109.3 1618.6L109.3 1621.3L109.4 1624.0L109.5 1626.7L109.7 1629.5L109.9 1632.2L110.2 1634.9L110.5 1637.6L110.8 1640.3L111.2 1643.1L111.6 1645.8L112.0 1648.5L112.5 1651.2L113.0 1653.8L113.6 1656.5L114.2 1659.2L114.8 1661.9L115.5 1664.5L116.2 1667.2L116.9 1669.8L117.7 1672.5L118.5 1675.1L119.4 1677.7L120.3 1680.3L121.2 1682.9L122.2 1685.5L123.2 1688.1L124.3 1690.7L125.4 1693.2L126.5 1695.7L127.6 1698.3L128.8 1700.8L130.1 1703.3L131.3 1705.8L132.6 1708.2L133.9 1710.7L135.3 1713.1L136.7 1715.5L138.2 1718.0L139.6 1720.3L141.1 1722.7L131.3 1727.8L129.7 1725.3L128.2 1722.8L126.7 1720.3L125.2 1717.8L123.8 1715.2L122.4 1712.6L121.0 1710.0L119.7 1707.4L118.4 1704.8L117.2 1702.2L116.0 1699.5L114.8 1696.9L113.7 1694.2L112.6 1691.5L111.5 1688.8L110.5 1686.1L109.5 1683.4L108.6 1680.7L107.7 1677.9L106.8 1675.2L106.0 1672.4L105.2 1669.6L104.4 1666.9L103.7 1664.1L103.1 1661.3L102.4 1658.5L101.9 1655.7L101.3 1652.8L100.8 1650.0L100.3 1647.2L99.9 1644.3L99.5 1641.5L99.2 1638.7L98.9 1635.8L98.6 1633.0L98.4 1630.1L98.2 1627.3L98.1 1624.4L98.0 1621.5L97.9 1618.7Z" fill="#f8b9b3" stroke="#777" stroke-width="0.7"/>
<path d="M142.6 1724.9L144.1 1727.3L145.7 1729.6L147.4 1731.9L149.1 1734.2L150.8 1736.4L152.5 1738.7L154.3 1740.9L156.1 1743.1L157.9 1745.3L159.7 1747.5L161.6 1749.6L163.6 1751.7L165.5 1753.8L167.5 1755.9L169.5 1757.9L171.5 1760.0L173.6 1762.0L175.7 1763.9L177.8 1765.9L180.0 1767.8L182.2 1769.7L184.4 1771.6L186.6 1773.5L188.9 1775.3L191.1 1777.1L193.5 1778.9L195.8 1780.6L198.1 1782.4L200.5 1784.1L202.9 1785.7L205.4 1787.4L207.8 1789.0L210.3 1790.6L212.8 1792.1L215.3 1793.6L217.9 1795.1L220.4 1796.6L223.0 1798.1L225.6 1799.5L228.3 1800.8L222.6 1809.6L219.8 1808.2L217.1 1806.7L214.4 1805.2L211.7 1803.7L209.1 1802.1L206.4 1800.5L203.8 1798.9L201.2 1797.2L198.6 1795.5L196.1 1793.8L193.5 1792.1L191.0 1790.3L188.6 1788.5L186.1 1786.6L183.7 1784.8L181.3 1782.9L178.9 1781.0L176.6 1779.0L174.3 1777.1L172.0 1775.1L169.8 1773.0L167.5 1771.0L165.3 1768.9L163.2 1766.8L161.0 1764.7L158.9 1762.5L156.8 1760.4L154.8 1758.2L152.8 1756.0L150.8 1753.7L148.9 1751.4L146.9 1749.2L145.1 1746.9L143.2 1744.5L141.4 1742.2L139.6 1739.8L137.9 1737.4L136.2 1735.0L134.5 1732.6L132.8 1730.1Z" fill="#f9c4bd" stroke="#777" stroke-width="0.7"/>
<path d="M230.8 1802.1L233.4 1803.4L236.1 1804.7L238.8 1806.0L241.5 1807.2L244.3 1808.4L247.0 1809.6L249.8 1810.7L252.6 1811.8L255.4 1812.9L258.2 1813.9L261.0 1814.9L263.9 1815.9L266.7 1816.8L269.6 1817.7L272.5 1818.6L275.4 1819.5L278.3 1820.3L281.2 1821.0L284.1 1821.8L287.1 1822.5L290.0 1823.2L293.0 1823.8L295.9 1824.4L298.9 1825.0L301.9 1825.5L304.9 1826.0L307.9 1826.5L310.9 1826.9L313.9 1827.3L316.9 1827.7L320.0 1828.0L323.0 1828.3L326.0 1828.6L329.0 1828.8L332.1 1829.0L335.1 1829.2L338.2 1829.3L341.2 1829.4L344.3 1829.4L347.3 1829.4L347.3 1839.6L344.1 1839.6L340.9 1839.5L337.7 1839.4L334.5 1839.3L331.4 1839.1L328.2 1838.9L325.0 1838.7L321.8 1838.4L318.7 1838.1L315.5 1837.8L312.3 1837.4L309.2 1837.0L306.0 1836.5L302.9 1836.0L299.7 1835.5L296.6 1834.9L293.5 1834.3L290.4 1833.7L287.3 1833.0L284.2 1832.3L281.1 1831.6L278.0 1830.8L275.0 1830.0L271.9 1829.1L268.9 1828.3L265.9 1827.4L262.9 1826.4L259.9 1825.4L256.9 1824.4L253.9 1823.3L251.0 1822.3L248.1 1821.1L245.1 1820.0L242.2 1818.8L239.3 1817.6L236.5 1816.3L233.6 1815.0L230.8 1813.7L228.0 1812.4L225.2 1811.0Z" fill="#5b88d0" stroke="#777" stroke-width="0.7"/>
<text x="276.6" y="1379.3" font-size="20.5" text-anchor="middle" dominant-baseline="central" transform="rotate(-270.0 276.6 1379.3)">IL6</text>
<text x="146.2" y="1417.0" font-size="20.5" text-anchor="middle" dominant-baseline="central" transform="rotate(-306.0 146.2 1417.0)">HMOX1</text>
<text x="71.2" y="1546.3" font-size="20.5" text-anchor="middle" dominant-baseline="central" transform="rotate(-343.5 71.2 1546.3)">NFKB1</text>
<text x="55.2" y="1693.8" font-size="20.5" text-anchor="middle" dominant-baseline="central" transform="rotate(-17.0 55.2 1693.8)">SERPINA1</text>
<text x="143.6" y="1805.3" font-size="20.5" text-anchor="middle" dominant-baseline="central" transform="rotate(-54.0 143.6 1805.3)">VEGFR</text>
<text x="270.3" y="1852.3" font-size="20.5" text-anchor="middle" dominant-baseline="central" transform="rotate(-90.0 270.3 1852.3)">HP</text>
<text x="690.28" y="1369.54" font-size="20.3" text-anchor="middle">logFC</text>
<defs><linearGradient id="glfc" x1="0" y1="0" x2="1" y2="0"><stop offset="0" stop-color="#5a86cf"/><stop offset="0.5" stop-color="#fdfdfd"/><stop offset="1" stop-color="#ee4044"/></linearGradient></defs>
<rect x="621.26" y="1380.28" width="126.33" height="25.07" fill="url(#glfc)"/>
<text x="624.84" y="1423.26" font-size="20.3" text-anchor="middle">−3</text>
<text x="749.05" y="1423.26" font-size="20.3" text-anchor="middle">3</text>
<text x="613.44" y="1479.26" font-size="20.8">GO Trems</text>
<rect x="612.79" y="1504.65" width="23.8" height="23.8" fill="#88cfc3" stroke="#666" stroke-width="0.8"/>
<text x="650.23" y="1522.25" font-size="20.7">secretory granule lumen</text>
<rect x="612.79" y="1552.19" width="23.8" height="23.8" fill="#7eadd0" stroke="#666" stroke-width="0.8"/>
<text x="650.23" y="1569.79" font-size="20.7">acute inflammatory response</text>
<rect x="612.79" y="1599.72" width="23.8" height="23.8" fill="#f7f5b3" stroke="#666" stroke-width="0.8"/>
<text x="650.23" y="1617.32" font-size="20.7">cytoplasmic vesicle lumen</text>
<rect x="612.79" y="1647.26" width="23.8" height="23.8" fill="#f5b163" stroke="#666" stroke-width="0.8"/>
<text x="650.23" y="1664.86" font-size="20.7">gland development</text>
<rect x="612.79" y="1694.79" width="23.8" height="23.8" fill="#bdb9d9" stroke="#666" stroke-width="0.8"/>
<text x="650.23" y="1712.39" font-size="20.7">vesicle lumen</text>
<rect x="612.79" y="1742.33" width="23.8" height="23.8" fill="#aed468" stroke="#666" stroke-width="0.8"/>
<text x="650.23" y="1759.93" font-size="20.7">wound healing</text>
<rect x="612.79" y="1789.87" width="23.8" height="23.8" fill="#f17f71" stroke="#666" stroke-width="0.8"/>
<text x="650.23" y="1807.47" font-size="20.7">acute-phase response</text>
</g>
<g id="panel_g">
<text x="947.6" y="1329" font-size="35">G</text>
<text x="1505.71" y="1284.81" font-size="20.75" text-anchor="middle">KEGG Enrichment</text>
<line x1="1405.3" y1="1295.02" x2="1405.3" y2="1853.3" stroke="#f3f3f3" stroke-width="0.8"/>
<line x1="1470.85" y1="1295.02" x2="1470.85" y2="1853.3" stroke="#f3f3f3" stroke-width="0.8"/>
<line x1="1536.4" y1="1295.02" x2="1536.4" y2="1853.3" stroke="#f3f3f3" stroke-width="0.8"/>
<line x1="1601.95" y1="1295.02" x2="1601.95" y2="1853.3" stroke="#f3f3f3" stroke-width="0.8"/>
<line x1="1372.52" y1="1295.02" x2="1372.52" y2="1853.3" stroke="#ececec" stroke-width="1.2"/>
<line x1="1438.07" y1="1295.02" x2="1438.07" y2="1853.3" stroke="#ececec" stroke-width="1.2"/>
<line x1="1503.63" y1="1295.02" x2="1503.63" y2="1853.3" stroke="#ececec" stroke-width="1.2"/>
<line x1="1569.18" y1="1295.02" x2="1569.18" y2="1853.3" stroke="#ececec" stroke-width="1.2"/>
<line x1="1634.73" y1="1295.02" x2="1634.73" y2="1853.3" stroke="#ececec" stroke-width="1.2"/>
<line x1="1359.99" y1="1327.5" x2="1647.72" y2="1327.5" stroke="#ececec" stroke-width="1.2"/>
<line x1="1359.99" y1="1382.26" x2="1647.72" y2="1382.26" stroke="#ececec" stroke-width="1.2"/>
<line x1="1359.99" y1="1437.02" x2="1647.72" y2="1437.02" stroke="#ececec" stroke-width="1.2"/>
<line x1="1359.99" y1="1491.79" x2="1647.72" y2="1491.79" stroke="#ececec" stroke-width="1.2"/>
<line x1="1359.99" y1="1546.55" x2="1647.72" y2="1546.55" stroke="#ececec" stroke-width="1.2"/>
<line x1="1359.99" y1="1601.31" x2="1647.72" y2="1601.31" stroke="#ececec" stroke-width="1.2"/>
<line x1="1359.99" y1="1656.07" x2="1647.72" y2="1656.07" stroke="#ececec" stroke-width="1.2"/>
<line x1="1359.99" y1="1710.83" x2="1647.72" y2="1710.83" stroke="#ececec" stroke-width="1.2"/>
<line x1="1359.99" y1="1765.59" x2="1647.72" y2="1765.59" stroke="#ececec" stroke-width="1.2"/>
<line x1="1359.99" y1="1820.35" x2="1647.72" y2="1820.35" stroke="#ececec" stroke-width="1.2"/>
<circle cx="1634.73" cy="1327.5" r="7.9" fill="#6aa56a"/>
<line x1="1356.99" y1="1327.5" x2="1359.99" y2="1327.5" stroke="#333" stroke-width="1.1"/>
<text x="1353.03" y="1332.4" font-size="20.55" text-anchor="end">HIF−1 signaling pathway</text>
<circle cx="1503.63" cy="1382.26" r="6" fill="#86a262"/>
<line x1="1356.99" y1="1382.26" x2="1359.99" y2="1382.26" stroke="#333" stroke-width="1.1"/>
<text x="1353.03" y="1379.76" font-size="20.55" text-anchor="end">AGE−RAGE signaling pathway in diabetic</text>
<text x="1353.03" y="1396.06" font-size="20.55" text-anchor="end">complications</text>
<circle cx="1503.63" cy="1437.02" r="6" fill="#a2a05e"/>
<line x1="1356.99" y1="1437.02" x2="1359.99" y2="1437.02" stroke="#333" stroke-width="1.1"/>
<text x="1353.03" y="1441.92" font-size="20.55" text-anchor="end">Fluid shear stress and atherosclerosis</text>
<circle cx="1503.63" cy="1491.79" r="6" fill="#b69a5a"/>
<line x1="1356.99" y1="1491.79" x2="1359.99" y2="1491.79" stroke="#333" stroke-width="1.1"/>
<text x="1353.03" y="1489.29" font-size="20.55" text-anchor="end">Kaposi sarcoma−associated herpesvirus</text>
<text x="1353.03" y="1505.59" font-size="20.55" text-anchor="end">infection</text>
<circle cx="1503.63" cy="1546.55" r="6" fill="#ba9958"/>
<line x1="1356.99" y1="1546.55" x2="1359.99" y2="1546.55" stroke="#333" stroke-width="1.1"/>
<text x="1353.03" y="1551.45" font-size="20.55" text-anchor="end">Human cytomegalovirus infection</text>
<circle cx="1503.63" cy="1601.31" r="6" fill="#bd9857"/>
<line x1="1356.99" y1="1601.31" x2="1359.99" y2="1601.31" stroke="#333" stroke-width="1.1"/>
<text x="1353.03" y="1598.81" font-size="20.55" text-anchor="end">Chemical carcinogenesis − reactive</text>
<text x="1353.03" y="1615.11" font-size="20.55" text-anchor="end">oxygen species</text>
<circle cx="1503.63" cy="1656.07" r="6" fill="#e67150"/>
<line x1="1356.99" y1="1656.07" x2="1359.99" y2="1656.07" stroke="#333" stroke-width="1.1"/>
<text x="1353.03" y="1660.97" font-size="20.55" text-anchor="end">MicroRNAs in cancer</text>
<circle cx="1503.63" cy="1710.83" r="6" fill="#e66a50"/>
<line x1="1356.99" y1="1710.83" x2="1359.99" y2="1710.83" stroke="#333" stroke-width="1.1"/>
<text x="1353.03" y="1715.73" font-size="20.55" text-anchor="end">PI3K−Akt signaling pathway</text>
<circle cx="1372.52" cy="1765.59" r="1.9" fill="#c08f52"/>
<line x1="1356.99" y1="1765.59" x2="1359.99" y2="1765.59" stroke="#333" stroke-width="1.1"/>
<text x="1353.03" y="1770.49" font-size="20.55" text-anchor="end">Antifolate resistance</text>
<circle cx="1372.52" cy="1820.35" r="1.9" fill="#dc7252"/>
<line x1="1356.99" y1="1820.35" x2="1359.99" y2="1820.35" stroke="#333" stroke-width="1.1"/>
<text x="1353.03" y="1825.25" font-size="20.55" text-anchor="end">Legionellosis</text>
<rect x="1359.99" y="1295.02" width="287.73" height="558.29" fill="none" stroke="#333" stroke-width="1.3"/>
<line x1="1372.52" y1="1853.3" x2="1372.52" y2="1856.3" stroke="#333" stroke-width="1.1"/>
<text x="1375.52" y="1873.26" font-size="21" text-anchor="middle">2.0</text>
<line x1="1438.07" y1="1853.3" x2="1438.07" y2="1856.3" stroke="#333" stroke-width="1.1"/>
<text x="1441.07" y="1873.26" font-size="21" text-anchor="middle">2.5</text>
<line x1="1503.63" y1="1853.3" x2="1503.63" y2="1856.3" stroke="#333" stroke-width="1.1"/>
<text x="1506.63" y="1873.26" font-size="21" text-anchor="middle">3.0</text>
<line x1="1569.18" y1="1853.3" x2="1569.18" y2="1856.3" stroke="#333" stroke-width="1.1"/>
<text x="1572.18" y="1873.26" font-size="21" text-anchor="middle">3.5</text>
<line x1="1634.73" y1="1853.3" x2="1634.73" y2="1856.3" stroke="#333" stroke-width="1.1"/>
<text x="1637.73" y="1873.26" font-size="21" text-anchor="middle">4.0</text>
<text x="1508.5" y="1892.75" font-size="21" text-anchor="middle">Gene Number</text>
<text x="966.2" y="1570.3" font-size="20.3" text-anchor="middle" transform="rotate(-90 966.2 1570.3)">Pathways</text>
<rect x="1659.79" y="1439.81" width="90.5" height="128.09" fill="#fff" stroke="#333" stroke-width="1"/>
<text x="1666.29" y="1457.44" font-size="21">p.Value</text>
<defs><linearGradient id="gpv" x1="0" y1="0" x2="0" y2="1"><stop offset="0" stop-color="#ee5a5a"/><stop offset="0.35" stop-color="#d08356"/><stop offset="0.7" stop-color="#9ea060"/><stop offset="1" stop-color="#5fad82"/></linearGradient></defs>
<rect x="1666.29" y="1467.19" width="19.03" height="96.06" fill="url(#gpv)"/>
<line x1="1666.29" y1="1473.69" x2="1670" y2="1473.69" stroke="#fff" stroke-width="0.8"/>
<line x1="1681.6" y1="1473.69" x2="1685.31" y2="1473.69" stroke="#fff" stroke-width="0.8"/>
<text x="1690.88" y="1480.89" font-size="21">0.008</text>
<line x1="1666.29" y1="1495.82" x2="1670" y2="1495.82" stroke="#fff" stroke-width="0.8"/>
<line x1="1681.6" y1="1495.82" x2="1685.31" y2="1495.82" stroke="#fff" stroke-width="0.8"/>
<text x="1690.88" y="1503.02" font-size="21">0.006</text>
<line x1="1666.29" y1="1517.96" x2="1670" y2="1517.96" stroke="#fff" stroke-width="0.8"/>
<line x1="1681.6" y1="1517.96" x2="1685.31" y2="1517.96" stroke="#fff" stroke-width="0.8"/>
<text x="1690.88" y="1525.16" font-size="21">0.004</text>
<line x1="1666.29" y1="1540.1" x2="1670" y2="1540.1" stroke="#fff" stroke-width="0.8"/>
<line x1="1681.6" y1="1540.1" x2="1685.31" y2="1540.1" stroke="#fff" stroke-width="0.8"/>
<text x="1690.88" y="1547.3" font-size="21">0.002</text>
<rect x="1659.79" y="1579.5" width="72.4" height="122.98" fill="#fff" stroke="#333" stroke-width="1"/>
<text x="1666.29" y="1597.13" font-size="21">Count</text>
<circle cx="1675.57" cy="1613.67" r="1.9" fill="#000"/>
<text x="1690.88" y="1618.97" font-size="21">2.0</text>
<circle cx="1675.57" cy="1632.7" r="4.6" fill="#000"/>
<text x="1690.88" y="1638" font-size="21">2.5</text>
<circle cx="1675.57" cy="1651.73" r="6" fill="#000"/>
<text x="1690.88" y="1657.03" font-size="21">3.0</text>
<circle cx="1675.57" cy="1670.76" r="7" fill="#000"/>
<text x="1690.88" y="1676.06" font-size="21">3.5</text>
<circle cx="1675.57" cy="1689.78" r="7.9" fill="#000"/>
<text x="1690.88" y="1695.08" font-size="21">4.0</text>
</g>
</svg>
</body>
</html>
